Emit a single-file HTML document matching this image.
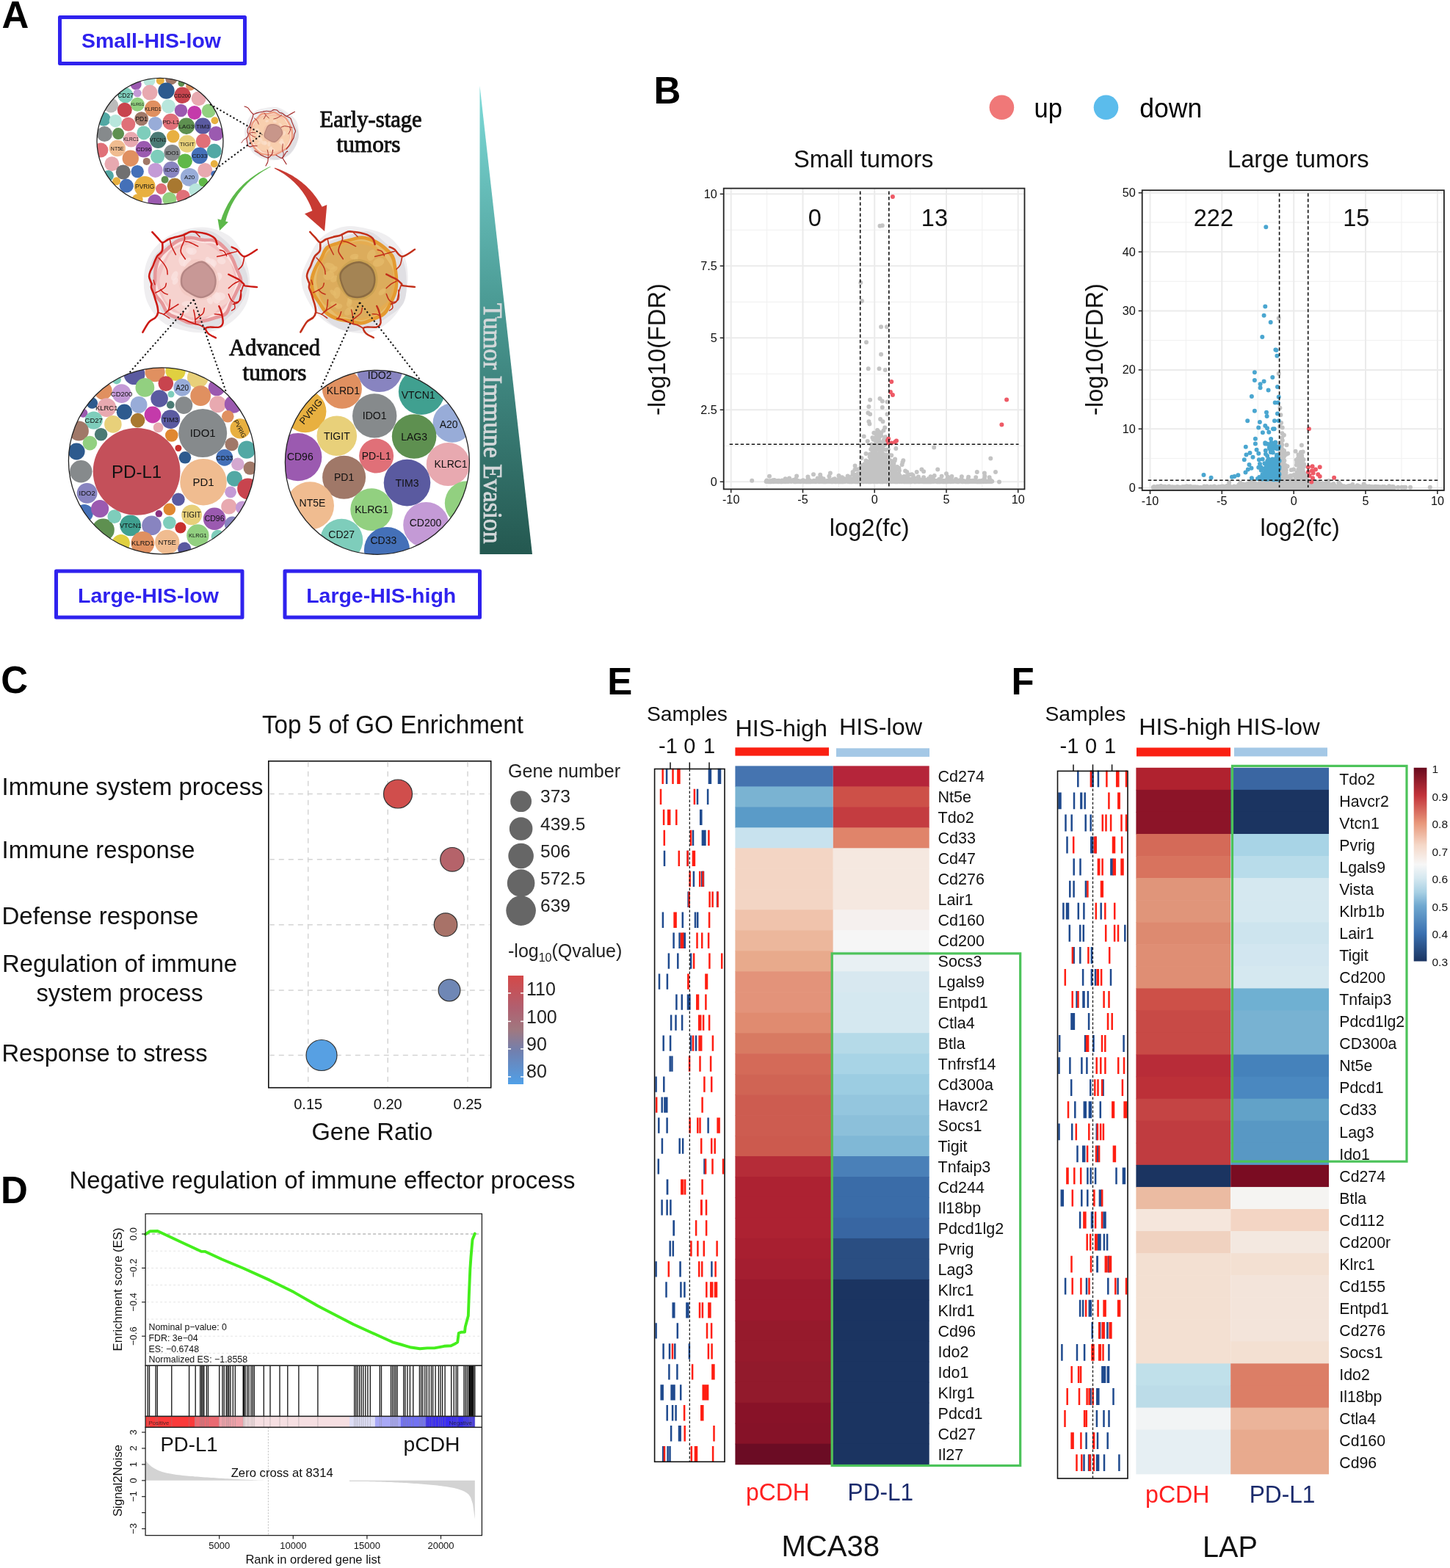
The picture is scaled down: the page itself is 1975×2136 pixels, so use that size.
<!DOCTYPE html>
<html><head><meta charset="utf-8"><title>Figure</title>
<style>html,body{margin:0;padding:0;background:#fff;} svg{display:block;}</style>
</head><body>
<svg width="1975" height="2136" viewBox="0 0 1975 2136">
<rect x="0" y="0" width="1975" height="2136" fill="#fff"/>
<clipPath id="cs"><circle cx="218.0" cy="192.3" r="86.0"/></clipPath>
<circle cx="218.0" cy="192.3" r="86.0" fill="#fff"/>
<g clip-path="url(#cs)">
<circle cx="203.4" cy="109.9" r="8.0" fill="#b8e6dc"/>
<circle cx="218.3" cy="109.9" r="5.5" fill="#e8b040"/>
<circle cx="233.3" cy="107.4" r="8.0" fill="#a07868"/>
<circle cx="185.2" cy="114.9" r="7.5" fill="#9b5ab0"/>
<circle cx="247.0" cy="113.6" r="4.5" fill="#5e9050"/>
<circle cx="259.4" cy="117.4" r="6.2" fill="#e09060"/>
<circle cx="171.0" cy="129.8" r="10.5" fill="#7ecdbb"/>
<circle cx="187.2" cy="126.8" r="5.5" fill="#c49ad6"/>
<circle cx="204.1" cy="126.1" r="10.5" fill="#e8a9b0"/>
<circle cx="226.5" cy="123.6" r="11.2" fill="#2d5a8e"/>
<circle cx="248.5" cy="129.8" r="11.2" fill="#c8444e"/>
<circle cx="270.6" cy="134.3" r="10.0" fill="#e8a9b0"/>
<circle cx="151.1" cy="143.5" r="10.0" fill="#bbbbbb"/>
<circle cx="187.2" cy="142.3" r="9.5" fill="#92d080"/>
<circle cx="208.4" cy="148.0" r="11.2" fill="#e09060"/>
<circle cx="229.5" cy="144.8" r="9.5" fill="#b8e6dc"/>
<circle cx="246.5" cy="150.5" r="8.7" fill="#9b5ab0"/>
<circle cx="264.9" cy="153.5" r="9.5" fill="#c43aaa"/>
<circle cx="284.3" cy="151.0" r="9.5" fill="#92d080"/>
<circle cx="169.8" cy="149.7" r="10.0" fill="#c8444e"/>
<circle cx="141.2" cy="162.2" r="9.5" fill="#52a8a4"/>
<circle cx="157.3" cy="164.7" r="8.7" fill="#b8e6dc"/>
<circle cx="192.7" cy="161.7" r="9.5" fill="#a07868"/>
<circle cx="211.6" cy="168.4" r="9.5" fill="#98acd8"/>
<circle cx="232.8" cy="165.9" r="11.2" fill="#e07078"/>
<circle cx="253.9" cy="171.7" r="11.2" fill="#5e9050"/>
<circle cx="276.3" cy="171.7" r="11.2" fill="#5a5aa0"/>
<circle cx="292.5" cy="164.2" r="5.0" fill="#e8b040"/>
<circle cx="174.8" cy="169.2" r="9.5" fill="#e07078"/>
<circle cx="142.4" cy="182.6" r="10.5" fill="#868a8c"/>
<circle cx="161.1" cy="182.1" r="8.0" fill="#5e9050"/>
<circle cx="195.9" cy="180.9" r="9.5" fill="#7ecdbb"/>
<circle cx="178.5" cy="190.1" r="10.5" fill="#e8a9b0"/>
<circle cx="215.3" cy="190.8" r="11.2" fill="#4a7a74"/>
<circle cx="235.8" cy="185.8" r="8.7" fill="#e8b040"/>
<circle cx="254.9" cy="195.8" r="11.9" fill="#e8d07a"/>
<circle cx="276.8" cy="192.1" r="10.0" fill="#e07078"/>
<circle cx="294.3" cy="182.1" r="10.0" fill="#9b5ab0"/>
<circle cx="159.8" cy="202.0" r="11.2" fill="#f0bc90"/>
<circle cx="195.9" cy="203.3" r="11.2" fill="#9b5ab0"/>
<circle cx="234.5" cy="208.2" r="11.2" fill="#868a8c"/>
<circle cx="271.9" cy="212.0" r="11.2" fill="#4470b8"/>
<circle cx="291.8" cy="205.8" r="10.0" fill="#52a8a4"/>
<circle cx="137.4" cy="204.5" r="10.0" fill="#e07078"/>
<circle cx="177.8" cy="215.7" r="11.2" fill="#e09060"/>
<circle cx="214.6" cy="213.2" r="9.5" fill="#7ecdbb"/>
<circle cx="251.9" cy="219.4" r="10.0" fill="#60b848"/>
<circle cx="199.7" cy="219.9" r="5.0" fill="#a07868"/>
<circle cx="152.4" cy="223.2" r="10.0" fill="#e8a9b0"/>
<circle cx="167.8" cy="234.4" r="10.0" fill="#707070"/>
<circle cx="187.2" cy="233.6" r="8.7" fill="#4470b8"/>
<circle cx="211.6" cy="231.9" r="10.0" fill="#c49ad6"/>
<circle cx="233.3" cy="231.2" r="11.2" fill="#8884c0"/>
<circle cx="258.2" cy="241.4" r="12.4" fill="#98acd8"/>
<circle cx="279.3" cy="231.9" r="10.0" fill="#e8a9b0"/>
<circle cx="291.8" cy="223.2" r="5.0" fill="#e8b040"/>
<circle cx="147.4" cy="239.4" r="7.5" fill="#52a8a4"/>
<circle cx="158.6" cy="246.8" r="5.5" fill="#e8b040"/>
<circle cx="172.3" cy="253.1" r="9.5" fill="#4470b8"/>
<circle cx="197.2" cy="254.3" r="14.4" fill="#e8b040"/>
<circle cx="219.6" cy="257.3" r="7.5" fill="#e07078"/>
<circle cx="224.6" cy="244.8" r="5.0" fill="#5e9050"/>
<circle cx="238.2" cy="253.1" r="10.5" fill="#a87830"/>
<circle cx="249.4" cy="268.0" r="9.5" fill="#e07078"/>
<circle cx="266.9" cy="259.3" r="9.5" fill="#b8e6dc"/>
<circle cx="276.8" cy="248.1" r="6.2" fill="#60b848"/>
<circle cx="210.9" cy="274.2" r="9.5" fill="#9b5ab0"/>
<circle cx="230.8" cy="271.2" r="9.5" fill="#92d080"/>
<circle cx="187.2" cy="271.7" r="7.5" fill="#e8b040"/>
<circle cx="291.8" cy="236.9" r="4.5" fill="#4470b8"/>
<text x="171.0" y="132.9" font-size="8.5" text-anchor="middle" fill="#111" font-family="'Liberation Sans', Arial, sans-serif" >CD27</text>
<text x="248.5" y="132.5" font-size="7.5" text-anchor="middle" fill="#111" font-family="'Liberation Sans', Arial, sans-serif" >CD200</text>
<text x="187.2" y="144.3" font-size="5.5" text-anchor="middle" fill="#111" font-family="'Liberation Sans', Arial, sans-serif" >KLRG1</text>
<text x="208.4" y="150.5" font-size="7" text-anchor="middle" fill="#111" font-family="'Liberation Sans', Arial, sans-serif" >KLRD1</text>
<text x="192.7" y="164.8" font-size="8.5" text-anchor="middle" fill="#111" font-family="'Liberation Sans', Arial, sans-serif" >PD1</text>
<text x="232.8" y="168.8" font-size="8" text-anchor="middle" fill="#111" font-family="'Liberation Sans', Arial, sans-serif" >PD-L1</text>
<text x="253.9" y="174.5" font-size="8" text-anchor="middle" fill="#111" font-family="'Liberation Sans', Arial, sans-serif" >LAG3</text>
<text x="276.3" y="174.5" font-size="8" text-anchor="middle" fill="#111" font-family="'Liberation Sans', Arial, sans-serif" >TIM3</text>
<text x="178.5" y="192.4" font-size="6.5" text-anchor="middle" fill="#111" font-family="'Liberation Sans', Arial, sans-serif" >KLRC1</text>
<text x="215.3" y="193.3" font-size="7" text-anchor="middle" fill="#111" font-family="'Liberation Sans', Arial, sans-serif" >VTCN1</text>
<text x="254.9" y="198.7" font-size="8" text-anchor="middle" fill="#111" font-family="'Liberation Sans', Arial, sans-serif" >TIGIT</text>
<text x="159.8" y="204.5" font-size="7" text-anchor="middle" fill="#111" font-family="'Liberation Sans', Arial, sans-serif" >NT5E</text>
<text x="195.9" y="206.1" font-size="8" text-anchor="middle" fill="#111" font-family="'Liberation Sans', Arial, sans-serif" >CD96</text>
<text x="234.5" y="211.1" font-size="8" text-anchor="middle" fill="#111" font-family="'Liberation Sans', Arial, sans-serif" >IDO1</text>
<text x="271.9" y="214.9" font-size="8" text-anchor="middle" fill="#111" font-family="'Liberation Sans', Arial, sans-serif" >CD33</text>
<text x="233.3" y="234.0" font-size="8" text-anchor="middle" fill="#111" font-family="'Liberation Sans', Arial, sans-serif" >IDO2</text>
<text x="258.2" y="244.2" font-size="8" text-anchor="middle" fill="#111" font-family="'Liberation Sans', Arial, sans-serif" >A20</text>
<text x="197.2" y="257.4" font-size="8.5" text-anchor="middle" fill="#111" font-family="'Liberation Sans', Arial, sans-serif" >PVRIG</text>
</g>
<circle cx="218.0" cy="192.3" r="86.0" fill="none" stroke="#222" stroke-width="1.3"/>
<clipPath id="cl"><circle cx="220.4" cy="627.8" r="127.0"/></clipPath>
<circle cx="220.4" cy="627.8" r="127.0" fill="#fff"/>
<g clip-path="url(#cl)">
<circle cx="183.0" cy="509.7" r="14.4" fill="#5a5aa0"/>
<circle cx="211.1" cy="506.7" r="13.6" fill="#e09060"/>
<circle cx="239.1" cy="505.2" r="13.6" fill="#e0d040"/>
<circle cx="269.4" cy="514.2" r="14.4" fill="#e8d07a"/>
<circle cx="295.2" cy="527.9" r="11.4" fill="#9b5ab0"/>
<circle cx="158.8" cy="517.3" r="6.1" fill="#7ecdbb"/>
<circle cx="140.6" cy="532.4" r="12.1" fill="#e09060"/>
<circle cx="165.6" cy="536.2" r="12.9" fill="#c49ad6"/>
<circle cx="197.4" cy="527.9" r="12.9" fill="#92d080"/>
<circle cx="225.8" cy="522.6" r="10.3" fill="#c8444e"/>
<circle cx="248.2" cy="527.9" r="11.8" fill="#98acd8"/>
<circle cx="233.0" cy="537.0" r="4.5" fill="#7ecdbb"/>
<circle cx="273.2" cy="539.2" r="13.9" fill="#e09060"/>
<circle cx="125.5" cy="549.1" r="7.6" fill="#2d5a8e"/>
<circle cx="145.2" cy="555.2" r="12.9" fill="#e8a9b0"/>
<circle cx="169.4" cy="561.2" r="10.6" fill="#2d5a8e"/>
<circle cx="189.1" cy="551.4" r="11.4" fill="#98acd8"/>
<circle cx="217.1" cy="543.0" r="11.8" fill="#5a5aa0"/>
<circle cx="232.3" cy="551.4" r="5.3" fill="#4a7a74"/>
<circle cx="250.5" cy="552.1" r="11.8" fill="#868a8c"/>
<circle cx="296.7" cy="550.6" r="11.4" fill="#e8a9b0"/>
<circle cx="317.9" cy="550.6" r="12.1" fill="#9b5ab0"/>
<circle cx="113.3" cy="562.7" r="6.1" fill="#9b5ab0"/>
<circle cx="127.7" cy="572.6" r="12.1" fill="#7ecdbb"/>
<circle cx="153.9" cy="577.9" r="11.8" fill="#e8d07a"/>
<circle cx="187.6" cy="572.6" r="9.8" fill="#a87830"/>
<circle cx="208.0" cy="565.0" r="11.4" fill="#c43aaa"/>
<circle cx="215.6" cy="582.4" r="6.8" fill="#e8a9b0"/>
<circle cx="232.3" cy="571.1" r="12.9" fill="#5a5aa0"/>
<circle cx="310.3" cy="567.3" r="8.3" fill="#e09060"/>
<circle cx="107.3" cy="587.0" r="13.6" fill="#a07868"/>
<circle cx="137.6" cy="591.8" r="8.8" fill="#4a7a74"/>
<circle cx="233.8" cy="593.0" r="8.8" fill="#e08830"/>
<circle cx="327.0" cy="583.9" r="13.6" fill="#e8b040"/>
<circle cx="122.4" cy="603.6" r="9.8" fill="#92d080"/>
<circle cx="104.2" cy="615.0" r="11.4" fill="#2d5a8e"/>
<circle cx="242.9" cy="610.5" r="4.5" fill="#c8302e"/>
<circle cx="252.0" cy="623.3" r="8.3" fill="#2d5a8e"/>
<circle cx="315.6" cy="605.2" r="9.1" fill="#a07868"/>
<circle cx="336.1" cy="612.7" r="12.1" fill="#52a8a4"/>
<circle cx="323.9" cy="632.4" r="8.8" fill="#d4a8d0"/>
<circle cx="340.6" cy="637.7" r="9.1" fill="#a07868"/>
<circle cx="319.4" cy="652.1" r="10.6" fill="#52a8a4"/>
<circle cx="337.6" cy="665.8" r="14.4" fill="#c8444e"/>
<circle cx="314.1" cy="670.3" r="7.9" fill="#c49ad6"/>
<circle cx="311.8" cy="690.0" r="10.6" fill="#e8a9b0"/>
<circle cx="316.4" cy="714.2" r="10.6" fill="#8884c0"/>
<circle cx="330.0" cy="691.5" r="9.1" fill="#c49ad6"/>
<circle cx="110.3" cy="642.3" r="15.2" fill="#868a8c"/>
<circle cx="118.6" cy="671.8" r="13.9" fill="#8884c0"/>
<circle cx="114.8" cy="699.1" r="12.1" fill="#4470b8"/>
<circle cx="136.1" cy="693.0" r="12.1" fill="#9b5ab0"/>
<circle cx="140.6" cy="721.8" r="15.2" fill="#5e9050"/>
<circle cx="155.8" cy="703.6" r="9.4" fill="#7ecdbb"/>
<circle cx="164.8" cy="740.0" r="12.1" fill="#e0d040"/>
<circle cx="177.7" cy="715.8" r="14.4" fill="#40a090"/>
<circle cx="206.5" cy="715.8" r="13.3" fill="#8884c0"/>
<circle cx="194.4" cy="740.0" r="15.9" fill="#e09060"/>
<circle cx="227.7" cy="738.5" r="16.7" fill="#f0bc90"/>
<circle cx="230.8" cy="712.0" r="8.8" fill="#7ecdbb"/>
<circle cx="245.9" cy="718.8" r="7.6" fill="#c8302e"/>
<circle cx="216.4" cy="699.8" r="4.8" fill="#8a3080"/>
<circle cx="230.8" cy="693.8" r="8.3" fill="#e08830"/>
<circle cx="242.9" cy="680.2" r="8.8" fill="#5a5aa0"/>
<circle cx="269.4" cy="729.4" r="15.2" fill="#92d080"/>
<circle cx="296.7" cy="730.9" r="9.1" fill="#7ecdbb"/>
<circle cx="251.2" cy="747.6" r="9.1" fill="#5a5aa0"/>
<circle cx="261.1" cy="701.4" r="13.9" fill="#e8d07a"/>
<circle cx="292.1" cy="706.7" r="15.2" fill="#9b5ab0"/>
<circle cx="305.8" cy="623.3" r="11.4" fill="#4470b8"/>
<circle cx="276.2" cy="590.0" r="33.0" fill="#868a8c"/>
<circle cx="277.0" cy="656.7" r="31.8" fill="#f0bc90"/>
<circle cx="186.1" cy="642.3" r="59.4" fill="#c4505a"/>
<text x="165.6" y="539.6" font-size="9.5" text-anchor="middle" fill="#111" font-family="'Liberation Sans', Arial, sans-serif" >CD200</text>
<text x="248.2" y="531.5" font-size="10" text-anchor="middle" fill="#111" font-family="'Liberation Sans', Arial, sans-serif" >A20</text>
<text x="145.2" y="558.6" font-size="9.5" text-anchor="middle" fill="#111" font-family="'Liberation Sans', Arial, sans-serif" >KLRC1</text>
<text x="127.7" y="576.0" font-size="9.5" text-anchor="middle" fill="#111" font-family="'Liberation Sans', Arial, sans-serif" >CD27</text>
<text x="232.3" y="574.5" font-size="9.5" text-anchor="middle" fill="#111" font-family="'Liberation Sans', Arial, sans-serif" >TIM3</text>
<text x="327.0" y="587.0" font-size="8.5" text-anchor="middle" fill="#111" font-family="'Liberation Sans', Arial, sans-serif" transform="rotate(62 327.0 583.9)">PVRIG</text>
<text x="118.6" y="675.2" font-size="9.5" text-anchor="middle" fill="#111" font-family="'Liberation Sans', Arial, sans-serif" >IDO2</text>
<text x="177.7" y="719.0" font-size="9" text-anchor="middle" fill="#111" font-family="'Liberation Sans', Arial, sans-serif" >VTCN1</text>
<text x="194.4" y="743.4" font-size="9.5" text-anchor="middle" fill="#111" font-family="'Liberation Sans', Arial, sans-serif" >KLRD1</text>
<text x="227.7" y="741.9" font-size="9.5" text-anchor="middle" fill="#111" font-family="'Liberation Sans', Arial, sans-serif" >NT5E</text>
<text x="269.4" y="732.1" font-size="7.5" text-anchor="middle" fill="#111" font-family="'Liberation Sans', Arial, sans-serif" >KLRG1</text>
<text x="261.1" y="705.0" font-size="10" text-anchor="middle" fill="#111" font-family="'Liberation Sans', Arial, sans-serif" >TIGIT</text>
<text x="292.1" y="710.4" font-size="10.5" text-anchor="middle" fill="#111" font-family="'Liberation Sans', Arial, sans-serif" >CD96</text>
<text x="305.8" y="626.6" font-size="9" text-anchor="middle" fill="#111" font-family="'Liberation Sans', Arial, sans-serif" >CD33</text>
<text x="276.2" y="595.4" font-size="15" text-anchor="middle" fill="#111" font-family="'Liberation Sans', Arial, sans-serif" >IDO1</text>
<text x="277.0" y="662.1" font-size="15" text-anchor="middle" fill="#111" font-family="'Liberation Sans', Arial, sans-serif" >PD1</text>
<text x="186.1" y="650.9" font-size="24" text-anchor="middle" fill="#111" font-family="'Liberation Sans', Arial, sans-serif" >PD-L1</text>
</g>
<circle cx="220.4" cy="627.8" r="127.0" fill="none" stroke="#222" stroke-width="1.3"/>
<clipPath id="ch"><circle cx="513.9" cy="629.8" r="125.5"/></clipPath>
<circle cx="513.9" cy="629.8" r="125.5" fill="#fff"/>
<g clip-path="url(#ch)">
<circle cx="517.1" cy="502.9" r="31.1" fill="#8884c0"/>
<circle cx="465.9" cy="529.7" r="27.0" fill="#e09060"/>
<circle cx="574.2" cy="533.6" r="31.4" fill="#40a090"/>
<circle cx="415.6" cy="560.5" r="28.8" fill="#e8b040"/>
<circle cx="510.2" cy="566.4" r="30.2" fill="#868a8c"/>
<circle cx="458.8" cy="593.8" r="27.3" fill="#e8d07a"/>
<circle cx="616.4" cy="575.9" r="26.8" fill="#98acd8"/>
<circle cx="564.1" cy="594.5" r="30.3" fill="#5e9050"/>
<circle cx="405.8" cy="622.6" r="32.6" fill="#9b5ab0"/>
<circle cx="512.6" cy="621.1" r="23.5" fill="#e07078"/>
<circle cx="610.3" cy="632.4" r="29.5" fill="#e8a9b0"/>
<circle cx="468.6" cy="650.2" r="29.5" fill="#a07868"/>
<circle cx="554.5" cy="657.6" r="31.8" fill="#5a5aa0"/>
<circle cx="422.4" cy="688.8" r="32.6" fill="#f0bc90"/>
<circle cx="636.1" cy="685.5" r="30.3" fill="#92d080"/>
<circle cx="506.1" cy="694.1" r="28.8" fill="#92d080"/>
<circle cx="580.3" cy="715.0" r="31.1" fill="#c49ad6"/>
<circle cx="465.2" cy="735.8" r="29.1" fill="#7ecdbb"/>
<circle cx="527.0" cy="749.1" r="31.1" fill="#4470b8"/>
<text x="517.1" y="516.3" font-size="14" text-anchor="middle" fill="#111" font-family="'Liberation Sans', Arial, sans-serif" >IDO2</text>
<text x="467.4" y="537.0" font-size="14" text-anchor="middle" fill="#111" font-family="'Liberation Sans', Arial, sans-serif" >KLRD1</text>
<text x="569.7" y="543.2" font-size="14" text-anchor="middle" fill="#111" font-family="'Liberation Sans', Arial, sans-serif" >VTCN1</text>
<text x="423.2" y="565.1" font-size="13" text-anchor="middle" fill="#111" font-family="'Liberation Sans', Arial, sans-serif" transform="rotate(-50 423.2 560.5)">PVRIG</text>
<text x="510.2" y="571.4" font-size="14" text-anchor="middle" fill="#111" font-family="'Liberation Sans', Arial, sans-serif" >IDO1</text>
<text x="458.8" y="598.8" font-size="14" text-anchor="middle" fill="#111" font-family="'Liberation Sans', Arial, sans-serif" >TIGIT</text>
<text x="611.1" y="583.2" font-size="14" text-anchor="middle" fill="#111" font-family="'Liberation Sans', Arial, sans-serif" >A20</text>
<text x="564.1" y="599.6" font-size="14" text-anchor="middle" fill="#111" font-family="'Liberation Sans', Arial, sans-serif" >LAG3</text>
<text x="408.8" y="626.9" font-size="14" text-anchor="middle" fill="#111" font-family="'Liberation Sans', Arial, sans-serif" >CD96</text>
<text x="512.6" y="626.1" font-size="14" text-anchor="middle" fill="#111" font-family="'Liberation Sans', Arial, sans-serif" >PD-L1</text>
<text x="614.1" y="636.7" font-size="14" text-anchor="middle" fill="#111" font-family="'Liberation Sans', Arial, sans-serif" >KLRC1</text>
<text x="468.6" y="655.2" font-size="14" text-anchor="middle" fill="#111" font-family="'Liberation Sans', Arial, sans-serif" >PD1</text>
<text x="554.5" y="662.6" font-size="14" text-anchor="middle" fill="#111" font-family="'Liberation Sans', Arial, sans-serif" >TIM3</text>
<text x="425.5" y="690.0" font-size="14" text-anchor="middle" fill="#111" font-family="'Liberation Sans', Arial, sans-serif" >NT5E</text>
<text x="506.1" y="699.1" font-size="14" text-anchor="middle" fill="#111" font-family="'Liberation Sans', Arial, sans-serif" >KLRG1</text>
<text x="579.5" y="717.0" font-size="14" text-anchor="middle" fill="#111" font-family="'Liberation Sans', Arial, sans-serif" >CD200</text>
<text x="465.2" y="733.2" font-size="14" text-anchor="middle" fill="#111" font-family="'Liberation Sans', Arial, sans-serif" >CD27</text>
<text x="522.4" y="740.5" font-size="14" text-anchor="middle" fill="#111" font-family="'Liberation Sans', Arial, sans-serif" >CD33</text>
</g>
<circle cx="513.9" cy="629.8" r="125.5" fill="none" stroke="#222" stroke-width="1.3"/>
<path d="M406.7,181.6 C406.6,187.0 405.5,192.7 403.3,197.7 C401.2,202.6 397.9,208.1 393.7,211.4 C389.5,214.7 383.5,216.4 378.2,217.4 C372.8,218.4 367.0,218.7 361.8,217.5 C356.6,216.4 350.9,214.0 346.9,210.6 C342.9,207.2 339.9,202.0 337.7,197.2 C335.4,192.3 333.3,186.9 333.1,181.6 C332.9,176.3 334.2,170.4 336.5,165.5 C338.7,160.5 342.2,155.2 346.5,152.1 C350.8,149.0 356.8,147.8 362.1,146.9 C367.3,145.9 373.0,145.1 378.1,146.3 C383.1,147.4 387.9,150.6 392.2,153.7 C396.5,156.9 401.6,160.6 404.0,165.2 C406.4,169.9 406.8,176.2 406.7,181.6Z" fill="#efeef0"/>
<path d="M406.9,183.6 C407.1,188.5 405.0,193.9 402.8,198.4 C400.6,202.9 397.3,207.3 393.5,210.5 C389.6,213.7 384.6,216.8 379.8,217.6 C375.0,218.5 369.5,216.8 364.7,215.5 C359.9,214.3 354.8,213.0 350.8,210.2 C346.8,207.4 342.8,203.2 340.5,198.8 C338.3,194.3 337.0,188.6 337.2,183.6 C337.4,178.6 339.1,173.2 341.5,168.9 C344.0,164.7 347.9,161.2 351.8,158.2 C355.6,155.3 359.9,152.7 364.6,151.2 C369.3,149.7 375.3,148.1 379.8,149.3 C384.4,150.5 388.5,155.1 392.1,158.4 C395.7,161.7 399.2,165.1 401.7,169.3 C404.2,173.5 406.7,178.7 406.9,183.6Z" fill="#e0dfe3"/>
<path d="M399.2,182.6 C399.3,185.5 399.2,188.5 398.4,191.2 C397.7,194.0 396.5,196.9 394.8,199.2 C393.1,201.5 390.6,203.2 388.3,204.8 C386.0,206.5 383.6,207.8 381.1,209.1 C378.6,210.3 376.0,211.8 373.3,212.3 C370.5,212.8 367.6,212.3 364.8,212.0 C361.9,211.8 358.8,211.9 356.1,210.8 C353.5,209.8 351.0,207.8 348.9,205.8 C346.7,203.9 344.8,201.6 343.3,199.1 C341.8,196.7 340.6,193.9 339.8,191.2 C339.0,188.4 338.2,185.4 338.3,182.6 C338.5,179.8 339.9,177.0 340.8,174.3 C341.6,171.6 342.1,168.6 343.6,166.3 C345.1,164.0 347.6,162.3 349.7,160.3 C351.8,158.3 353.5,155.3 356.0,154.1 C358.5,153.0 361.9,154.1 364.8,153.7 C367.7,153.3 370.7,151.5 373.4,151.8 C376.1,152.2 378.5,154.7 381.2,156.0 C383.8,157.2 387.0,157.6 389.1,159.4 C391.3,161.1 392.7,164.0 394.2,166.4 C395.6,168.9 397.0,171.4 397.8,174.1 C398.7,176.8 399.1,179.7 399.2,182.6Z" fill="#ee9c80"/>
<path d="M396.9,182.6 C397.0,185.2 396.8,188.0 396.1,190.6 C395.4,193.1 394.4,195.8 392.8,197.9 C391.2,200.0 388.9,201.6 386.8,203.1 C384.7,204.6 382.4,205.9 380.1,207.0 C377.8,208.1 375.4,209.5 372.9,210.0 C370.4,210.4 367.7,210.0 365.1,209.7 C362.5,209.5 359.6,209.6 357.1,208.6 C354.7,207.7 352.4,205.8 350.4,204.0 C348.5,202.2 346.7,200.1 345.3,197.8 C343.9,195.6 342.9,193.0 342.1,190.5 C341.3,188.0 340.6,185.2 340.7,182.6 C340.9,180.0 342.2,177.5 343.0,175.0 C343.8,172.5 344.3,169.7 345.6,167.6 C347.0,165.4 349.3,163.9 351.2,162.1 C353.1,160.2 354.7,157.4 357.0,156.4 C359.4,155.4 362.5,156.3 365.2,155.9 C367.8,155.6 370.6,153.9 373.1,154.3 C375.6,154.6 377.8,156.9 380.2,158.1 C382.6,159.2 385.6,159.6 387.6,161.2 C389.6,162.8 390.8,165.4 392.2,167.7 C393.5,170.0 394.8,172.3 395.6,174.8 C396.4,177.3 396.8,180.0 396.9,182.6Z" fill="#fbe0cc"/>
<path d="M395.4,182.6 C395.4,185.1 395.3,187.7 394.6,190.1 C393.9,192.5 392.7,194.9 391.3,197.0 C390.0,199.1 388.3,201.1 386.4,202.7 C384.5,204.3 382.3,205.6 380.0,206.7 C377.8,207.9 375.3,209.1 372.9,209.4 C370.4,209.7 367.8,208.9 365.3,208.5 C362.8,208.2 360.0,208.3 357.8,207.2 C355.6,206.1 354.0,203.7 352.2,202.0 C350.4,200.3 348.3,198.8 346.9,196.8 C345.5,194.8 344.3,192.4 343.7,190.0 C343.1,187.7 343.2,185.1 343.0,182.6 C342.9,180.1 342.2,177.3 342.9,174.9 C343.5,172.6 345.5,170.5 346.9,168.4 C348.2,166.2 349.3,163.8 351.1,161.9 C352.9,160.1 355.1,158.3 357.5,157.4 C359.9,156.5 362.7,157.0 365.3,156.7 C367.8,156.3 370.4,155.1 372.9,155.3 C375.4,155.5 378.1,156.6 380.4,157.7 C382.7,158.8 385.0,160.3 386.7,162.1 C388.4,164.0 389.3,166.5 390.6,168.7 C391.9,170.9 393.8,172.8 394.6,175.1 C395.4,177.4 395.4,180.1 395.4,182.6Z" fill="#ee9c80" opacity="0.45"/>
<path d="M394.0,182.6 C394.0,185.0 394.4,187.6 393.9,189.9 C393.3,192.2 392.1,194.5 390.8,196.6 C389.5,198.7 388.1,201.0 386.2,202.4 C384.3,203.9 381.6,204.4 379.3,205.2 C377.1,206.1 374.9,207.0 372.6,207.3 C370.2,207.7 367.8,207.5 365.5,207.2 C363.1,206.8 360.9,206.1 358.6,205.3 C356.4,204.5 353.7,203.8 352.0,202.3 C350.2,200.7 349.4,198.1 348.1,196.0 C346.9,193.9 345.1,192.0 344.4,189.8 C343.7,187.6 344.0,185.0 344.0,182.6 C344.1,180.2 344.3,177.8 344.9,175.5 C345.5,173.2 346.5,171.0 347.6,168.9 C348.8,166.7 350.0,164.4 351.8,162.8 C353.6,161.2 356.0,159.9 358.3,159.2 C360.6,158.4 363.1,158.5 365.5,158.3 C367.9,158.1 370.3,157.5 372.6,157.8 C374.9,158.1 377.0,159.2 379.3,160.0 C381.6,160.8 384.3,161.3 386.2,162.7 C388.2,164.1 389.7,166.4 391.0,168.4 C392.3,170.5 393.6,172.9 394.1,175.2 C394.6,177.6 394.1,180.2 394.0,182.6Z" fill="#f8cfae"/>
<ellipse cx="384.4" cy="194.8" rx="3.5" ry="2.8" fill="#fbe0cc" opacity="0.7" transform="rotate(49 384.4 194.8)"/>
<ellipse cx="368.3" cy="202.5" rx="3.5" ry="2.1" fill="#fbe0cc" opacity="0.7" transform="rotate(123 368.3 202.5)"/>
<ellipse cx="352.8" cy="194.9" rx="2.6" ry="1.5" fill="#fbe0cc" opacity="0.7" transform="rotate(162 352.8 194.9)"/>
<ellipse cx="359.2" cy="194.8" rx="3.8" ry="2.6" fill="#fbe0cc" opacity="0.7" transform="rotate(27 359.2 194.8)"/>
<ellipse cx="350.7" cy="176.5" rx="2.7" ry="1.9" fill="#fbe0cc" opacity="0.7" transform="rotate(22 350.7 176.5)"/>
<ellipse cx="361.7" cy="194.6" rx="2.7" ry="2.2" fill="#fbe0cc" opacity="0.7" transform="rotate(73 361.7 194.6)"/>
<ellipse cx="386.2" cy="181.6" rx="3.5" ry="2.6" fill="#fbe0cc" opacity="0.7" transform="rotate(124 386.2 181.6)"/>
<ellipse cx="383.2" cy="194.6" rx="3.5" ry="1.9" fill="#fbe0cc" opacity="0.7" transform="rotate(17 383.2 194.6)"/>
<ellipse cx="381.7" cy="169.9" rx="2.7" ry="1.7" fill="#fbe0cc" opacity="0.7" transform="rotate(39 381.7 169.9)"/>
<ellipse cx="374.3" cy="165.6" rx="2.6" ry="1.9" fill="#fbe0cc" opacity="0.7" transform="rotate(16 374.3 165.6)"/>
<ellipse cx="366.4" cy="196.0" rx="3.7" ry="2.0" fill="#fbe0cc" opacity="0.7" transform="rotate(95 366.4 196.0)"/>
<ellipse cx="383.7" cy="192.3" rx="3.6" ry="2.4" fill="#fbe0cc" opacity="0.7" transform="rotate(82 383.7 192.3)"/>
<ellipse cx="351.8" cy="184.2" rx="3.4" ry="1.8" fill="#fbe0cc" opacity="0.7" transform="rotate(85 351.8 184.2)"/>
<ellipse cx="370.8" cy="203.6" rx="4.0" ry="2.1" fill="#fbe0cc" opacity="0.7" transform="rotate(26 370.8 203.6)"/>
<ellipse cx="363.7" cy="164.9" rx="2.4" ry="1.7" fill="#fbe0cc" opacity="0.7" transform="rotate(170 363.7 164.9)"/>
<ellipse cx="354.4" cy="190.2" rx="3.4" ry="2.7" fill="#fbe0cc" opacity="0.7" transform="rotate(47 354.4 190.2)"/>
<path d="M386.4,181.6 C386.2,184.3 384.1,186.9 382.4,189.2 C380.7,191.4 378.8,194.1 376.3,195.0 C373.9,195.8 370.6,194.9 368.0,194.1 C365.3,193.2 361.8,192.2 360.3,190.1 C358.8,188.0 359.1,184.4 359.1,181.6 C359.2,178.8 359.0,175.4 360.4,173.2 C361.9,171.0 365.0,169.2 367.7,168.3 C370.3,167.5 373.7,167.3 376.4,168.0 C379.1,168.8 382.0,170.8 383.7,173.1 C385.4,175.3 386.6,178.9 386.4,181.6Z" fill="#f2c2a8" opacity="0.8"/>
<path d="M385.1,181.6 C384.9,184.2 382.4,186.7 380.6,188.8 C378.8,190.9 376.6,193.6 374.2,194.0 C371.8,194.5 368.7,192.9 366.2,191.6 C363.8,190.2 360.5,188.4 359.7,186.1 C358.9,183.8 360.5,180.4 361.4,177.8 C362.4,175.1 363.4,171.8 365.5,170.4 C367.7,169.0 371.5,168.8 374.2,169.3 C376.9,169.7 380.0,171.3 381.9,173.3 C383.7,175.4 385.3,179.0 385.1,181.6Z" fill="#b88478"/>
<path d="M383.8,181.6 C383.6,183.9 381.4,186.2 379.8,188.1 C378.1,190.0 376.1,192.4 374.0,192.8 C371.8,193.2 369.0,191.8 366.8,190.6 C364.6,189.4 361.6,187.7 360.9,185.7 C360.1,183.6 361.6,180.5 362.5,178.1 C363.4,175.8 364.3,172.8 366.2,171.5 C368.1,170.2 371.5,170.0 374.0,170.5 C376.4,170.9 379.3,172.3 380.9,174.1 C382.5,176.0 384.0,179.3 383.8,181.6Z" fill="#c8968a"/>
<path d="M333.0,145.0 C333.8,145.3 336.2,145.8 337.6,146.9 C339.0,148.0 340.1,150.3 341.4,151.8 C342.7,153.2 343.7,155.2 345.2,155.5 C346.6,155.9 348.0,154.5 350.1,153.9 C352.1,153.4 355.5,152.7 357.6,152.3 C359.8,151.8 361.2,151.3 363.0,151.2 C364.9,151.1 366.8,152.0 368.5,151.8 C370.1,151.5 371.3,149.9 372.8,149.6 C374.2,149.3 375.8,149.5 377.1,150.1 C378.5,150.8 379.6,152.7 380.9,153.4 C382.2,154.1 383.2,153.6 384.7,154.5 C386.2,155.3 388.3,158.1 390.1,158.2 C391.9,158.4 393.6,156.5 395.5,155.5 C397.4,154.6 400.5,152.8 401.5,152.3" fill="none" stroke="#a02424" stroke-width="1.10" stroke-linecap="round" stroke-linejoin="round"/>
<path d="M345.2,155.5 C345.0,156.3 344.6,158.4 344.1,159.9 C343.7,161.3 343.1,162.4 342.5,164.2 C341.9,166.0 341.1,168.9 340.3,170.7 C339.5,172.5 338.2,173.5 337.6,175.0 C337.1,176.6 337.0,178.6 337.1,179.9 C337.2,181.2 338.1,181.6 338.2,182.6 C338.2,183.6 338.0,184.9 337.6,185.8 C337.3,186.7 336.2,186.9 336.0,188.0 C335.8,189.1 336.3,190.7 336.5,192.3 C336.8,194.0 337.0,196.5 337.6,197.8 C338.2,199.0 339.1,199.7 340.3,199.9 C341.5,200.1 343.0,199.0 344.6,198.8 C346.3,198.7 349.2,198.8 350.1,198.8" fill="none" stroke="#a02424" stroke-width="1.10" stroke-linecap="round" stroke-linejoin="round"/>
<path d="M336.0,188.0 C335.4,188.4 333.4,189.1 332.2,190.2 C331.0,191.3 329.5,193.8 329.0,194.5" fill="none" stroke="#a02424" stroke-width="1.00" stroke-linecap="round" stroke-linejoin="round"/>
<path d="M390.1,158.2 C391.0,158.7 394.3,159.6 395.5,161.0 C396.8,162.3 396.8,164.1 397.7,166.4 C398.6,168.6 400.1,172.4 400.9,174.5 C401.7,176.6 402.5,177.5 402.5,178.8 C402.5,180.2 401.4,181.1 400.9,182.6 C400.5,184.1 400.6,186.2 399.8,188.0 C399.1,189.8 397.5,191.9 396.6,193.4 C395.7,195.0 395.5,195.6 394.4,197.2 C393.4,198.8 390.8,202.2 390.1,203.2" fill="none" stroke="#a02424" stroke-width="1.10" stroke-linecap="round" stroke-linejoin="round"/>
<path d="M346.8,205.3 C347.7,205.9 350.9,207.7 352.2,208.6 C353.6,209.5 353.6,209.9 354.9,210.7 C356.3,211.6 358.6,212.7 360.3,213.4 C362.1,214.2 363.9,215.2 365.2,215.1 C366.6,214.9 367.6,213.3 368.5,212.4 C369.4,211.5 370.1,211.0 370.6,209.7 C371.2,208.3 371.5,205.1 371.7,204.2" fill="none" stroke="#a02424" stroke-width="1.10" stroke-linecap="round" stroke-linejoin="round"/>
<path d="M365.2,215.1 C365.1,216.0 365.2,218.7 364.7,220.5 C364.1,222.3 362.4,225.0 362.0,225.9" fill="none" stroke="#a02424" stroke-width="1.10" stroke-linecap="round" stroke-linejoin="round"/>
<path d="M365.2,215.1 C365.2,214.0 365.4,210.4 365.2,208.6 C365.0,206.8 364.3,205.0 364.1,204.2" fill="none" stroke="#a02424" stroke-width="0.90" stroke-linecap="round" stroke-linejoin="round"/>
<path d="M376.0,211.3 C376.8,211.7 378.9,213.4 380.4,214.0 C381.8,214.6 383.1,216.2 384.7,215.1 C386.3,213.9 388.9,208.4 390.1,207.0 C391.3,205.5 391.5,206.5 391.7,206.4" fill="none" stroke="#a02424" stroke-width="1.10" stroke-linecap="round" stroke-linejoin="round"/>
<path d="M384.7,215.1 C385.1,215.8 386.5,218.0 387.4,219.4 C388.3,220.8 389.7,223.0 390.1,223.7" fill="none" stroke="#a02424" stroke-width="1.10" stroke-linecap="round" stroke-linejoin="round"/>
<path d="M384.7,215.1 C385.0,214.2 386.3,211.5 386.3,209.7 C386.3,207.9 384.9,206.5 384.7,204.2 C384.5,202.0 385.1,197.5 385.2,196.1" fill="none" stroke="#a02424" stroke-width="0.90" stroke-linecap="round" stroke-linejoin="round"/>
<path d="M346.3,161.0 C346.9,161.5 349.1,162.8 350.1,164.2 C351.1,165.6 351.9,168.3 352.2,169.1" fill="none" stroke="#a02424" stroke-width="0.90" stroke-linecap="round" stroke-linejoin="round"/>
<path d="M360.3,154.5 C360.7,154.9 361.5,156.1 362.5,157.2 C363.5,158.2 365.7,160.3 366.3,161.0" fill="none" stroke="#a02424" stroke-width="0.90" stroke-linecap="round" stroke-linejoin="round"/>
<path d="M362.0,157.2 L359.3,162.0" fill="none" stroke="#a02424" stroke-width="0.90" stroke-linecap="round" stroke-linejoin="round"/>
<path d="M372.8,162.0 C373.7,161.8 376.4,161.3 378.2,160.4 C380.0,159.5 382.7,157.3 383.6,156.6" fill="none" stroke="#a02424" stroke-width="0.90" stroke-linecap="round" stroke-linejoin="round"/>
<path d="M383.1,173.4 C383.8,173.1 385.5,171.9 387.4,171.8 C389.3,171.7 392.6,172.5 394.4,172.9 C396.2,173.2 397.6,173.8 398.2,173.9" fill="none" stroke="#a02424" stroke-width="0.90" stroke-linecap="round" stroke-linejoin="round"/>
<path d="M392.8,182.6 C393.3,181.7 395.2,178.8 395.5,177.2 C395.8,175.6 394.6,173.6 394.4,172.9" fill="none" stroke="#a02424" stroke-width="0.90" stroke-linecap="round" stroke-linejoin="round"/>
<path d="M339.8,181.5 C340.5,181.3 342.8,180.5 344.1,180.4 C345.5,180.3 347.3,180.9 347.9,181.0" fill="none" stroke="#a02424" stroke-width="0.90" stroke-linecap="round" stroke-linejoin="round"/>
<path d="M340.3,182.6 C341.0,183.1 342.8,184.6 344.1,185.3 C345.4,186.0 347.3,186.7 347.9,186.9" fill="none" stroke="#a02424" stroke-width="0.90" stroke-linecap="round" stroke-linejoin="round"/>
<path d="M340.2,381.0 C340.7,391.5 340.1,403.6 335.9,413.2 C331.7,422.9 323.6,432.3 315.1,438.8 C306.7,445.3 295.6,450.2 285.3,452.2 C274.9,454.2 263.6,452.8 253.1,450.7 C242.6,448.6 230.9,445.7 222.3,439.5 C213.7,433.3 205.9,423.3 201.5,413.5 C197.0,403.8 195.5,391.7 195.8,381.0 C196.0,370.3 198.3,358.6 203.1,349.2 C207.8,339.9 216.0,331.1 224.3,325.0 C232.7,318.9 243.2,314.9 253.4,312.5 C263.5,310.1 274.9,308.6 285.1,310.4 C295.4,312.2 307.0,316.8 314.9,323.4 C322.8,330.1 328.4,340.8 332.6,350.4 C336.9,359.9 339.7,370.5 340.2,381.0Z" fill="#efeef0"/>
<path d="M337.9,383.0 C338.1,392.3 334.4,403.0 329.8,411.3 C325.2,419.6 317.9,426.4 310.6,432.7 C303.3,439.0 295.1,446.8 286.1,449.0 C277.1,451.2 265.9,448.6 256.6,446.1 C247.3,443.6 237.9,439.6 230.4,433.9 C222.9,428.1 216.1,420.1 211.5,411.6 C207.0,403.2 204.0,392.8 203.4,383.0 C202.8,373.2 203.6,361.3 208.0,352.7 C212.4,344.0 221.7,337.4 229.6,331.1 C237.5,324.8 245.9,317.5 255.4,314.8 C264.9,312.1 277.2,311.9 286.6,314.8 C295.9,317.7 304.5,325.5 311.5,332.2 C318.5,339.0 324.1,346.8 328.5,355.3 C332.9,363.8 337.7,373.7 337.9,383.0Z" fill="#e0dfe3"/>
<path d="M330.4,382.0 C330.3,387.5 326.4,393.3 324.1,398.5 C321.8,403.7 319.2,408.2 316.7,413.3 C314.2,418.4 313.0,425.6 309.0,429.3 C304.9,433.0 297.8,433.6 292.4,435.4 C286.9,437.1 281.8,438.6 276.3,439.8 C270.8,440.9 264.8,442.9 259.3,442.3 C253.8,441.7 248.6,438.3 243.3,436.1 C238.0,433.8 231.5,432.6 227.4,428.9 C223.2,425.2 221.7,418.7 218.5,413.8 C215.3,409.0 209.8,404.9 208.1,399.6 C206.5,394.3 208.4,387.8 208.7,382.0 C209.0,376.2 208.6,370.5 209.8,364.9 C210.9,359.3 212.6,353.2 215.6,348.3 C218.7,343.5 223.6,339.7 228.0,335.8 C232.4,332.0 236.9,327.8 242.2,325.4 C247.4,323.0 253.6,321.6 259.3,321.4 C265.0,321.3 270.5,323.9 276.3,324.6 C282.0,325.3 288.5,323.7 293.8,325.6 C299.0,327.5 303.7,332.1 307.7,336.2 C311.7,340.3 315.1,345.1 317.9,350.0 C320.6,354.8 322.2,360.1 324.3,365.5 C326.4,370.8 330.4,376.5 330.4,382.0Z" fill="#e6979a"/>
<path d="M325.5,382.0 C325.5,387.1 321.8,392.4 319.7,397.2 C317.6,402.0 315.2,406.1 312.9,410.8 C310.6,415.6 309.5,422.2 305.8,425.6 C302.0,429.0 295.5,429.6 290.5,431.2 C285.4,432.8 280.7,434.2 275.7,435.2 C270.6,436.3 265.1,438.1 260.0,437.6 C254.9,437.0 250.2,433.9 245.2,431.8 C240.3,429.8 234.4,428.6 230.5,425.2 C226.7,421.8 225.3,415.8 222.3,411.3 C219.4,406.8 214.3,403.1 212.8,398.2 C211.3,393.3 213.1,387.3 213.3,382.0 C213.6,376.7 213.3,371.4 214.4,366.2 C215.4,361.1 216.9,355.4 219.7,351.0 C222.5,346.5 227.1,343.0 231.1,339.5 C235.2,335.9 239.4,332.1 244.2,329.8 C249.0,327.6 254.7,326.3 260.0,326.2 C265.2,326.1 270.3,328.5 275.6,329.1 C280.9,329.7 286.9,328.2 291.7,330.0 C296.6,331.8 300.9,336.0 304.6,339.8 C308.3,343.5 311.4,348.0 313.9,352.5 C316.5,357.0 318.0,361.8 319.9,366.8 C321.8,371.7 325.5,376.9 325.5,382.0Z" fill="#fbe4e2"/>
<path d="M322.2,382.0 C321.9,386.9 319.5,391.9 317.7,396.6 C316.0,401.3 314.1,405.7 311.6,410.0 C309.2,414.3 306.8,419.4 303.1,422.5 C299.3,425.5 293.8,426.4 289.3,428.6 C284.7,430.8 280.6,434.5 275.7,435.7 C270.9,436.9 265.1,436.9 260.3,435.7 C255.5,434.5 251.3,430.7 246.8,428.5 C242.2,426.4 236.6,425.7 232.7,422.7 C228.8,419.7 226.0,415.0 223.3,410.7 C220.6,406.4 218.2,401.9 216.5,397.1 C214.8,392.3 213.2,387.1 213.0,382.0 C212.7,376.9 213.3,371.2 215.1,366.5 C216.8,361.7 220.8,357.8 223.7,353.5 C226.5,349.2 228.6,344.2 232.3,340.8 C235.9,337.3 240.8,334.8 245.4,332.6 C250.1,330.4 255.2,327.7 260.2,327.5 C265.1,327.3 270.2,330.7 275.3,331.4 C280.4,332.2 286.4,330.1 290.8,332.0 C295.3,333.9 298.6,339.1 302.0,342.8 C305.4,346.5 308.5,350.1 311.3,354.1 C314.2,358.2 317.5,362.3 319.3,366.9 C321.1,371.6 322.4,377.1 322.2,382.0Z" fill="#e6979a" opacity="0.45"/>
<path d="M320.5,382.0 C320.7,386.9 319.8,392.1 318.4,396.8 C317.0,401.5 315.1,406.6 312.0,410.3 C309.0,414.0 303.9,416.0 300.1,419.1 C296.3,422.1 293.4,426.4 289.2,428.5 C285.1,430.6 279.9,431.3 275.2,431.9 C270.4,432.6 265.4,433.2 260.8,432.3 C256.2,431.5 251.7,428.9 247.5,426.8 C243.4,424.6 239.3,422.3 235.6,419.4 C231.9,416.5 228.0,413.2 225.5,409.3 C223.0,405.4 221.7,400.5 220.4,396.0 C219.1,391.4 217.3,386.6 217.4,382.0 C217.6,377.4 219.6,372.7 221.2,368.2 C222.7,363.8 224.6,359.7 226.7,355.5 C228.9,351.3 230.8,346.2 234.2,343.0 C237.6,339.8 242.6,338.0 247.1,336.1 C251.5,334.3 256.1,332.6 260.8,331.7 C265.5,330.8 270.7,330.1 275.4,330.8 C280.0,331.6 284.7,334.0 288.8,336.4 C293.0,338.7 296.2,342.1 300.1,345.0 C303.9,347.9 308.8,350.2 311.7,353.9 C314.5,357.7 315.6,362.9 317.0,367.6 C318.5,372.3 320.2,377.1 320.5,382.0Z" fill="#f6d2ce"/>
<ellipse cx="258.3" cy="341.7" rx="5.4" ry="4.3" fill="#fbe4e2" opacity="0.7" transform="rotate(35 258.3 341.7)"/>
<ellipse cx="254.6" cy="357.2" rx="7.4" ry="4.0" fill="#fbe4e2" opacity="0.7" transform="rotate(127 254.6 357.2)"/>
<ellipse cx="261.6" cy="342.4" rx="6.3" ry="4.8" fill="#fbe4e2" opacity="0.7" transform="rotate(178 261.6 342.4)"/>
<ellipse cx="294.7" cy="405.7" rx="8.1" ry="5.9" fill="#fbe4e2" opacity="0.7" transform="rotate(80 294.7 405.7)"/>
<ellipse cx="253.4" cy="422.9" rx="5.0" ry="3.7" fill="#fbe4e2" opacity="0.7" transform="rotate(152 253.4 422.9)"/>
<ellipse cx="285.7" cy="409.0" rx="5.8" ry="3.8" fill="#fbe4e2" opacity="0.7" transform="rotate(66 285.7 409.0)"/>
<ellipse cx="301.7" cy="355.4" rx="5.8" ry="4.5" fill="#fbe4e2" opacity="0.7" transform="rotate(13 301.7 355.4)"/>
<ellipse cx="299.4" cy="403.9" rx="7.5" ry="5.6" fill="#fbe4e2" opacity="0.7" transform="rotate(179 299.4 403.9)"/>
<ellipse cx="287.9" cy="357.9" rx="7.3" ry="5.7" fill="#fbe4e2" opacity="0.7" transform="rotate(17 287.9 357.9)"/>
<ellipse cx="238.7" cy="383.0" rx="5.2" ry="3.4" fill="#fbe4e2" opacity="0.7" transform="rotate(121 238.7 383.0)"/>
<ellipse cx="296.5" cy="377.3" rx="6.5" ry="5.2" fill="#fbe4e2" opacity="0.7" transform="rotate(138 296.5 377.3)"/>
<ellipse cx="237.8" cy="375.8" rx="7.0" ry="4.0" fill="#fbe4e2" opacity="0.7" transform="rotate(116 237.8 375.8)"/>
<ellipse cx="248.1" cy="355.1" rx="7.5" ry="4.7" fill="#fbe4e2" opacity="0.7" transform="rotate(84 248.1 355.1)"/>
<ellipse cx="283.2" cy="355.0" rx="5.4" ry="3.6" fill="#fbe4e2" opacity="0.7" transform="rotate(78 283.2 355.0)"/>
<ellipse cx="289.8" cy="360.0" rx="6.0" ry="3.1" fill="#fbe4e2" opacity="0.7" transform="rotate(81 289.8 360.0)"/>
<ellipse cx="254.8" cy="413.9" rx="7.4" ry="3.8" fill="#fbe4e2" opacity="0.7" transform="rotate(178 254.8 413.9)"/>
<path d="M297.7,381.0 C298.0,386.4 297.1,393.3 294.1,397.8 C291.1,402.2 284.9,406.5 279.7,407.9 C274.5,409.2 268.2,407.6 262.9,405.9 C257.6,404.2 251.3,401.8 248.1,397.7 C244.8,393.5 243.1,386.3 243.4,381.0 C243.8,375.7 247.1,370.5 250.2,365.9 C253.4,361.4 257.3,355.4 262.2,353.8 C267.0,352.1 274.1,354.0 279.1,355.9 C284.2,357.9 289.3,361.2 292.4,365.4 C295.5,369.6 297.5,375.6 297.7,381.0Z" fill="#f2c8c2" opacity="0.8"/>
<path d="M294.7,381.0 C295.0,386.3 294.0,393.4 290.8,397.6 C287.6,401.8 280.7,405.6 275.4,406.1 C270.2,406.7 264.2,403.7 259.5,401.0 C254.7,398.3 248.9,394.5 246.9,389.8 C245.0,385.0 245.6,377.2 247.8,372.5 C249.9,367.8 255.2,364.4 259.8,361.6 C264.4,358.7 270.7,354.7 275.5,355.5 C280.3,356.2 285.6,361.8 288.8,366.1 C292.0,370.3 294.4,375.7 294.7,381.0Z" fill="#b48684"/>
<path d="M292.4,381.0 C292.7,385.7 291.8,392.2 288.9,396.0 C286.0,399.8 279.7,403.2 275.0,403.7 C270.3,404.2 264.9,401.5 260.6,399.0 C256.3,396.6 251.0,393.2 249.3,388.9 C247.5,384.6 248.1,377.6 250.0,373.4 C252.0,369.1 256.7,366.1 260.9,363.5 C265.1,360.9 270.7,357.3 275.1,357.9 C279.4,358.6 284.2,363.7 287.1,367.5 C290.0,371.4 292.1,376.3 292.4,381.0Z" fill="#c89896"/>
<path d="M207.4,316.2 C208.5,317.4 212.0,321.2 214.3,323.6 C216.6,325.9 218.8,330.1 221.2,330.5 C223.7,330.9 226.2,327.4 229.0,326.2 C231.9,324.9 235.2,324.1 238.6,323.1 C241.9,322.2 245.5,321.8 249.0,320.5 C252.4,319.3 256.2,316.5 259.3,315.8 C262.5,315.0 265.1,315.9 268.0,316.2 C270.9,316.5 273.8,316.8 276.7,317.5 C279.5,318.1 282.6,318.8 285.3,320.1 C288.1,321.4 291.4,323.1 293.1,325.3 C294.8,327.5 295.3,331.8 295.7,333.1" fill="none" stroke="#cc1a14" stroke-width="2.60" stroke-linecap="round" stroke-linejoin="round"/>
<path d="M221.2,330.5 C221.2,332.4 222.0,338.7 220.8,341.7 C219.7,344.8 216.0,346.4 214.3,348.7 C212.7,351.0 211.9,353.3 210.9,355.6 C209.8,357.9 209.3,360.2 208.3,362.5 C207.2,364.8 205.7,367.1 204.8,369.4 C203.9,371.8 203.0,374.1 203.1,376.4 C203.1,378.7 204.7,381.6 205.2,383.3 C205.8,385.0 206.4,385.3 206.5,386.8 C206.7,388.2 205.7,389.8 206.1,392.0 C206.5,394.1 208.2,397.0 209.1,399.7 C210.1,402.5 210.9,405.5 211.7,408.4 C212.6,411.3 213.7,414.2 214.3,417.1 C214.9,420.0 215.6,423.1 215.2,425.7 C214.8,428.3 213.7,430.5 211.7,432.6 C209.7,434.8 206.0,435.4 203.1,438.7 C200.2,442.0 195.8,450.3 194.4,452.6" fill="none" stroke="#cc1a14" stroke-width="2.60" stroke-linecap="round" stroke-linejoin="round"/>
<path d="M250.7,320.1 C250.8,321.1 252.1,323.4 251.5,326.2 C251.0,328.9 248.1,333.7 247.2,336.5 C246.4,339.4 245.5,340.7 246.4,343.5 C247.2,346.2 251.4,351.4 252.4,353.0" fill="none" stroke="#cc1a14" stroke-width="1.60" stroke-linecap="round" stroke-linejoin="round"/>
<path d="M252.4,328.8 C253.6,329.0 256.5,329.3 259.3,330.5 C262.2,331.6 268.0,334.8 269.7,335.7" fill="none" stroke="#cc1a14" stroke-width="1.50" stroke-linecap="round" stroke-linejoin="round"/>
<path d="M231.6,327.0 C231.9,328.3 232.1,331.5 233.4,334.8 C234.7,338.1 238.4,344.9 239.4,346.9" fill="none" stroke="#cc1a14" stroke-width="1.50" stroke-linecap="round" stroke-linejoin="round"/>
<path d="M266.3,316.6 L272.3,322.7" fill="none" stroke="#cc1a14" stroke-width="1.40" stroke-linecap="round" stroke-linejoin="round"/>
<path d="M315.6,336.5 C316.8,337.1 319.7,337.8 322.5,340.0 C325.4,342.2 328.3,349.5 332.9,349.5 C337.5,349.5 347.2,341.6 350.1,340.0" fill="none" stroke="#cc1a14" stroke-width="2.40" stroke-linecap="round" stroke-linejoin="round"/>
<path d="M332.9,349.5 C332.5,351.4 331.6,357.9 330.3,360.8 C329.0,363.7 326.0,365.8 325.1,366.8" fill="none" stroke="#cc1a14" stroke-width="1.60" stroke-linecap="round" stroke-linejoin="round"/>
<path d="M295.7,349.5 C297.6,349.1 303.6,347.8 307.0,346.9 C310.3,346.1 313.0,345.1 315.6,344.3 C318.2,343.6 321.4,342.9 322.5,342.6" fill="none" stroke="#cc1a14" stroke-width="1.50" stroke-linecap="round" stroke-linejoin="round"/>
<path d="M299.2,340.4 C300.2,340.8 303.6,341.2 305.2,342.6 C306.8,344.0 308.1,347.7 308.7,348.7" fill="none" stroke="#cc1a14" stroke-width="1.40" stroke-linecap="round" stroke-linejoin="round"/>
<path d="M311.3,373.8 C312.4,374.4 315.9,376.1 318.2,377.2 C320.5,378.4 322.8,379.1 325.1,380.7 C327.5,382.3 330.6,385.3 332.1,386.8 C333.5,388.2 330.8,388.6 333.8,389.4 C336.8,390.1 347.4,390.8 350.1,391.1" fill="none" stroke="#cc1a14" stroke-width="2.40" stroke-linecap="round" stroke-linejoin="round"/>
<path d="M332.1,386.8 C331.5,388.5 329.8,393.1 328.6,397.2 C327.5,401.2 327.0,408.1 325.1,411.0 C323.3,413.9 318.6,413.9 317.4,414.5" fill="none" stroke="#cc1a14" stroke-width="1.60" stroke-linecap="round" stroke-linejoin="round"/>
<path d="M311.3,392.8 C312.4,391.8 315.9,388.3 318.2,386.8 C320.5,385.2 324.0,383.9 325.1,383.3" fill="none" stroke="#cc1a14" stroke-width="1.50" stroke-linecap="round" stroke-linejoin="round"/>
<path d="M311.3,400.6 C311.9,401.9 313.3,406.5 314.8,408.4 C316.2,410.3 317.9,411.7 319.9,411.9 C322.0,412.0 325.4,410.9 326.9,409.3 C328.3,407.7 328.5,404.7 328.6,402.3 C328.8,400.0 327.9,396.6 327.7,395.4" fill="none" stroke="#cc1a14" stroke-width="1.50" stroke-linecap="round" stroke-linejoin="round"/>
<path d="M319.1,412.7 C319.2,413.9 320.5,417.9 319.9,419.7 C319.4,421.4 316.3,422.5 315.6,423.1" fill="none" stroke="#cc1a14" stroke-width="1.40" stroke-linecap="round" stroke-linejoin="round"/>
<path d="M298.3,417.1 C298.7,418.1 300.2,421.0 300.9,423.1 C301.6,425.3 302.2,427.2 302.6,430.1 C303.1,432.9 304.2,437.8 303.5,440.4 C302.8,443.0 301.3,444.8 298.3,445.6 C295.3,446.5 288.3,445.3 285.3,445.6 C282.3,445.9 280.4,445.9 280.1,447.4 C279.8,448.8 281.3,452.2 283.6,454.3 C285.9,456.4 292.2,459.2 294.0,460.2" fill="none" stroke="#cc1a14" stroke-width="2.40" stroke-linecap="round" stroke-linejoin="round"/>
<path d="M280.1,447.4 C278.8,446.6 274.8,444.0 272.3,443.0 C269.9,442.0 267.7,442.0 265.4,441.3 C263.1,440.6 260.9,439.7 258.5,438.7 C256.0,437.7 253.1,436.0 250.7,435.2 C248.2,434.5 244.9,434.5 243.8,434.4" fill="none" stroke="#cc1a14" stroke-width="1.80" stroke-linecap="round" stroke-linejoin="round"/>
<path d="M263.7,422.3 C264.0,423.6 265.0,427.0 265.4,430.1 C265.8,433.1 266.1,438.7 266.3,440.4" fill="none" stroke="#cc1a14" stroke-width="1.50" stroke-linecap="round" stroke-linejoin="round"/>
<path d="M278.4,419.7 C278.1,420.8 278.0,424.6 276.7,426.6 C275.4,428.6 272.3,430.3 270.6,431.8 C268.9,433.2 267.0,434.7 266.3,435.2" fill="none" stroke="#cc1a14" stroke-width="1.50" stroke-linecap="round" stroke-linejoin="round"/>
<path d="M292.2,427.9 C293.3,428.0 296.6,428.0 298.3,428.3 C300.0,428.7 301.9,429.8 302.6,430.1" fill="none" stroke="#cc1a14" stroke-width="1.40" stroke-linecap="round" stroke-linejoin="round"/>
<path d="M249.8,424.9 C249.5,425.7 248.8,428.5 248.1,430.1 C247.4,431.6 245.9,433.7 245.5,434.4" fill="none" stroke="#cc1a14" stroke-width="1.50" stroke-linecap="round" stroke-linejoin="round"/>
<path d="M231.6,408.4 C231.5,409.8 231.2,414.6 230.8,417.1 C230.3,419.5 230.3,421.2 229.0,423.1 C227.7,425.0 224.0,427.5 223.0,428.3" fill="none" stroke="#cc1a14" stroke-width="1.60" stroke-linecap="round" stroke-linejoin="round"/>
<path d="M242.9,414.5 C241.3,415.5 236.1,418.8 233.4,420.5 C230.6,422.3 227.6,424.1 226.4,424.9" fill="none" stroke="#cc1a14" stroke-width="1.50" stroke-linecap="round" stroke-linejoin="round"/>
<path d="M215.2,425.7 C216.5,426.2 220.4,427.0 223.0,428.3 C225.6,429.6 229.5,432.6 230.8,433.5" fill="none" stroke="#cc1a14" stroke-width="1.50" stroke-linecap="round" stroke-linejoin="round"/>
<path d="M216.1,351.3 C217.2,352.6 221.1,356.5 223.0,359.1 C224.9,361.7 226.4,364.4 227.3,366.8 C228.2,369.3 228.0,372.6 228.2,373.8" fill="none" stroke="#cc1a14" stroke-width="1.50" stroke-linecap="round" stroke-linejoin="round"/>
<path d="M226.4,385.9 C226.2,386.8 226.0,389.5 224.7,391.1 C223.4,392.7 220.8,394.1 218.6,395.4 C216.5,396.7 212.9,398.3 211.7,398.9" fill="none" stroke="#cc1a14" stroke-width="1.50" stroke-linecap="round" stroke-linejoin="round"/>
<path d="M218.6,394.6 C219.4,395.3 221.4,397.8 223.0,398.9 C224.6,400.0 227.3,400.7 228.2,401.0" fill="none" stroke="#cc1a14" stroke-width="1.40" stroke-linecap="round" stroke-linejoin="round"/>
<path d="M209.1,381.6 L210.9,387.6" fill="none" stroke="#cc1a14" stroke-width="1.40" stroke-linecap="round" stroke-linejoin="round"/>
<path d="M555.5,381.0 C555.2,391.4 553.3,402.3 549.1,411.8 C544.9,421.2 538.3,430.8 530.4,437.7 C522.5,444.6 511.9,451.3 501.7,453.4 C491.5,455.5 479.5,453.1 469.4,450.3 C459.3,447.4 449.1,442.8 441.0,436.4 C432.9,430.1 425.8,421.3 420.7,412.1 C415.6,402.8 410.5,391.3 410.5,381.0 C410.6,370.7 416.4,359.9 421.1,350.2 C425.8,340.4 430.8,329.6 438.7,322.7 C446.6,315.8 458.3,310.6 468.7,308.7 C479.1,306.9 490.6,309.3 501.0,311.7 C511.4,314.2 522.6,317.4 530.9,323.6 C539.3,329.9 546.7,339.8 550.8,349.4 C554.9,359.0 555.8,370.6 555.5,381.0Z" fill="#efeef0"/>
<path d="M553.6,383.0 C553.8,392.9 554.0,404.7 549.5,413.0 C545.1,421.3 534.8,427.1 526.8,432.7 C518.9,438.3 510.9,443.5 501.7,446.6 C492.5,449.6 481.1,452.8 471.7,451.0 C462.2,449.2 452.0,442.7 444.9,436.0 C437.9,429.3 433.3,419.7 429.4,410.9 C425.5,402.0 422.3,392.6 421.5,383.0 C420.8,373.4 420.8,361.6 424.9,353.0 C428.9,344.3 437.8,336.5 445.9,331.2 C453.9,325.9 463.6,323.7 473.1,321.1 C482.5,318.4 493.6,313.5 502.6,315.4 C511.7,317.4 519.6,326.4 527.2,332.8 C534.8,339.2 543.7,345.3 548.1,353.7 C552.5,362.0 553.4,373.1 553.6,383.0Z" fill="#e0dfe3"/>
<path d="M542.3,382.0 C542.4,387.5 542.0,393.2 540.6,398.6 C539.2,403.9 536.7,409.0 534.0,414.0 C531.4,419.1 529.0,425.2 524.9,428.9 C520.7,432.7 514.5,434.4 509.2,436.7 C503.9,439.0 498.5,442.1 492.9,442.6 C487.4,443.1 481.5,440.6 475.9,439.7 C470.3,438.7 464.5,438.6 459.2,436.8 C453.8,435.0 448.0,432.4 443.7,428.7 C439.4,425.0 436.7,419.5 433.5,414.6 C430.3,409.7 426.3,405.0 424.4,399.6 C422.5,394.1 421.7,387.7 422.2,382.0 C422.6,376.3 424.8,370.4 427.1,365.2 C429.3,360.0 432.8,355.7 435.6,350.8 C438.4,345.8 439.9,339.2 444.0,335.6 C448.0,331.9 454.6,330.7 459.9,328.9 C465.3,327.1 470.5,326.0 476.0,324.8 C481.5,323.5 487.3,321.2 492.9,321.3 C498.6,321.5 504.6,323.4 509.9,325.8 C515.2,328.1 520.2,331.5 524.7,335.3 C529.1,339.0 534.0,343.3 536.7,348.3 C539.3,353.3 539.6,359.8 540.6,365.4 C541.5,371.1 542.3,376.5 542.3,382.0Z" fill="#e49a30"/>
<path d="M537.8,382.0 C537.8,387.1 537.5,392.3 536.2,397.3 C534.9,402.2 532.5,406.8 530.1,411.5 C527.7,416.2 525.5,421.8 521.7,425.3 C517.9,428.7 512.1,430.3 507.2,432.4 C502.3,434.5 497.3,437.4 492.2,437.9 C487.1,438.3 481.7,436.0 476.6,435.1 C471.4,434.2 466.1,434.2 461.1,432.5 C456.2,430.8 450.8,428.5 446.9,425.1 C442.9,421.7 440.4,416.5 437.5,412.0 C434.5,407.6 430.8,403.2 429.1,398.2 C427.4,393.2 426.6,387.3 427.0,382.0 C427.5,376.7 429.5,371.3 431.5,366.5 C433.6,361.7 436.8,357.8 439.4,353.2 C442.0,348.7 443.4,342.6 447.1,339.2 C450.9,335.9 456.9,334.7 461.8,333.1 C466.8,331.4 471.6,330.4 476.6,329.3 C481.7,328.1 487.0,325.9 492.2,326.1 C497.4,326.2 503.0,328.0 507.9,330.2 C512.7,332.3 517.4,335.5 521.5,339.0 C525.6,342.4 530.1,346.3 532.5,350.9 C535.0,355.6 535.3,361.6 536.1,366.7 C537.0,371.9 537.8,376.9 537.8,382.0Z" fill="#e6bc6c"/>
<path d="M536.6,382.0 C536.9,387.1 538.1,392.6 537.1,397.5 C536.1,402.5 533.3,407.4 530.5,411.8 C527.7,416.1 524.1,420.2 520.1,423.5 C516.2,426.7 511.5,429.3 506.8,431.4 C502.1,433.5 497.0,436.0 492.0,436.1 C487.0,436.3 482.0,433.3 476.9,432.5 C471.9,431.6 466.4,432.6 461.9,430.8 C457.4,428.9 454.0,424.6 450.1,421.3 C446.3,418.1 441.5,415.3 438.7,411.2 C435.9,407.2 434.8,401.8 433.5,396.9 C432.2,392.0 430.9,387.0 430.8,382.0 C430.8,377.0 431.7,371.8 433.1,367.0 C434.5,362.2 436.7,357.5 439.3,353.1 C441.8,348.8 444.8,344.4 448.5,340.8 C452.2,337.3 456.6,333.6 461.3,331.8 C466.0,330.0 471.6,330.7 476.7,330.1 C481.8,329.5 486.9,327.8 491.9,328.2 C497.0,328.5 502.5,329.9 506.9,332.2 C511.4,334.5 515.2,338.6 518.7,342.2 C522.1,345.9 524.8,350.0 527.5,354.2 C530.3,358.3 533.6,362.4 535.1,367.0 C536.6,371.7 536.2,376.9 536.6,382.0Z" fill="#e49a30" opacity="0.45"/>
<path d="M535.2,382.0 C535.2,386.8 534.6,391.8 533.4,396.4 C532.2,401.1 530.7,406.3 528.0,410.1 C525.2,414.0 520.6,416.6 516.8,419.7 C513.1,422.8 509.7,426.4 505.5,428.7 C501.3,431.1 496.4,432.9 491.6,433.8 C486.8,434.7 481.4,435.0 476.7,433.9 C472.1,432.7 468.0,429.2 463.7,427.0 C459.3,424.8 454.3,423.7 450.6,420.8 C446.8,417.9 443.6,413.8 441.1,409.7 C438.6,405.6 437.1,400.9 435.5,396.3 C433.9,391.7 431.6,386.8 431.6,382.0 C431.6,377.2 433.7,372.2 435.4,367.7 C437.1,363.1 439.3,358.9 441.7,354.7 C444.1,350.5 446.3,345.5 449.8,342.3 C453.3,339.1 458.3,337.0 462.9,335.3 C467.4,333.7 472.4,333.0 477.1,332.6 C481.8,332.1 486.6,332.0 491.3,332.5 C496.0,333.1 501.1,333.8 505.3,335.9 C509.4,337.9 512.6,341.9 516.2,345.0 C519.9,348.1 524.3,350.6 527.3,354.3 C530.2,358.1 532.5,362.8 533.8,367.4 C535.1,372.0 535.3,377.2 535.2,382.0Z" fill="#dcac5c"/>
<ellipse cx="447.9" cy="375.3" rx="7.7" ry="5.9" fill="#e6bc6c" opacity="0.7" transform="rotate(159 447.9 375.3)"/>
<ellipse cx="455.6" cy="414.6" rx="6.2" ry="3.7" fill="#e6bc6c" opacity="0.7" transform="rotate(17 455.6 414.6)"/>
<ellipse cx="455.0" cy="379.9" rx="5.7" ry="3.9" fill="#e6bc6c" opacity="0.7" transform="rotate(140 455.0 379.9)"/>
<ellipse cx="484.7" cy="353.9" rx="4.9" ry="2.8" fill="#e6bc6c" opacity="0.7" transform="rotate(99 484.7 353.9)"/>
<ellipse cx="505.8" cy="347.5" rx="8.0" ry="5.4" fill="#e6bc6c" opacity="0.7" transform="rotate(115 505.8 347.5)"/>
<ellipse cx="475.8" cy="413.0" rx="5.4" ry="3.6" fill="#e6bc6c" opacity="0.7" transform="rotate(109 475.8 413.0)"/>
<ellipse cx="454.2" cy="367.1" rx="6.2" ry="3.6" fill="#e6bc6c" opacity="0.7" transform="rotate(147 454.2 367.1)"/>
<ellipse cx="449.4" cy="362.6" rx="7.6" ry="4.4" fill="#e6bc6c" opacity="0.7" transform="rotate(21 449.4 362.6)"/>
<ellipse cx="475.5" cy="423.7" rx="7.5" ry="4.7" fill="#e6bc6c" opacity="0.7" transform="rotate(140 475.5 423.7)"/>
<ellipse cx="461.3" cy="417.1" rx="5.0" ry="3.6" fill="#e6bc6c" opacity="0.7" transform="rotate(176 461.3 417.1)"/>
<ellipse cx="453.8" cy="398.7" rx="5.2" ry="3.0" fill="#e6bc6c" opacity="0.7" transform="rotate(42 453.8 398.7)"/>
<ellipse cx="476.3" cy="408.6" rx="5.8" ry="3.1" fill="#e6bc6c" opacity="0.7" transform="rotate(94 476.3 408.6)"/>
<ellipse cx="458.8" cy="399.0" rx="8.1" ry="4.8" fill="#e6bc6c" opacity="0.7" transform="rotate(96 458.8 399.0)"/>
<ellipse cx="515.7" cy="357.4" rx="8.1" ry="5.6" fill="#e6bc6c" opacity="0.7" transform="rotate(157 515.7 357.4)"/>
<ellipse cx="520.5" cy="397.7" rx="5.9" ry="3.5" fill="#e6bc6c" opacity="0.7" transform="rotate(139 520.5 397.7)"/>
<ellipse cx="482.5" cy="349.4" rx="6.0" ry="3.5" fill="#e6bc6c" opacity="0.7" transform="rotate(168 482.5 349.4)"/>
<path d="M514.5,381.0 C514.4,386.5 512.9,393.0 509.8,397.4 C506.7,401.9 501.1,405.8 495.8,407.6 C490.6,409.3 483.5,409.8 478.4,407.9 C473.4,406.1 469.1,401.0 465.8,396.5 C462.5,392.1 458.7,386.3 458.5,381.0 C458.4,375.7 461.7,369.3 465.1,364.9 C468.4,360.5 473.4,356.2 478.6,354.4 C483.7,352.7 490.6,352.8 495.8,354.4 C501.1,356.0 507.2,359.8 510.3,364.2 C513.4,368.7 514.6,375.5 514.5,381.0Z" fill="#c8a050" opacity="0.8"/>
<path d="M511.6,381.0 C511.6,386.4 509.8,393.0 506.5,397.2 C503.1,401.3 496.9,404.8 491.6,405.8 C486.2,406.8 478.8,406.0 474.4,403.2 C470.0,400.4 467.2,394.2 465.2,389.0 C463.3,383.8 461.2,377.0 462.8,372.1 C464.4,367.2 470.2,362.5 475.0,359.8 C479.8,357.2 486.3,355.4 491.6,356.2 C496.8,357.1 503.2,360.7 506.5,364.8 C509.8,368.9 511.6,375.6 511.6,381.0Z" fill="#8c6c42"/>
<path d="M509.2,381.0 C509.2,385.9 507.6,391.9 504.6,395.6 C501.6,399.3 496.0,402.4 491.1,403.3 C486.3,404.3 479.6,403.5 475.6,401.0 C471.7,398.5 469.1,392.9 467.4,388.2 C465.6,383.5 463.7,377.4 465.2,373.0 C466.6,368.6 471.8,364.3 476.2,361.9 C480.5,359.5 486.4,357.9 491.1,358.7 C495.9,359.4 501.6,362.7 504.6,366.4 C507.6,370.1 509.2,376.1 509.2,381.0Z" fill="#a48454"/>
<path d="M422.3,316.0 C423.4,317.3 426.9,321.0 429.2,323.4 C431.5,325.8 433.7,329.9 436.1,330.3 C438.6,330.7 441.1,327.2 443.9,326.0 C446.8,324.8 450.1,323.9 453.5,323.0 C456.8,322.0 460.4,321.6 463.9,320.4 C467.3,319.1 471.1,316.3 474.2,315.6 C477.4,314.9 480.0,315.7 482.9,316.0 C485.8,316.3 488.7,316.7 491.6,317.3 C494.4,318.0 497.5,318.6 500.2,319.9 C503.0,321.2 506.3,323.0 508.0,325.1 C509.7,327.3 510.2,331.6 510.6,332.9" fill="none" stroke="#c2301a" stroke-width="2.60" stroke-linecap="round" stroke-linejoin="round"/>
<path d="M436.1,330.3 C436.1,332.2 436.9,338.5 435.7,341.6 C434.6,344.6 430.9,346.2 429.2,348.5 C427.6,350.8 426.8,353.1 425.8,355.4 C424.7,357.7 424.2,360.0 423.2,362.3 C422.2,364.7 420.6,367.0 419.7,369.3 C418.8,371.6 417.9,373.9 418.0,376.2 C418.0,378.5 419.6,381.4 420.1,383.1 C420.7,384.9 421.3,385.1 421.4,386.6 C421.6,388.0 420.6,389.6 421.0,391.8 C421.4,393.9 423.1,396.8 424.0,399.6 C425.0,402.3 425.8,405.3 426.6,408.2 C427.5,411.1 428.6,414.0 429.2,416.9 C429.8,419.8 430.5,423.0 430.1,425.5 C429.7,428.1 428.6,430.3 426.6,432.5 C424.6,434.6 420.9,435.2 418.0,438.5 C415.1,441.9 410.8,450.1 409.3,452.4" fill="none" stroke="#c2301a" stroke-width="2.60" stroke-linecap="round" stroke-linejoin="round"/>
<path d="M465.6,319.9 C465.7,320.9 467.0,323.2 466.5,326.0 C465.9,328.7 463.0,333.5 462.1,336.4 C461.3,339.3 460.4,340.6 461.3,343.3 C462.1,346.0 466.3,351.2 467.3,352.8" fill="none" stroke="#c2301a" stroke-width="1.60" stroke-linecap="round" stroke-linejoin="round"/>
<path d="M467.3,328.6 C468.5,328.9 471.4,329.2 474.2,330.3 C477.1,331.5 482.9,334.6 484.6,335.5" fill="none" stroke="#c2301a" stroke-width="1.50" stroke-linecap="round" stroke-linejoin="round"/>
<path d="M446.5,326.8 C446.8,328.1 447.0,331.3 448.3,334.6 C449.6,338.0 453.3,344.7 454.3,346.8" fill="none" stroke="#c2301a" stroke-width="1.50" stroke-linecap="round" stroke-linejoin="round"/>
<path d="M481.2,316.5 L487.2,322.5" fill="none" stroke="#c2301a" stroke-width="1.40" stroke-linecap="round" stroke-linejoin="round"/>
<path d="M530.5,336.4 C531.7,336.9 534.6,337.7 537.4,339.8 C540.3,342.0 543.2,349.4 547.8,349.4 C552.4,349.4 562.1,341.4 565.0,339.8" fill="none" stroke="#c2301a" stroke-width="2.40" stroke-linecap="round" stroke-linejoin="round"/>
<path d="M547.8,349.4 C547.4,351.2 546.5,357.7 545.2,360.6 C543.9,363.5 540.9,365.7 540.0,366.7" fill="none" stroke="#c2301a" stroke-width="1.60" stroke-linecap="round" stroke-linejoin="round"/>
<path d="M510.6,349.4 C512.5,348.9 518.5,347.6 521.9,346.8 C525.2,345.9 527.9,344.9 530.5,344.2 C533.1,343.4 536.3,342.7 537.4,342.4" fill="none" stroke="#c2301a" stroke-width="1.50" stroke-linecap="round" stroke-linejoin="round"/>
<path d="M514.1,340.3 C515.1,340.6 518.5,341.1 520.1,342.4 C521.7,343.8 523.0,347.5 523.6,348.5" fill="none" stroke="#c2301a" stroke-width="1.40" stroke-linecap="round" stroke-linejoin="round"/>
<path d="M526.2,373.6 C527.3,374.2 530.8,375.9 533.1,377.1 C535.4,378.2 537.7,378.9 540.0,380.5 C542.4,382.1 545.5,385.1 547.0,386.6 C548.4,388.0 545.7,388.5 548.7,389.2 C551.7,389.9 562.3,390.6 565.0,390.9" fill="none" stroke="#c2301a" stroke-width="2.40" stroke-linecap="round" stroke-linejoin="round"/>
<path d="M547.0,386.6 C546.4,388.3 544.7,392.9 543.5,397.0 C542.4,401.0 541.9,407.9 540.0,410.8 C538.2,413.7 533.6,413.7 532.3,414.3" fill="none" stroke="#c2301a" stroke-width="1.60" stroke-linecap="round" stroke-linejoin="round"/>
<path d="M526.2,392.6 C527.3,391.6 530.8,388.2 533.1,386.6 C535.4,385.0 538.9,383.7 540.0,383.1" fill="none" stroke="#c2301a" stroke-width="1.50" stroke-linecap="round" stroke-linejoin="round"/>
<path d="M526.2,400.4 C526.8,401.7 528.2,406.4 529.7,408.2 C531.1,410.1 532.8,411.6 534.8,411.7 C536.9,411.8 540.3,410.7 541.8,409.1 C543.2,407.5 543.4,404.5 543.5,402.2 C543.7,399.9 542.8,396.4 542.6,395.2" fill="none" stroke="#c2301a" stroke-width="1.50" stroke-linecap="round" stroke-linejoin="round"/>
<path d="M534.0,412.6 C534.1,413.7 535.4,417.8 534.8,419.5 C534.3,421.2 531.2,422.4 530.5,423.0" fill="none" stroke="#c2301a" stroke-width="1.40" stroke-linecap="round" stroke-linejoin="round"/>
<path d="M513.2,416.9 C513.6,417.9 515.1,420.8 515.8,423.0 C516.5,425.1 517.1,427.0 517.5,429.9 C518.0,432.8 519.1,437.7 518.4,440.3 C517.7,442.9 516.2,444.6 513.2,445.5 C510.2,446.3 503.2,445.2 500.2,445.5 C497.2,445.8 495.3,445.8 495.0,447.2 C494.7,448.6 496.2,452.0 498.5,454.1 C500.8,456.3 507.1,459.0 508.9,460.0" fill="none" stroke="#c2301a" stroke-width="2.40" stroke-linecap="round" stroke-linejoin="round"/>
<path d="M495.0,447.2 C493.7,446.5 489.7,443.9 487.2,442.9 C484.8,441.9 482.6,441.9 480.3,441.1 C478.0,440.4 475.8,439.5 473.4,438.5 C470.9,437.5 468.0,435.8 465.6,435.1 C463.1,434.4 459.8,434.4 458.7,434.2" fill="none" stroke="#c2301a" stroke-width="1.80" stroke-linecap="round" stroke-linejoin="round"/>
<path d="M478.6,422.1 C478.9,423.4 479.9,426.8 480.3,429.9 C480.7,432.9 481.0,438.5 481.2,440.3" fill="none" stroke="#c2301a" stroke-width="1.50" stroke-linecap="round" stroke-linejoin="round"/>
<path d="M493.3,419.5 C493.0,420.6 492.9,424.4 491.6,426.4 C490.3,428.4 487.2,430.2 485.5,431.6 C483.8,433.1 481.9,434.5 481.2,435.1" fill="none" stroke="#c2301a" stroke-width="1.50" stroke-linecap="round" stroke-linejoin="round"/>
<path d="M507.1,427.7 C508.2,427.8 511.5,427.8 513.2,428.1 C514.9,428.5 516.8,429.6 517.5,429.9" fill="none" stroke="#c2301a" stroke-width="1.40" stroke-linecap="round" stroke-linejoin="round"/>
<path d="M464.7,424.7 C464.4,425.5 463.7,428.3 463.0,429.9 C462.3,431.5 460.8,433.5 460.4,434.2" fill="none" stroke="#c2301a" stroke-width="1.50" stroke-linecap="round" stroke-linejoin="round"/>
<path d="M446.5,408.2 C446.4,409.7 446.1,414.4 445.7,416.9 C445.2,419.3 445.2,421.1 443.9,423.0 C442.6,424.8 438.9,427.3 437.9,428.1" fill="none" stroke="#c2301a" stroke-width="1.60" stroke-linecap="round" stroke-linejoin="round"/>
<path d="M457.8,414.3 C456.2,415.3 451.0,418.6 448.3,420.4 C445.5,422.1 442.5,424.0 441.3,424.7" fill="none" stroke="#c2301a" stroke-width="1.50" stroke-linecap="round" stroke-linejoin="round"/>
<path d="M430.1,425.5 C431.4,426.0 435.3,426.8 437.9,428.1 C440.5,429.4 444.4,432.5 445.7,433.3" fill="none" stroke="#c2301a" stroke-width="1.50" stroke-linecap="round" stroke-linejoin="round"/>
<path d="M431.0,351.1 C432.1,352.4 436.0,356.3 437.9,358.9 C439.8,361.5 441.3,364.2 442.2,366.7 C443.1,369.1 442.9,372.4 443.1,373.6" fill="none" stroke="#c2301a" stroke-width="1.50" stroke-linecap="round" stroke-linejoin="round"/>
<path d="M441.3,385.7 C441.1,386.6 440.9,389.3 439.6,390.9 C438.3,392.5 435.7,393.9 433.6,395.2 C431.4,396.5 427.8,398.1 426.6,398.7" fill="none" stroke="#c2301a" stroke-width="1.50" stroke-linecap="round" stroke-linejoin="round"/>
<path d="M433.6,394.4 C434.3,395.1 436.3,397.6 437.9,398.7 C439.5,399.8 442.2,400.5 443.1,400.9" fill="none" stroke="#c2301a" stroke-width="1.40" stroke-linecap="round" stroke-linejoin="round"/>
<path d="M424.0,381.4 L425.8,387.5" fill="none" stroke="#c2301a" stroke-width="1.40" stroke-linecap="round" stroke-linejoin="round"/>
<line x1="286.0" y1="142.0" x2="357.0" y2="183.0" stroke="#111" stroke-width="2" stroke-dasharray="2.2 3"/>
<line x1="294.0" y1="230.0" x2="357.0" y2="183.0" stroke="#111" stroke-width="2" stroke-dasharray="2.2 3"/>
<line x1="264.0" y1="408.0" x2="176.0" y2="508.0" stroke="#111" stroke-width="2" stroke-dasharray="2.2 3"/>
<line x1="264.0" y1="408.0" x2="308.0" y2="534.0" stroke="#111" stroke-width="2" stroke-dasharray="2.2 3"/>
<line x1="490.0" y1="412.0" x2="436.5" y2="530.0" stroke="#111" stroke-width="2" stroke-dasharray="2.2 3"/>
<line x1="490.0" y1="412.0" x2="572.7" y2="518.0" stroke="#111" stroke-width="2" stroke-dasharray="2.2 3"/>
<path d="M368.4,226.7 L365.0,228.3 L361.7,230.0 L358.5,231.7 L355.3,233.5 L352.2,235.3 L349.3,237.2 L346.3,239.2 L343.5,241.2 L340.7,243.2 L338.1,245.4 L335.4,247.5 L332.9,249.8 L330.5,252.1 L328.1,254.4 L325.8,256.8 L323.6,259.3 L321.4,261.8 L319.4,264.4 L317.4,267.1 L315.5,269.8 L313.7,272.5 L311.9,275.4 L310.2,278.3 L308.7,281.2 L307.2,284.2 L305.7,287.3 L304.4,290.4 L303.1,293.6 L302.0,296.8 L300.9,300.1 L307.1,301.9 L308.0,298.7 L308.9,295.6 L309.9,292.5 L311.0,289.4 L312.2,286.5 L313.5,283.5 L314.8,280.6 L316.2,277.8 L317.7,275.0 L319.3,272.2 L321.0,269.5 L322.7,266.9 L324.5,264.2 L326.5,261.7 L328.5,259.2 L330.5,256.7 L332.7,254.3 L335.0,251.9 L337.3,249.6 L339.7,247.3 L342.2,245.1 L344.8,242.9 L347.5,240.8 L350.3,238.7 L353.1,236.7 L356.0,234.7 L359.1,232.8 L362.2,230.9 L365.4,229.0 L368.6,227.3Z" fill="#5cb84a"/>
<path d="M296.5,298.3 L310.9,302.4 L299.2,314 Z" fill="#5cb84a"/>
<path d="M373.8,229.5 L376.5,230.9 L379.2,232.4 L381.8,233.9 L384.3,235.5 L386.8,237.1 L389.2,238.8 L391.5,240.5 L393.8,242.3 L395.9,244.1 L398.1,245.9 L400.1,247.8 L402.1,249.8 L404.0,251.7 L405.9,253.8 L407.7,255.8 L409.4,257.9 L411.1,260.1 L412.7,262.3 L414.2,264.5 L415.7,266.8 L417.1,269.1 L418.4,271.4 L419.7,273.8 L420.9,276.3 L422.1,278.8 L423.2,281.3 L424.2,283.9 L425.2,286.5 L426.2,289.1 L427.0,291.8 L441.0,286.2 L439.5,283.3 L438.0,280.5 L436.4,277.8 L434.8,275.2 L433.1,272.6 L431.4,270.0 L429.6,267.6 L427.8,265.2 L425.9,262.8 L423.9,260.6 L421.9,258.3 L419.8,256.2 L417.7,254.1 L415.5,252.1 L413.3,250.2 L411.1,248.3 L408.7,246.5 L406.4,244.7 L404.0,243.0 L401.5,241.4 L399.0,239.8 L396.4,238.3 L393.8,236.9 L391.1,235.5 L388.4,234.2 L385.7,233.0 L382.9,231.8 L380.0,230.6 L377.1,229.6 L374.2,228.5Z" fill="#c83a32"/>
<path d="M415,291.3 L445.3,278.9 L442.1,315.1 Z" fill="#c83a32"/>
<text x="505.0" y="173.0" font-size="30.5" text-anchor="middle" fill="#111" font-weight="normal" font-family="'Liberation Serif', 'Times New Roman', serif" textLength="139" lengthAdjust="spacingAndGlyphs" stroke="#111" stroke-width="0.9" stroke-linejoin="round">Early-stage</text>
<text x="502.0" y="206.5" font-size="30.5" text-anchor="middle" fill="#111" font-weight="normal" font-family="'Liberation Serif', 'Times New Roman', serif" textLength="87" lengthAdjust="spacingAndGlyphs" stroke="#111" stroke-width="0.9" stroke-linejoin="round">tumors</text>
<text x="374.0" y="484.0" font-size="30.5" text-anchor="middle" fill="#111" font-weight="normal" font-family="'Liberation Serif', 'Times New Roman', serif" textLength="124" lengthAdjust="spacingAndGlyphs" stroke="#111" stroke-width="0.9" stroke-linejoin="round">Advanced</text>
<text x="374.0" y="517.5" font-size="30.5" text-anchor="middle" fill="#111" font-weight="normal" font-family="'Liberation Serif', 'Times New Roman', serif" textLength="87" lengthAdjust="spacingAndGlyphs" stroke="#111" stroke-width="0.9" stroke-linejoin="round">tumors</text>
<linearGradient id="tri" x1="0" y1="0" x2="0" y2="1"><stop offset="0" stop-color="#7edbd9"/><stop offset="0.45" stop-color="#4c9c96"/><stop offset="1" stop-color="#245850"/></linearGradient>
<path d="M653.5,117 L725,755 L653.5,755 Z" fill="url(#tri)"/>
<text x="0" y="0" font-size="35" fill="#d4d8da" stroke="#d4d8da" stroke-width="0.8" font-family="'Liberation Serif', 'Times New Roman', serif" transform="translate(659,413) rotate(90)" textLength="327.5" lengthAdjust="spacingAndGlyphs">Tumor Immune Evasion</text>
<rect x="81.5" y="23.5" width="252.0" height="63.0" fill="none" stroke="#2f22ee" stroke-width="5" stroke-linejoin="round"/><text x="206.0" y="65.0" font-size="28" text-anchor="middle" fill="#2f22ee" font-weight="bold" font-family="'Liberation Sans', Arial, sans-serif" textLength="190" lengthAdjust="spacingAndGlyphs" >Small-HIS-low</text>
<rect x="76.5" y="778" width="253.5" height="63" fill="none" stroke="#2f22ee" stroke-width="5" stroke-linejoin="round"/><text x="202.0" y="820.5" font-size="28" text-anchor="middle" fill="#2f22ee" font-weight="bold" font-family="'Liberation Sans', Arial, sans-serif" textLength="192" lengthAdjust="spacingAndGlyphs" >Large-HIS-low</text>
<rect x="388" y="778" width="265.5" height="63" fill="none" stroke="#2f22ee" stroke-width="5" stroke-linejoin="round"/><text x="519.2" y="820.5" font-size="28" text-anchor="middle" fill="#2f22ee" font-weight="bold" font-family="'Liberation Sans', Arial, sans-serif" textLength="204" lengthAdjust="spacingAndGlyphs" >Large-HIS-high</text>
<text x="2.5" y="37.7" font-size="51" text-anchor="start" fill="#000" font-weight="bold" font-family="'Liberation Sans', Arial, sans-serif" >A</text>
<text x="890.5" y="140.8" font-size="51" text-anchor="start" fill="#000" font-weight="bold" font-family="'Liberation Sans', Arial, sans-serif" >B</text>
<circle cx="1364.4" cy="146.3" r="16.8" fill="#f07878"/>
<text x="1408.6" y="160.0" font-size="36.5" text-anchor="start" fill="#000" font-weight="normal" font-family="'Liberation Sans', Arial, sans-serif" textLength="38.4" lengthAdjust="spacingAndGlyphs" >up</text>
<circle cx="1506.5" cy="146.3" r="16.8" fill="#5bbcec"/>
<text x="1552.3" y="160.0" font-size="36.5" text-anchor="start" fill="#000" font-weight="normal" font-family="'Liberation Sans', Arial, sans-serif" textLength="85" lengthAdjust="spacingAndGlyphs" >down</text>
<rect x="985.7" y="256.6" width="409.79999999999995" height="409.79999999999995" fill="#fff"/>
<line x1="1044.6" y1="256.6" x2="1044.6" y2="666.4" stroke="#f2f2f2" stroke-width="1.2"/>
<line x1="1142.3" y1="256.6" x2="1142.3" y2="666.4" stroke="#f2f2f2" stroke-width="1.2"/>
<line x1="1240.1" y1="256.6" x2="1240.1" y2="666.4" stroke="#f2f2f2" stroke-width="1.2"/>
<line x1="1337.8" y1="256.6" x2="1337.8" y2="666.4" stroke="#f2f2f2" stroke-width="1.2"/>
<line x1="985.7" y1="607.3" x2="1395.5" y2="607.3" stroke="#f2f2f2" stroke-width="1.2"/>
<line x1="985.7" y1="509.3" x2="1395.5" y2="509.3" stroke="#f2f2f2" stroke-width="1.2"/>
<line x1="985.7" y1="411.3" x2="1395.5" y2="411.3" stroke="#f2f2f2" stroke-width="1.2"/>
<line x1="985.7" y1="313.3" x2="1395.5" y2="313.3" stroke="#f2f2f2" stroke-width="1.2"/>
<line x1="995.7" y1="256.6" x2="995.7" y2="666.4" stroke="#ebebeb" stroke-width="2"/>
<line x1="1093.5" y1="256.6" x2="1093.5" y2="666.4" stroke="#ebebeb" stroke-width="2"/>
<line x1="1191.2" y1="256.6" x2="1191.2" y2="666.4" stroke="#ebebeb" stroke-width="2"/>
<line x1="1289.0" y1="256.6" x2="1289.0" y2="666.4" stroke="#ebebeb" stroke-width="2"/>
<line x1="1386.7" y1="256.6" x2="1386.7" y2="666.4" stroke="#ebebeb" stroke-width="2"/>
<line x1="985.7" y1="656.3" x2="1395.5" y2="656.3" stroke="#ebebeb" stroke-width="2"/>
<line x1="985.7" y1="558.3" x2="1395.5" y2="558.3" stroke="#ebebeb" stroke-width="2"/>
<line x1="985.7" y1="460.3" x2="1395.5" y2="460.3" stroke="#ebebeb" stroke-width="2"/>
<line x1="985.7" y1="362.3" x2="1395.5" y2="362.3" stroke="#ebebeb" stroke-width="2"/>
<line x1="985.7" y1="264.3" x2="1395.5" y2="264.3" stroke="#ebebeb" stroke-width="2"/>
<path d="M1235.7 656.1h0M1282.2 655.6h0M1135.3 655.5h0M1044.2 655.2h0M1288.8 655.8h0M1136.2 656.0h0M1121.3 655.6h0M1198.5 655.8h0M1350.1 655.9h0M1234.8 655.3h0M1109.1 656.1h0M1231.8 656.1h0M1053.6 656.2h0M1186.6 655.9h0M1237.0 656.2h0M1196.1 655.9h0M1102.1 655.7h0M1104.6 655.7h0M1043.8 655.6h0M1090.3 656.2h0M1314.5 656.2h0M1304.3 656.2h0M1271.7 655.1h0M1209.8 656.2h0M1311.8 654.7h0M1227.4 655.4h0M1162.4 655.8h0M1089.0 655.8h0M1159.8 655.8h0M1224.9 655.8h0M1239.7 655.9h0M1089.2 655.4h0M1116.6 656.1h0M1072.5 655.4h0M1109.0 655.7h0M1135.4 654.7h0M1247.2 656.2h0M1303.7 655.8h0M1321.8 656.0h0M1087.6 655.1h0M1329.2 656.1h0M1098.4 656.2h0M1240.8 655.4h0M1158.9 656.0h0M1116.6 655.8h0M1313.3 655.8h0M1211.8 655.5h0M1274.7 655.8h0M1157.6 656.0h0M1080.6 654.7h0M1245.8 655.6h0M1204.4 654.5h0M1148.9 655.8h0M1253.8 655.9h0M1203.0 656.1h0M1323.5 655.9h0M1330.9 656.2h0M1275.2 655.5h0M1084.9 655.6h0M1294.4 656.1h0M1236.7 655.8h0M1201.1 654.7h0M1112.6 656.0h0M1154.8 655.6h0M1149.5 655.7h0M1219.7 655.7h0M1126.5 655.1h0M1179.9 655.2h0M1201.9 656.1h0M1319.6 655.5h0M1222.0 655.9h0M1313.9 655.7h0M1327.7 655.3h0M1175.4 656.2h0M1336.4 656.3h0M1291.6 656.0h0M1264.1 656.3h0M1145.4 656.1h0M1105.3 655.7h0M1108.4 655.8h0M1302.1 656.0h0M1190.6 655.2h0M1246.3 655.8h0M1339.6 655.7h0M1236.6 656.2h0M1099.4 655.9h0M1169.7 656.2h0M1294.4 655.3h0M1077.6 655.9h0M1290.4 656.3h0M1204.3 655.9h0M1057.0 656.1h0M1048.9 656.3h0M1119.4 655.8h0M1217.8 655.9h0M1225.0 655.6h0M1252.0 656.2h0M1138.6 655.7h0M1208.9 655.6h0M1245.9 655.1h0M1101.7 655.6h0M1054.9 655.6h0M1339.2 655.1h0M1058.3 655.0h0M1140.8 655.5h0M1236.2 655.6h0M1139.5 654.6h0M1288.8 656.3h0M1279.5 656.3h0M1103.6 655.1h0M1239.9 655.5h0M1072.3 655.9h0M1237.8 656.0h0M1290.8 655.8h0M1265.7 655.6h0M1318.4 655.7h0M1050.9 656.0h0M1108.9 655.2h0M1334.5 656.2h0M1120.7 655.2h0M1245.6 655.7h0M1160.2 656.2h0M1247.2 655.4h0M1159.0 654.6h0M1209.3 654.8h0M1119.0 655.8h0M1183.9 655.3h0M1275.1 655.4h0M1135.2 655.4h0M1278.4 656.3h0M1083.8 656.3h0M1067.7 655.9h0M1125.8 655.5h0M1299.9 655.8h0M1100.4 655.3h0M1315.7 656.3h0M1262.2 654.9h0M1267.3 655.9h0M1297.7 656.0h0M1157.1 656.1h0M1202.9 656.2h0M1101.6 656.1h0M1208.2 655.4h0M1319.6 656.3h0M1099.5 655.9h0M1241.7 654.9h0M1350.5 655.5h0M1303.0 655.8h0M1164.6 656.1h0M1099.6 656.1h0M1276.7 655.1h0M1180.0 656.3h0M1172.3 655.8h0M1303.4 655.9h0M1162.3 656.0h0M1265.5 656.2h0M1299.2 656.0h0M1162.3 656.1h0M1277.5 655.1h0M1088.3 655.6h0M1297.6 655.7h0M1080.7 655.2h0M1347.8 656.1h0M1220.2 656.1h0M1274.4 655.5h0M1325.1 654.7h0M1280.2 656.1h0M1188.8 656.0h0M1139.6 655.4h0M1264.9 655.6h0M1060.2 655.1h0M1317.1 655.9h0M1118.8 656.1h0M1112.8 655.2h0M1198.1 655.1h0M1097.1 655.6h0M1192.2 655.9h0M1249.5 656.1h0M1205.4 656.1h0M1202.1 656.3h0M1208.2 656.2h0M1286.9 654.8h0M1098.0 656.3h0M1077.6 656.0h0M1333.5 655.2h0M1342.2 655.7h0M1199.1 655.0h0M1325.2 655.8h0M1140.0 654.5h0M1063.1 655.7h0M1186.3 656.3h0M1277.7 655.4h0M1277.7 655.4h0M1305.1 655.5h0M1269.9 655.9h0M1094.4 656.2h0M1093.8 656.0h0M1226.9 655.2h0M1331.9 656.2h0M1201.5 655.5h0M1340.8 655.7h0M1290.9 656.0h0M1290.3 655.5h0M1241.4 655.3h0M1176.5 655.7h0M1256.4 654.8h0M1146.1 655.8h0M1107.2 656.0h0M1280.2 655.4h0M1267.4 656.2h0M1338.6 655.8h0M1169.0 655.0h0M1204.3 655.5h0M1068.8 655.5h0M1215.0 655.5h0M1054.9 655.9h0M1237.6 655.9h0M1065.5 656.1h0M1111.3 655.3h0M1314.0 655.6h0M1182.9 656.3h0M1261.1 655.5h0M1291.9 655.9h0M1234.3 655.7h0M1252.1 656.1h0M1168.1 655.8h0M1165.0 655.8h0M1160.1 655.4h0M1276.0 656.3h0M1147.0 655.6h0M1160.3 655.0h0M1285.2 655.5h0M1262.8 656.3h0M1308.4 655.1h0M1214.9 655.7h0M1251.9 656.0h0M1172.5 655.7h0M1133.0 655.7h0M1175.7 655.5h0M1180.8 654.9h0M1222.2 656.0h0M1317.2 656.3h0M1125.1 656.3h0M1195.2 655.5h0M1065.3 655.5h0M1103.8 655.7h0M1298.4 655.5h0M1188.9 656.0h0M1184.1 654.1h0M1211.2 655.5h0M1140.4 655.5h0M1280.6 655.1h0M1269.0 655.2h0M1180.1 656.0h0M1253.6 654.8h0M1241.3 656.3h0M1239.4 656.2h0M1189.8 656.2h0M1237.5 655.3h0M1339.8 656.2h0M1137.1 656.2h0M1063.5 655.7h0M1281.0 655.5h0M1103.0 656.2h0M1141.9 656.2h0M1193.4 655.6h0M1245.4 655.9h0M1279.8 656.3h0M1148.8 656.2h0M1177.8 655.8h0M1086.4 654.7h0M1240.3 656.2h0M1085.3 656.0h0M1130.1 655.5h0M1050.6 655.9h0M1093.6 655.4h0M1047.3 656.2h0M1125.9 656.0h0M1099.5 655.0h0M1168.1 656.1h0M1294.9 656.0h0M1328.0 656.1h0M1249.1 656.0h0M1247.5 655.1h0M1281.1 655.4h0M1337.1 656.1h0M1077.9 655.6h0M1052.6 654.3h0M1325.3 655.1h0M1231.6 655.8h0M1252.2 656.0h0M1336.8 654.9h0M1146.3 656.2h0M1048.4 655.3h0M1257.0 656.0h0M1305.6 656.2h0M1146.6 655.7h0M1083.5 655.7h0M1136.5 655.5h0M1329.3 656.1h0M1320.2 655.5h0M1306.3 655.8h0M1043.6 656.1h0M1118.4 656.0h0M1289.6 655.6h0M1108.2 656.0h0M1332.7 656.0h0M1259.6 656.3h0M1294.4 654.1h0M1202.0 655.9h0M1212.5 655.0h0M1068.7 656.1h0M1278.8 655.7h0M1139.2 656.3h0M1183.1 654.8h0M1133.1 656.3h0M1239.0 655.2h0M1159.5 655.1h0M1258.4 656.2h0M1050.8 655.7h0M1263.0 655.1h0M1268.4 656.0h0M1187.6 655.1h0M1181.0 655.9h0M1137.0 655.9h0M1110.4 656.1h0M1096.0 655.6h0M1186.5 656.1h0M1270.8 655.8h0M1126.9 655.6h0M1199.1 656.0h0M1081.2 656.1h0M1189.1 655.8h0M1063.2 655.4h0M1309.9 654.7h0M1044.4 656.1h0M1156.6 656.2h0M1065.2 656.2h0M1293.6 655.6h0M1182.6 655.2h0M1141.4 655.7h0M1163.8 656.1h0M1067.9 656.0h0M1337.2 655.6h0M1242.5 655.5h0M1219.0 656.3h0M1224.6 656.0h0M1212.7 655.8h0M1222.6 655.5h0M1093.9 654.3h0M1295.0 656.2h0M1210.9 654.7h0M1167.1 656.0h0M1157.6 655.9h0M1254.7 655.9h0M1075.7 655.0h0M1328.0 655.8h0M1119.7 655.7h0M1304.9 656.1h0M1056.3 655.8h0M1102.1 655.0h0M1327.3 655.7h0M1095.5 655.8h0M1204.5 654.5h0M1177.8 656.1h0M1151.8 654.7h0M1274.5 654.9h0M1292.3 655.4h0M1284.0 656.2h0M1311.7 656.0h0M1183.4 656.1h0M1199.5 656.1h0M1085.6 655.9h0M1058.8 655.0h0M1082.8 654.9h0M1152.7 655.3h0M1129.4 655.8h0M1144.9 656.3h0M1121.6 656.1h0M1275.8 656.0h0M1316.6 655.4h0M1138.5 654.5h0M1120.8 656.1h0M1177.9 655.7h0M1331.6 656.1h0M1262.7 656.1h0M1083.3 655.1h0M1257.5 656.2h0M1322.4 655.1h0M1071.2 655.8h0M1332.3 655.8h0M1326.2 655.2h0M1063.3 655.7h0M1184.3 655.8h0M1270.3 655.6h0M1350.7 656.0h0M1293.7 655.8h0M1284.6 656.1h0M1349.0 656.1h0M1182.5 655.7h0M1334.7 655.3h0M1333.0 655.8h0M1158.4 656.3h0M1188.2 655.8h0M1161.9 656.0h0M1085.8 655.8h0M1275.5 655.3h0M1250.2 656.0h0M1113.7 655.2h0M1128.5 656.1h0M1277.6 655.2h0M1142.4 656.2h0M1100.2 655.0h0M1258.0 656.2h0M1134.2 656.2h0M1053.1 655.9h0M1221.1 656.3h0M1150.2 654.3h0M1224.8 655.9h0M1260.9 655.7h0M1342.2 655.9h0M1120.9 655.5h0M1348.9 655.9h0M1229.6 655.2h0M1336.1 656.2h0M1203.6 654.9h0M1259.6 655.7h0M1143.9 656.2h0M1053.5 655.8h0M1066.1 655.4h0M1145.6 655.2h0M1052.2 655.4h0M1177.1 655.6h0M1261.5 656.2h0M1118.3 655.7h0M1319.9 656.2h0M1071.4 655.4h0M1051.2 654.9h0M1050.5 656.3h0M1238.2 655.3h0M1090.7 655.7h0M1146.2 655.6h0M1069.4 655.7h0M1251.5 656.2h0M1233.5 655.6h0M1123.0 655.9h0M1336.8 656.0h0M1240.5 656.1h0M1047.3 656.2h0M1063.3 656.3h0M1256.7 655.5h0M1285.6 655.8h0M1097.3 656.2h0M1305.6 655.4h0M1118.0 654.7h0M1167.0 655.7h0M1198.7 656.2h0M1179.4 655.3h0M1262.7 656.3h0M1311.0 656.2h0M1140.5 656.1h0M1332.7 656.3h0M1072.4 655.9h0M1348.6 655.6h0M1059.5 656.2h0M1198.3 655.5h0M1336.5 655.7h0M1081.2 656.1h0M1168.5 655.4h0M1235.3 655.4h0M1220.6 655.4h0M1295.2 656.2h0M1258.4 656.0h0M1188.1 655.4h0M1209.1 656.0h0M1175.1 655.8h0M1060.1 656.3h0M1048.3 655.9h0M1160.5 656.3h0M1134.0 656.0h0M1096.1 656.1h0M1339.2 655.4h0M1186.4 654.5h0M1132.1 655.7h0M1131.4 654.8h0M1145.8 654.8h0M1328.6 655.8h0M1292.0 655.7h0M1159.7 655.9h0M1064.1 656.2h0M1235.1 654.5h0M1249.4 655.5h0M1345.6 656.1h0M1291.8 656.0h0M1342.3 655.6h0M1311.1 656.3h0M1234.7 656.2h0M1104.5 656.2h0M1132.4 656.3h0M1082.2 655.9h0M1327.5 656.0h0M1046.7 656.2h0M1084.1 655.6h0M1222.8 656.0h0M1175.2 655.7h0M1247.9 656.0h0M1165.9 654.7h0M1322.0 654.9h0M1264.6 655.8h0M1318.9 656.0h0M1198.7 656.3h0M1250.4 654.9h0M1084.9 654.6h0M1051.6 655.7h0M1338.8 656.1h0M1092.5 655.2h0M1069.3 655.5h0M1225.6 655.5h0M1076.2 655.5h0M1291.1 655.2h0M1085.2 656.0h0M1237.1 655.9h0M1309.5 656.1h0M1200.4 655.5h0M1216.7 656.1h0M1268.5 656.3h0M1349.0 654.7h0M1173.5 655.6h0M1283.3 655.7h0M1240.2 655.2h0M1202.1 654.4h0M1187.4 655.4h0M1130.6 656.0h0M1140.3 655.7h0M1169.1 655.6h0M1335.4 656.0h0M1349.8 655.1h0M1065.4 654.6h0M1057.9 655.8h0M1099.9 654.8h0M1136.7 655.4h0M1296.6 655.4h0M1144.2 655.6h0M1044.4 655.0h0M1339.4 654.4h0M1311.3 656.1h0M1133.4 656.2h0M1132.0 656.1h0M1068.2 654.6h0M1274.3 655.7h0M1088.2 656.1h0M1134.4 655.8h0M1272.3 656.0h0M1060.8 654.7h0M1346.5 655.2h0M1280.3 654.3h0M1312.4 655.4h0M1317.0 656.1h0M1311.1 656.1h0M1263.6 655.7h0M1124.7 656.0h0M1225.3 656.3h0M1330.3 656.2h0M1102.4 656.0h0M1295.3 656.0h0M1200.8 656.2h0M1245.0 655.7h0M1069.5 655.2h0M1314.5 655.7h0M1059.1 655.8h0M1161.4 655.7h0M1224.0 655.7h0M1147.1 655.7h0M1232.1 656.3h0M1260.7 655.8h0M1294.2 655.7h0M1340.2 656.1h0M1082.0 655.9h0M1134.5 654.4h0M1230.9 656.2h0M1069.5 655.8h0M1063.0 655.5h0M1313.5 655.6h0M1082.1 656.2h0M1190.8 655.6h0M1168.6 656.2h0M1325.4 655.5h0M1092.4 655.7h0M1194.6 655.6h0M1069.5 656.3h0M1325.1 656.0h0M1123.5 655.9h0M1141.5 656.1h0M1068.8 655.4h0M1068.5 654.6h0M1133.2 656.1h0M1318.7 655.7h0M1121.7 656.3h0M1162.3 654.8h0M1278.5 655.6h0M1259.6 656.1h0M1341.5 655.6h0M1309.2 655.6h0M1153.3 655.4h0M1267.3 656.2h0M1161.3 655.7h0M1215.5 656.1h0M1335.4 656.0h0M1351.3 655.8h0M1155.0 655.6h0M1081.7 655.6h0M1100.0 656.2h0M1317.6 655.6h0M1250.1 656.1h0M1071.0 654.9h0M1198.4 655.1h0M1245.7 655.2h0M1057.0 655.3h0M1319.8 655.1h0M1207.3 655.3h0M1332.7 655.8h0M1169.3 656.1h0M1264.6 655.4h0M1270.1 655.4h0M1065.9 655.8h0M1343.0 656.2h0M1281.9 656.0h0M1184.7 656.0h0M1232.4 655.2h0M1255.0 656.1h0M1263.5 655.5h0M1170.2 654.4h0M1195.0 655.9h0M1117.4 656.1h0M1178.6 655.9h0M1301.1 654.7h0M1148.8 655.3h0M1321.3 656.0h0M1214.0 655.7h0M1243.5 655.6h0M1085.4 655.7h0M1248.3 656.0h0M1238.8 654.1h0M1143.4 655.2h0M1124.2 656.2h0M1253.1 655.6h0M1061.5 656.0h0M1292.5 655.9h0M1141.9 655.8h0M1068.5 656.0h0M1220.6 654.7h0M1180.7 655.9h0M1266.8 654.6h0M1272.9 655.7h0M1069.7 652.3h0M1235.0 648.7h0M1316.8 656.1h0M1281.0 655.6h0M1258.0 655.1h0M1142.1 653.5h0M1206.5 648.9h0M1239.7 653.1h0M1161.3 653.2h0M1149.3 652.1h0M1184.6 654.9h0M1048.0 648.7h0M1110.6 655.2h0M1065.4 654.7h0M1318.6 652.4h0M1075.1 651.6h0M1081.9 654.6h0M1080.4 653.9h0M1195.4 655.5h0M1141.1 655.5h0M1263.0 653.8h0M1086.0 654.8h0M1176.3 654.3h0M1296.4 648.9h0M1084.0 652.6h0M1295.8 651.2h0M1346.6 654.9h0M1241.8 655.4h0M1157.0 649.8h0M1328.8 654.9h0M1164.7 656.2h0M1257.8 654.1h0M1289.0 653.9h0M1246.4 656.1h0M1186.0 655.9h0M1167.1 656.2h0M1070.4 653.3h0M1115.1 653.8h0M1295.1 654.8h0M1302.0 652.7h0M1100.4 649.5h0M1267.5 652.7h0M1258.1 650.3h0M1134.6 653.0h0M1202.4 655.1h0M1143.6 656.0h0M1194.5 655.8h0M1172.8 652.3h0M1253.1 654.2h0M1346.6 655.3h0M1199.5 656.0h0M1163.9 654.2h0M1069.2 655.6h0M1309.9 649.3h0M1289.0 655.7h0M1151.8 655.5h0M1102.8 654.6h0M1136.9 652.2h0M1146.1 655.2h0M1332.9 655.4h0M1340.9 651.9h0M1242.5 654.7h0M1103.5 655.2h0M1074.6 655.2h0M1168.4 645.6h0M1208.3 655.8h0M1213.6 656.2h0M1054.7 654.0h0M1147.0 655.3h0M1074.1 653.9h0M1185.1 656.2h0M1263.5 656.0h0M1283.7 654.6h0M1208.1 654.7h0M1251.4 653.6h0M1289.1 656.1h0M1195.5 655.9h0M1074.3 656.0h0M1119.3 654.2h0M1272.7 648.1h0M1258.5 654.7h0M1163.4 655.3h0M1133.3 656.0h0M1280.8 656.2h0M1128.1 654.9h0M1251.5 651.6h0M1266.6 655.2h0M1098.5 655.2h0M1129.6 653.7h0M1349.4 654.2h0M1052.8 655.3h0M1290.7 649.5h0M1226.4 655.7h0M1152.3 655.2h0M1309.6 655.8h0M1101.5 656.3h0M1085.1 648.4h0M1235.5 655.4h0M1155.7 653.7h0M1246.9 655.8h0M1166.6 648.5h0M1255.1 654.1h0M1100.7 651.6h0M1186.7 655.5h0M1207.8 656.0h0M1115.7 656.2h0M1101.5 656.0h0M1170.8 656.1h0M1154.6 648.5h0M1049.2 655.3h0M1292.1 653.1h0M1178.2 654.5h0M1210.1 655.0h0M1307.8 654.0h0M1142.0 656.0h0M1316.8 656.0h0M1245.5 651.2h0M1289.2 655.1h0M1193.7 650.4h0M1185.1 655.4h0M1191.2 655.7h0M1279.6 653.9h0M1086.2 655.4h0M1161.1 655.6h0M1338.0 654.5h0M1341.3 648.6h0M1251.8 655.5h0M1157.7 656.3h0M1299.9 655.3h0M1067.1 655.6h0M1142.4 655.5h0M1044.4 654.5h0M1319.5 654.9h0M1236.9 651.7h0M1111.4 655.7h0M1277.6 654.6h0M1173.8 653.9h0M1197.4 656.0h0M1177.9 652.2h0M1222.9 650.2h0M1170.2 654.0h0M1129.8 655.2h0M1229.2 654.5h0M1212.1 653.5h0M1223.2 652.1h0M1282.6 648.7h0M1182.8 652.4h0M1213.5 651.1h0M1200.0 655.5h0M1118.0 655.5h0M1185.7 646.3h0M1130.9 644.5h0M1195.5 650.8h0M1151.4 655.9h0M1148.2 655.0h0M1249.5 655.0h0M1176.5 655.1h0M1181.6 649.5h0M1206.0 655.5h0M1108.5 654.8h0M1156.6 655.2h0M1162.7 653.7h0M1209.2 654.2h0M1202.0 652.9h0M1167.8 655.4h0M1262.7 653.7h0M1171.5 656.2h0M1161.3 653.5h0M1207.9 653.2h0M1164.3 654.1h0M1241.5 656.2h0M1204.6 651.7h0M1164.3 655.3h0M1282.2 655.1h0M1176.3 642.4h0M1190.6 649.7h0M1204.5 655.9h0M1205.4 655.1h0M1207.9 652.3h0M1140.6 656.0h0M1194.4 655.1h0M1112.9 655.0h0M1181.9 654.4h0M1187.1 655.2h0M1213.0 655.8h0M1160.7 656.2h0M1202.8 655.5h0M1174.6 652.6h0M1194.8 656.2h0M1155.7 654.5h0M1230.1 654.3h0M1227.7 655.1h0M1129.4 648.7h0M1181.0 655.6h0M1176.9 654.9h0M1113.6 651.5h0M1141.6 654.9h0M1180.9 650.5h0M1143.5 655.5h0M1196.6 649.8h0M1219.1 654.4h0M1166.1 654.2h0M1214.7 654.4h0M1245.5 656.2h0M1166.4 654.2h0M1237.4 654.7h0M1238.2 655.8h0M1193.2 656.2h0M1203.5 653.5h0M1161.0 654.3h0M1227.5 655.2h0M1222.5 656.2h0M1110.8 656.2h0M1222.4 653.7h0M1200.6 646.7h0M1223.3 653.6h0M1231.1 653.4h0M1224.1 647.1h0M1228.6 654.4h0M1172.9 653.9h0M1164.6 634.6h0M1186.3 655.5h0M1243.6 647.5h0M1169.5 655.7h0M1242.9 653.0h0M1229.2 654.3h0M1163.1 656.0h0M1142.9 648.9h0M1235.4 653.1h0M1286.2 656.3h0M1172.0 648.6h0M1267.5 651.1h0M1149.5 656.0h0M1250.9 649.4h0M1166.8 654.4h0M1202.5 655.2h0M1182.2 655.8h0M1208.6 655.6h0M1242.0 652.4h0M1135.9 653.5h0M1232.1 653.4h0M1237.3 653.9h0M1159.9 655.1h0M1155.4 654.2h0M1237.2 654.3h0M1185.1 648.9h0M1145.2 654.0h0M1183.0 654.3h0M1107.2 656.0h0M1150.8 654.6h0M1223.6 656.1h0M1137.0 655.9h0M1163.4 649.3h0M1204.9 653.7h0M1179.2 653.6h0M1168.1 654.3h0M1167.2 652.8h0M1271.2 653.0h0M1201.4 652.9h0M1187.0 654.1h0M1211.2 655.1h0M1225.8 655.8h0M1241.2 652.8h0M1174.7 652.2h0M1204.0 656.1h0M1158.8 652.3h0M1117.2 646.7h0M1181.3 656.0h0M1209.1 652.8h0M1220.1 654.4h0M1171.6 644.6h0M1150.8 652.5h0M1159.4 656.3h0M1238.6 655.1h0M1258.1 642.2h0M1154.6 652.8h0M1209.2 655.1h0M1197.5 655.7h0M1230.2 652.0h0M1216.8 650.6h0M1206.2 654.5h0M1235.8 655.9h0M1264.9 652.1h0M1135.9 654.6h0M1235.6 653.2h0M1187.4 655.7h0M1185.0 653.0h0M1169.1 654.5h0M1281.3 653.9h0M1233.6 653.5h0M1210.9 655.7h0M1267.5 649.2h0M1220.7 651.6h0M1157.1 654.6h0M1186.8 653.9h0M1220.5 656.2h0M1179.9 652.7h0M1254.9 654.7h0M1236.8 654.9h0M1176.7 655.5h0M1187.6 654.2h0M1193.7 653.3h0M1240.6 655.5h0M1191.1 650.7h0M1210.4 653.0h0M1177.4 655.9h0M1174.9 651.0h0M1173.2 654.0h0M1249.0 656.0h0M1195.0 648.3h0M1209.7 653.1h0M1208.9 653.4h0M1252.2 652.7h0M1279.1 653.0h0M1224.2 652.8h0M1268.1 656.0h0M1194.8 656.1h0M1246.1 654.4h0M1183.5 651.7h0M1202.4 647.7h0M1183.4 653.1h0M1182.0 650.1h0M1217.7 646.5h0M1121.6 652.3h0M1180.7 656.1h0M1159.9 656.1h0M1156.4 656.1h0M1200.9 652.5h0M1211.5 652.8h0M1136.3 652.5h0M1208.3 655.2h0M1235.6 651.3h0M1154.4 656.1h0M1257.6 655.7h0M1168.2 653.0h0M1172.1 652.0h0M1024.2 654.7h0M1197.5 646.7h0M1180.1 652.1h0M1187.4 653.0h0M1205.0 643.5h0M1192.2 655.0h0M1186.3 646.6h0M1205.4 645.3h0M1197.1 645.8h0M1202.6 636.9h0M1216.1 651.6h0M1195.8 652.0h0M1200.0 639.4h0M1235.2 653.0h0M1166.5 655.9h0M1198.5 645.5h0M1185.0 651.5h0M1201.8 651.5h0M1184.1 655.5h0M1190.9 641.7h0M1187.6 640.7h0M1174.7 651.3h0M1207.6 656.2h0M1200.0 642.5h0M1215.7 653.7h0M1199.7 635.4h0M1187.3 624.1h0M1216.1 634.5h0M1209.0 625.6h0M1194.5 650.1h0M1202.8 649.1h0M1208.3 639.8h0M1181.3 650.3h0M1202.0 652.3h0M1164.1 651.7h0M1199.2 651.9h0M1225.7 649.6h0M1186.8 650.2h0M1184.1 643.2h0M1202.0 645.3h0M1193.0 622.1h0M1208.2 645.9h0M1201.6 619.8h0M1217.3 651.5h0M1207.7 602.2h0M1193.5 651.4h0M1195.5 595.5h0M1218.3 656.1h0M1197.1 632.9h0M1187.7 644.4h0M1197.9 652.3h0M1198.5 643.6h0M1188.9 642.7h0M1177.0 655.1h0M1178.6 651.0h0M1204.8 645.5h0M1186.7 621.5h0M1220.8 650.7h0M1192.9 651.3h0M1201.8 652.8h0M1188.9 654.6h0M1206.4 637.8h0M1186.6 654.4h0M1195.5 644.6h0M1205.9 595.3h0M1196.9 645.9h0M1215.2 636.6h0M1211.4 651.1h0M1192.8 655.4h0M1197.5 652.4h0M1182.7 650.1h0M1212.4 644.2h0M1212.6 647.8h0M1196.3 619.1h0M1194.5 636.6h0M1204.2 625.2h0M1209.4 642.5h0M1186.0 651.4h0M1199.4 628.6h0M1207.2 647.6h0M1192.4 635.1h0M1204.1 629.0h0M1210.8 645.4h0M1189.7 653.3h0M1194.2 637.6h0M1205.0 641.7h0M1190.5 607.5h0M1187.9 626.9h0M1213.9 655.7h0M1188.0 626.2h0M1191.6 639.2h0M1208.4 627.4h0M1202.5 637.7h0M1204.8 651.5h0M1218.8 654.1h0M1208.5 648.1h0M1219.1 642.0h0M1215.1 652.5h0M1195.2 607.8h0M1172.7 646.3h0M1187.0 655.8h0M1186.2 611.9h0M1200.0 631.8h0M1194.2 591.8h0M1181.2 652.3h0M1197.1 597.6h0M1177.3 652.0h0M1188.5 625.6h0M1223.4 653.0h0M1193.8 630.4h0M1178.9 645.2h0M1206.6 647.3h0M1197.9 652.5h0M1197.6 601.3h0M1189.4 635.5h0M1188.7 630.2h0M1183.6 646.9h0M1180.4 640.4h0M1203.5 650.7h0M1186.9 629.4h0M1200.5 651.3h0M1194.6 621.1h0M1193.5 598.5h0M1174.8 638.3h0M1201.4 647.4h0M1199.1 650.0h0M1199.3 654.4h0M1206.3 648.4h0M1218.2 654.3h0M1207.2 629.9h0M1181.0 636.5h0M1185.3 655.6h0M1212.1 632.9h0M1209.0 642.0h0M1195.2 653.5h0M1195.1 641.9h0M1186.7 656.3h0M1223.1 651.1h0M1183.8 644.1h0M1213.5 650.7h0M1201.8 654.4h0M1193.4 619.6h0M1186.1 640.4h0M1213.9 639.5h0M1206.3 653.8h0M1216.1 641.8h0M1213.9 653.9h0M1188.0 639.0h0M1194.0 653.9h0M1177.2 642.7h0M1214.8 641.3h0M1205.6 647.4h0M1189.8 652.5h0M1199.8 625.0h0M1185.1 640.4h0M1192.9 645.3h0M1202.1 646.2h0M1212.0 656.1h0M1193.3 644.2h0M1194.6 652.6h0M1192.0 643.3h0M1203.9 631.1h0M1174.5 648.2h0M1191.8 644.6h0M1191.1 646.8h0M1206.0 636.8h0M1180.0 656.2h0M1210.7 650.4h0M1206.7 637.5h0M1207.2 622.0h0M1188.1 635.1h0M1199.8 654.6h0M1197.6 654.1h0M1147.0 650.2h0M1172.9 644.6h0M1212.1 648.2h0M1191.8 649.8h0M1195.2 651.2h0M1191.5 625.0h0M1214.0 653.8h0M1208.9 642.4h0M1198.0 646.9h0M1203.8 656.1h0M1200.1 643.4h0M1186.6 648.6h0M1193.1 652.6h0M1216.1 646.0h0M1204.2 648.4h0M1224.4 637.7h0M1204.7 651.8h0M1178.3 647.9h0M1202.6 650.5h0M1193.6 655.3h0M1178.1 647.3h0M1178.1 646.4h0M1211.0 640.4h0M1207.8 641.6h0M1186.0 644.5h0M1192.2 644.2h0M1195.4 623.7h0M1204.7 643.2h0M1199.8 644.0h0M1217.7 654.0h0M1191.7 638.3h0M1219.7 652.1h0M1207.7 652.8h0M1199.2 641.5h0M1198.2 653.0h0M1203.1 638.2h0M1207.2 639.0h0M1193.1 650.0h0M1190.8 653.5h0M1193.2 652.9h0M1193.0 629.6h0M1209.7 652.0h0M1206.2 648.8h0M1173.5 653.7h0M1191.6 631.5h0M1185.5 626.7h0M1194.4 634.3h0M1192.0 638.6h0M1186.8 649.9h0M1202.9 628.4h0M1191.6 640.0h0M1199.5 653.9h0M1193.6 648.7h0M1205.0 649.7h0M1204.7 652.8h0M1193.4 641.3h0M1202.5 655.0h0M1198.6 642.9h0M1214.6 644.3h0M1186.8 647.7h0M1198.5 619.7h0M1196.3 655.6h0M1214.2 620.2h0M1199.9 631.2h0M1210.4 646.6h0M1212.6 654.6h0M1200.6 649.9h0M1201.4 654.7h0M1189.9 623.0h0M1188.1 648.1h0M1198.0 648.2h0M1175.1 646.9h0M1207.7 641.4h0M1221.5 656.1h0M1187.9 613.4h0M1202.5 641.9h0M1206.8 630.4h0M1189.9 641.2h0M1186.9 649.1h0M1177.1 651.0h0M1202.6 625.1h0M1196.3 637.2h0M1199.7 608.9h0M1186.7 647.4h0M1197.5 647.0h0M1207.5 635.2h0M1197.2 608.4h0M1191.5 639.5h0M1203.3 652.8h0M1202.9 643.8h0M1197.6 651.7h0M1211.5 653.4h0M1202.4 652.9h0M1198.6 646.0h0M1196.7 646.1h0M1214.1 644.8h0M1180.8 651.6h0M1184.3 654.7h0M1203.8 649.3h0M1202.2 624.1h0M1217.4 631.7h0M1170.7 638.4h0M1192.5 646.1h0M1166.3 654.6h0M1217.6 641.7h0M1229.1 650.2h0M1194.7 643.4h0M1204.1 648.6h0M1200.2 593.7h0M1175.2 641.5h0M1192.3 649.4h0M1201.7 650.0h0M1184.8 622.3h0M1190.0 649.6h0M1213.0 653.4h0M1203.5 646.8h0M1181.6 653.9h0M1184.7 646.7h0M1203.5 653.6h0M1183.4 629.0h0M1187.3 644.4h0M1195.3 655.2h0M1209.1 645.9h0M1192.4 615.1h0M1192.7 655.2h0M1198.4 632.3h0M1191.4 645.5h0M1194.6 625.8h0M1218.7 654.9h0M1211.0 619.7h0M1202.1 648.3h0M1201.3 655.9h0M1200.2 644.8h0M1212.6 639.6h0M1193.4 640.6h0M1207.1 628.1h0M1208.6 654.8h0M1221.4 654.6h0M1210.8 656.3h0M1192.3 649.5h0M1202.6 653.3h0M1201.3 639.3h0M1185.8 650.6h0M1191.2 655.8h0M1187.3 620.4h0M1179.2 639.0h0M1204.5 641.6h0M1180.1 651.3h0M1199.1 655.5h0M1187.8 654.5h0M1210.6 649.5h0M1201.5 639.9h0M1202.7 650.8h0M1209.3 655.6h0M1198.4 639.4h0M1182.8 645.1h0M1197.5 644.8h0M1202.6 652.5h0M1196.3 648.7h0M1181.3 646.9h0M1200.4 651.9h0M1228.1 656.2h0M1184.7 653.2h0M1186.7 641.8h0M1234.1 653.3h0M1206.3 645.9h0M1223.1 654.6h0M1211.5 639.2h0M1178.4 648.7h0M1216.1 645.8h0M1200.4 655.8h0M1187.8 648.6h0M1204.0 631.0h0M1201.4 637.7h0M1203.9 649.9h0M1183.7 636.5h0M1218.7 627.4h0M1195.3 648.4h0M1210.4 652.0h0M1204.3 654.2h0M1185.9 649.6h0M1193.0 651.3h0M1229.4 629.7h0M1202.0 608.9h0M1190.7 627.6h0M1190.3 644.4h0M1188.2 648.7h0M1183.2 651.1h0M1182.1 634.2h0M1197.9 655.5h0M1209.4 639.2h0M1202.7 618.5h0M1223.7 638.2h0M1194.4 643.6h0M1200.8 626.8h0M1186.8 647.4h0M1198.0 643.8h0M1209.4 645.9h0M1200.5 640.1h0M1186.3 644.4h0M1185.8 636.3h0M1189.9 641.8h0M1183.7 641.6h0M1179.6 655.4h0M1198.0 601.6h0M1178.9 653.9h0M1187.6 639.4h0M1201.2 633.3h0M1172.2 651.2h0M1205.0 653.0h0M1182.4 654.1h0M1187.4 610.4h0M1192.1 656.1h0M1189.9 649.8h0M1192.7 647.9h0M1209.5 623.3h0M1197.6 642.4h0M1174.8 654.2h0M1191.7 634.4h0M1201.9 649.9h0M1199.6 636.0h0M1184.3 644.3h0M1189.6 653.8h0M1188.6 646.3h0M1180.6 647.8h0M1195.7 652.4h0M1187.7 654.2h0M1194.6 635.0h0M1197.6 646.2h0M1187.3 655.5h0M1216.9 654.7h0M1185.5 652.9h0M1193.9 651.2h0M1197.8 654.6h0M1214.2 648.3h0M1185.1 636.7h0M1205.6 640.7h0M1189.9 608.0h0M1200.7 613.3h0M1179.8 651.1h0M1194.5 624.0h0M1188.2 642.4h0M1190.3 655.0h0M1209.6 654.8h0M1210.5 650.2h0M1196.4 635.7h0M1188.2 649.8h0M1208.7 652.6h0M1182.2 645.7h0M1177.2 650.3h0M1195.7 627.4h0M1195.3 641.2h0M1199.3 654.8h0M1196.4 649.1h0M1234.9 652.9h0M1186.0 647.5h0M1195.3 592.0h0M1188.7 636.7h0M1209.4 651.9h0M1186.8 646.4h0M1180.0 655.3h0M1195.1 623.6h0M1188.4 651.3h0M1200.8 654.7h0M1170.5 647.6h0M1206.8 646.9h0M1199.7 646.2h0M1191.3 653.8h0M1191.6 617.6h0M1200.3 624.3h0M1192.3 654.6h0M1201.7 654.0h0M1219.5 646.6h0M1197.2 629.9h0M1209.2 639.3h0M1200.6 607.8h0M1189.9 635.6h0M1212.0 641.6h0M1205.5 642.6h0M1183.1 654.0h0M1198.9 609.5h0M1222.7 655.1h0M1209.9 655.7h0M1205.7 640.3h0M1196.2 656.1h0M1202.4 648.2h0M1187.4 646.6h0M1172.4 655.5h0M1208.7 612.5h0M1188.1 646.0h0M1173.8 652.8h0M1205.8 604.2h0M1208.4 642.4h0M1233.1 641.5h0M1201.2 637.2h0M1208.6 653.9h0M1193.3 651.2h0M1180.9 655.4h0M1177.5 656.0h0M1201.8 651.1h0M1196.4 654.2h0M1187.7 654.1h0M1209.2 643.7h0M1207.9 634.5h0M1207.4 640.4h0M1190.1 650.8h0M1205.4 655.1h0M1224.2 645.0h0M1200.6 653.8h0M1202.7 656.1h0M1217.0 650.1h0M1188.4 630.0h0M1205.6 605.3h0M1193.9 651.1h0M1192.1 645.8h0M1192.2 631.8h0M1206.4 632.8h0M1189.4 649.1h0M1203.7 622.3h0M1197.3 648.7h0M1200.1 627.9h0M1196.8 648.5h0M1204.6 654.1h0M1198.7 637.2h0M1205.6 620.7h0M1180.8 643.3h0M1204.2 651.8h0M1203.2 647.5h0M1180.3 654.3h0M1200.6 652.8h0M1202.1 655.0h0M1175.2 639.3h0M1176.7 644.6h0M1196.4 655.2h0M1200.8 646.7h0M1170.1 645.1h0M1186.7 642.9h0M1189.9 646.4h0M1193.2 655.9h0M1193.5 611.5h0M1187.0 625.4h0M1202.3 620.1h0M1183.3 641.7h0M1185.9 653.4h0M1189.8 640.0h0M1207.2 653.5h0M1196.8 633.7h0M1198.2 654.5h0M1177.7 650.9h0M1178.2 649.8h0M1196.0 632.5h0M1191.3 644.9h0M1167.0 639.5h0M1219.1 625.5h0M1204.2 626.9h0M1184.3 632.3h0M1194.7 645.7h0M1199.4 655.0h0M1191.2 651.2h0M1187.3 656.1h0M1195.1 653.1h0M1182.7 641.8h0M1195.6 634.7h0M1204.2 606.6h0M1202.8 635.6h0M1200.7 656.2h0M1188.8 655.0h0M1225.5 652.1h0M1198.0 652.3h0M1183.1 647.6h0M1225.9 648.4h0M1226.4 653.1h0M1198.0 643.5h0M1203.7 631.0h0M1202.7 646.1h0M1199.5 652.5h0M1205.1 626.9h0M1189.9 635.9h0M1188.0 655.3h0M1183.1 656.1h0M1202.3 641.6h0M1197.2 655.8h0M1196.0 653.4h0M1209.8 644.6h0M1190.7 644.9h0M1195.5 628.4h0M1202.0 630.1h0M1219.3 637.4h0M1223.7 652.0h0M1205.5 638.0h0M1198.5 631.4h0M1206.0 646.3h0M1183.1 641.4h0M1212.9 654.6h0M1187.0 612.3h0M1215.7 651.2h0M1198.5 650.1h0M1197.5 651.9h0M1193.6 629.9h0M1226.5 649.7h0M1188.9 648.8h0M1189.1 633.5h0M1205.0 631.2h0M1197.5 617.4h0M1181.6 651.9h0M1201.0 631.3h0M1189.2 630.6h0M1204.8 620.4h0M1177.4 653.1h0M1198.3 642.6h0M1195.7 654.3h0M1209.3 642.2h0M1197.4 645.3h0M1203.9 643.0h0M1197.8 640.9h0M1192.5 653.6h0M1184.2 645.2h0M1202.5 640.7h0M1197.8 645.8h0M1209.7 625.4h0M1189.2 646.1h0M1199.0 656.0h0M1202.4 635.0h0M1190.1 655.4h0M1193.7 638.1h0M1194.1 642.9h0M1201.5 631.6h0M1221.4 656.3h0M1204.7 653.4h0M1179.2 643.8h0M1188.5 628.1h0M1196.8 629.4h0M1207.1 649.7h0M1200.4 654.3h0M1203.4 626.1h0M1187.5 648.7h0M1235.2 655.6h0M1193.5 652.9h0M1177.3 649.9h0M1197.6 618.2h0M1217.5 634.5h0M1185.3 647.4h0M1204.8 642.3h0M1203.7 650.9h0M1220.3 656.0h0M1201.9 651.3h0M1209.1 648.4h0M1199.6 613.1h0M1204.0 649.9h0M1185.4 650.5h0M1183.3 647.3h0M1200.9 656.3h0M1197.3 628.0h0M1198.8 629.6h0M1203.8 599.5h0M1183.2 636.2h0M1197.0 619.3h0M1210.2 635.5h0M1180.5 651.8h0M1188.6 624.9h0M1175.7 640.3h0M1205.9 650.5h0M1201.3 623.0h0M1177.5 648.9h0M1213.1 651.2h0M1190.9 648.7h0M1192.4 653.8h0M1203.3 646.0h0M1205.2 629.6h0M1189.8 614.6h0M1199.7 629.9h0M1196.0 648.9h0M1211.0 626.1h0M1193.9 594.1h0M1217.1 653.0h0M1177.4 635.7h0M1205.8 654.1h0M1215.1 637.7h0M1191.1 625.3h0M1196.0 652.6h0M1188.2 650.4h0M1182.2 648.6h0M1185.0 638.5h0M1212.3 636.3h0M1183.7 645.9h0M1187.9 648.2h0M1201.3 648.0h0M1191.4 653.5h0M1189.3 628.2h0M1199.8 612.1h0M1189.6 623.5h0M1217.2 645.1h0M1184.9 647.4h0M1190.2 626.6h0M1204.1 647.9h0M1179.4 627.4h0M1197.4 622.2h0M1196.4 618.4h0M1192.2 654.8h0M1190.8 648.8h0M1197.1 637.5h0M1194.8 648.7h0M1196.9 654.8h0M1196.5 634.5h0M1191.9 605.2h0M1198.2 603.7h0M1185.1 635.7h0M1204.6 653.9h0M1195.5 656.2h0M1198.0 650.6h0M1228.5 654.3h0M1196.7 588.0h0M1181.6 655.2h0M1201.9 643.6h0M1189.6 617.8h0M1206.7 656.1h0M1184.6 630.0h0M1198.5 649.8h0M1201.0 654.1h0M1211.6 645.0h0M1202.2 644.3h0M1199.6 637.5h0M1198.2 640.9h0M1210.4 620.2h0M1191.7 650.2h0M1193.6 656.1h0M1200.0 608.3h0M1194.9 624.9h0M1182.6 655.3h0M1187.7 647.1h0M1198.0 612.9h0M1196.9 621.9h0M1183.8 654.8h0M1194.0 649.3h0M1198.1 651.9h0M1168.4 653.5h0M1178.6 642.2h0M1168.7 654.4h0M1174.5 649.0h0M1199.9 654.8h0M1198.7 653.7h0M1176.3 637.2h0M1204.9 639.4h0M1210.6 654.8h0M1197.2 646.3h0M1200.2 622.8h0M1202.2 653.1h0M1189.2 644.7h0M1182.5 646.9h0M1195.8 643.8h0M1225.1 654.2h0M1202.0 650.5h0M1183.8 639.2h0M1216.6 640.2h0M1187.1 605.4h0M1212.8 630.1h0M1172.8 633.9h0M1194.2 654.8h0M1196.8 609.7h0M1194.6 600.8h0M1214.1 639.5h0M1187.0 632.6h0M1192.1 650.1h0M1197.1 643.7h0M1195.7 650.9h0M1192.7 652.7h0M1201.9 656.0h0M1193.4 644.2h0M1216.1 656.0h0M1185.6 653.9h0M1195.5 655.9h0M1202.2 644.0h0M1203.7 646.9h0M1216.2 653.5h0M1189.4 647.7h0M1209.9 655.5h0M1195.9 644.8h0M1190.3 589.7h0M1207.0 645.4h0M1182.9 634.1h0M1191.3 632.8h0M1203.0 654.0h0M1189.4 645.5h0M1184.5 650.8h0M1200.1 608.9h0M1206.9 632.7h0M1189.6 638.4h0M1192.0 645.9h0M1201.1 645.6h0M1197.1 631.3h0M1192.7 654.2h0M1214.5 629.0h0M1192.2 650.9h0M1184.5 651.5h0M1191.2 648.4h0M1200.8 646.1h0M1190.8 619.0h0M1184.5 646.3h0M1178.9 640.0h0M1223.0 647.8h0M1203.5 650.8h0M1188.6 610.9h0M1201.7 636.5h0M1201.9 653.9h0M1175.4 650.3h0M1174.4 652.5h0M1205.9 654.8h0M1188.8 624.2h0M1197.8 625.0h0M1205.7 648.5h0M1182.3 653.8h0M1198.9 634.0h0M1193.4 618.7h0M1206.2 644.4h0M1198.3 627.5h0M1188.5 651.4h0M1185.2 639.0h0M1193.4 634.4h0M1199.8 653.2h0M1195.3 649.7h0M1182.0 633.0h0M1216.4 649.2h0M1203.7 622.2h0M1196.9 653.3h0M1198.8 654.4h0M1203.1 647.5h0M1199.2 652.8h0M1193.5 650.2h0M1206.3 623.1h0M1194.0 651.5h0M1192.3 651.3h0M1196.9 639.6h0M1195.3 633.9h0M1198.5 653.2h0M1238.2 646.6h0M1190.3 643.4h0M1201.8 642.4h0M1207.8 651.4h0M1184.9 618.8h0M1194.3 621.6h0M1182.0 628.9h0M1188.3 640.6h0M1189.5 598.7h0M1198.8 652.7h0M1188.2 653.3h0M1173.5 623.9h0M1173.5 653.4h0M1206.9 637.5h0M1198.9 648.2h0M1223.5 650.2h0M1213.5 655.9h0M1181.7 652.1h0M1194.5 646.9h0M1201.2 643.1h0M1207.6 650.3h0M1204.1 655.9h0M1203.6 644.5h0M1206.9 629.7h0M1209.6 650.6h0M1204.5 638.3h0M1197.7 605.5h0M1176.8 655.8h0M1199.6 590.6h0M1188.5 650.5h0M1217.6 653.3h0M1226.2 652.7h0M1186.0 643.5h0M1214.0 628.0h0M1216.6 643.4h0M1217.4 650.4h0M1177.6 642.3h0M1210.2 653.4h0M1209.9 612.4h0M1194.4 636.0h0M1193.7 635.8h0M1163.8 646.8h0M1196.6 654.7h0M1205.0 630.6h0M1204.9 652.0h0M1191.8 620.6h0M1217.4 653.2h0M1182.2 644.0h0M1210.1 650.3h0M1201.7 640.4h0M1190.8 627.3h0M1208.4 642.1h0M1181.4 652.2h0M1184.0 652.4h0M1199.3 622.6h0M1221.0 650.7h0M1208.2 654.7h0M1187.7 649.3h0M1217.7 649.1h0M1230.4 654.7h0M1199.4 638.3h0M1197.3 635.6h0M1184.3 641.2h0M1183.0 646.8h0M1179.4 643.0h0M1182.2 654.7h0M1174.2 654.7h0M1194.4 609.6h0M1185.8 651.9h0M1190.2 654.8h0M1201.0 644.5h0M1181.0 655.2h0M1186.9 644.7h0M1197.1 626.9h0M1224.9 641.0h0M1204.5 628.3h0M1170.1 649.9h0M1204.5 648.1h0M1202.2 648.6h0M1192.0 650.6h0M1161.5 646.3h0M1186.0 639.6h0M1199.7 636.0h0M1216.2 634.6h0M1207.3 640.6h0M1195.6 589.7h0M1191.1 654.8h0M1202.6 644.2h0M1202.2 652.3h0M1208.9 622.8h0M1164.4 639.7h0M1196.4 640.3h0M1192.7 655.0h0M1188.4 647.0h0M1191.1 647.8h0M1188.0 641.6h0M1174.3 649.6h0M1189.6 631.9h0M1202.1 649.7h0M1207.7 629.1h0M1195.0 644.0h0M1219.0 646.5h0M1216.6 652.4h0M1170.3 646.6h0M1198.3 650.1h0M1197.8 651.8h0M1203.9 644.8h0M1212.1 651.5h0M1192.3 629.1h0M1210.0 652.6h0M1172.1 648.8h0M1202.9 633.0h0M1184.6 628.2h0M1181.2 644.1h0M1203.2 612.4h0M1186.5 655.2h0M1201.7 618.6h0M1194.9 656.0h0M1199.9 651.3h0M1191.8 640.1h0M1172.5 654.3h0M1212.9 647.7h0M1214.0 653.4h0M1197.8 648.6h0M1194.8 651.5h0M1186.7 647.3h0M1182.9 654.6h0M1184.6 622.3h0M1194.1 655.8h0M1212.6 648.6h0M1189.9 653.3h0M1200.5 621.4h0M1201.9 634.3h0M1186.1 651.9h0M1203.8 634.5h0M1195.2 655.5h0M1217.4 654.9h0M1215.3 654.4h0M1192.7 652.8h0M1193.4 641.3h0M1205.2 597.0h0M1185.1 642.8h0M1222.4 651.2h0M1210.6 633.8h0M1190.2 651.5h0M1195.1 649.3h0M1208.5 651.2h0M1181.2 650.6h0M1184.0 645.7h0M1202.3 605.6h0M1201.1 653.3h0M1202.0 650.8h0M1231.6 649.0h0M1199.6 649.3h0M1179.5 650.1h0M1193.8 643.7h0M1188.1 646.6h0M1211.8 636.5h0M1188.4 596.3h0M1184.8 632.6h0M1208.9 645.8h0M1208.9 649.3h0M1215.4 641.8h0M1191.1 644.0h0M1185.1 654.8h0M1210.4 637.6h0M1210.1 653.5h0M1187.1 637.6h0M1227.4 654.9h0M1188.3 645.9h0M1179.5 618.0h0M1222.1 636.1h0M1197.3 653.3h0M1185.6 652.9h0M1210.9 654.4h0M1202.4 653.9h0M1201.4 651.1h0M1212.1 630.0h0M1193.6 654.2h0M1206.2 644.7h0M1184.0 654.1h0M1184.7 632.9h0M1183.1 647.0h0M1200.1 650.5h0M1196.9 632.1h0M1190.9 636.0h0M1202.0 650.1h0M1210.8 645.4h0M1178.6 647.7h0M1203.0 629.6h0M1208.0 641.4h0M1201.2 653.8h0M1204.1 652.7h0M1193.4 635.1h0M1183.1 637.7h0M1209.5 638.2h0M1186.1 649.6h0M1201.5 617.1h0M1213.0 636.3h0M1206.1 619.5h0M1199.2 644.6h0M1199.3 645.5h0M1212.3 654.0h0M1206.6 612.8h0M1186.3 630.8h0M1175.8 655.7h0M1199.2 613.0h0M1203.7 642.9h0M1197.1 647.9h0M1197.7 653.5h0M1190.6 655.1h0M1199.8 655.7h0M1181.2 629.1h0M1203.5 649.1h0M1209.8 653.8h0M1203.9 650.9h0M1183.3 648.1h0M1195.1 592.8h0M1200.0 648.0h0M1195.2 643.2h0M1200.0 654.1h0M1200.6 635.9h0M1184.0 644.5h0M1201.8 636.3h0M1229.6 653.3h0M1192.2 637.6h0M1200.6 647.0h0M1198.7 650.7h0M1210.2 652.8h0M1203.9 637.8h0M1210.1 649.7h0M1191.1 653.0h0M1210.3 656.3h0M1206.0 648.1h0M1208.0 623.2h0M1212.4 637.2h0M1185.5 650.4h0M1182.8 655.2h0M1190.1 647.4h0M1208.8 619.5h0M1190.8 621.4h0M1190.8 628.5h0M1210.5 646.0h0M1212.0 653.6h0M1205.6 654.4h0M1196.9 626.0h0M1204.4 651.0h0M1207.4 653.4h0M1207.5 654.4h0M1218.8 651.7h0M1183.8 637.5h0M1188.7 644.4h0M1192.6 653.3h0M1213.0 630.7h0M1191.7 652.3h0M1206.1 634.8h0M1201.6 646.2h0M1199.7 642.0h0M1214.4 654.0h0M1198.2 621.0h0M1204.9 649.0h0M1206.9 632.2h0M1211.2 655.4h0M1176.8 651.9h0M1194.8 648.1h0M1202.1 638.8h0M1222.9 653.0h0M1216.6 651.8h0M1200.3 589.6h0M1195.4 641.6h0M1201.6 646.2h0M1170.1 655.5h0M1186.6 656.2h0M1191.0 654.2h0M1206.2 638.5h0M1180.9 643.9h0M1205.3 642.2h0M1191.9 646.8h0M1176.2 656.3h0M1207.4 640.5h0M1203.4 601.8h0M1177.3 632.2h0M1192.7 622.2h0M1196.0 650.0h0M1206.6 647.1h0M1179.9 649.9h0M1224.5 646.3h0M1194.7 648.0h0M1202.4 633.8h0M1197.1 635.2h0M1213.0 647.3h0M1206.7 644.5h0M1212.0 649.5h0M1192.4 649.7h0M1198.5 307.8h0M1201.8 307.2h0M1172.3 384.9h0M1174.0 410.0h0M1200.1 445.2h0M1207.9 445.2h0M1180.0 466.3h0M1200.1 482.8h0M1182.7 502.2h0M1197.5 502.2h0M1205.8 503.9h0M1185.1 544.8h0M1198.5 543.1h0M1201.8 546.4h0M1208.5 547.4h0M1183.4 554.1h0M1201.8 555.1h0M1182.4 562.5h0M1185.1 564.2h0M1208.5 564.2h0M1199.1 570.9h0M1202.5 574.2h0M1183.4 574.2h0M1184.4 577.6h0M1272.2 609.4h0M1349.3 624.5h0M1356.0 642.9h0M1340.9 644.6h0M1330.8 642.9h0M1277.2 639.6h0M1289.0 645.3h0M1108.0 646.3h0M1142.5 648.0h0M1255.4 639.6h0M1248.7 642.9h0M1228.6 632.9h0M1230.3 627.2h0M1195.1 586.0h0M1203.5 586.6h0M1205.2 582.6h0M1196.8 592.7h0M1191.8 599.4h0M1176.7 594.4h0M1181.7 601.1h0M1220.3 611.1h0M1235.3 642.9h0M1242.0 646.3h0M1319.1 649.7h0M1329.2 650.3h0M1347.6 650.3h0M1361.0 656.4h0M1161.6 642.9h0M1118.0 650.3h0M1116.4 653.0h0" stroke="#c3c3c3" stroke-width="6.00" stroke-linecap="round" fill="none"/>
<path d="M1215.9 268.0h0M1214.2 519.9h0M1212.9 534.0h0M1215.9 538.0h0M1371.1 544.4h0M1364.4 578.6h0M1210.2 597.7h0M1210.2 603.4h0M1214.2 603.4h0M1219.2 602.0h0M1221.0 600.5h0M1209.0 600.0h0" stroke="#ee5a66" stroke-width="6.00" stroke-linecap="round" fill="none"/>
<line x1="1171.7" y1="260.6" x2="1171.7" y2="662.4" stroke="#111" stroke-width="1.6" stroke-dasharray="4.5 3"/>
<line x1="1210.8" y1="260.6" x2="1210.8" y2="662.4" stroke="#111" stroke-width="1.6" stroke-dasharray="4.5 3"/>
<line x1="993.7" y1="605.3" x2="1387.5" y2="605.3" stroke="#111" stroke-width="1.6" stroke-dasharray="4.5 3"/>
<rect x="985.7" y="256.6" width="409.79999999999995" height="409.79999999999995" fill="none" stroke="#222" stroke-width="1.8"/>
<line x1="995.7" y1="666.4" x2="995.7" y2="671.4" stroke="#222" stroke-width="1.5"/>
<text x="995.7" y="686.2" font-size="16.2" text-anchor="middle" fill="#111" font-weight="normal" font-family="'Liberation Sans', Arial, sans-serif" >-10</text>
<line x1="1093.5" y1="666.4" x2="1093.5" y2="671.4" stroke="#222" stroke-width="1.5"/>
<text x="1093.5" y="686.2" font-size="16.2" text-anchor="middle" fill="#111" font-weight="normal" font-family="'Liberation Sans', Arial, sans-serif" >-5</text>
<line x1="1191.2" y1="666.4" x2="1191.2" y2="671.4" stroke="#222" stroke-width="1.5"/>
<text x="1191.2" y="686.2" font-size="16.2" text-anchor="middle" fill="#111" font-weight="normal" font-family="'Liberation Sans', Arial, sans-serif" >0</text>
<line x1="1289.0" y1="666.4" x2="1289.0" y2="671.4" stroke="#222" stroke-width="1.5"/>
<text x="1289.0" y="686.2" font-size="16.2" text-anchor="middle" fill="#111" font-weight="normal" font-family="'Liberation Sans', Arial, sans-serif" >5</text>
<line x1="1386.7" y1="666.4" x2="1386.7" y2="671.4" stroke="#222" stroke-width="1.5"/>
<text x="1386.7" y="686.2" font-size="16.2" text-anchor="middle" fill="#111" font-weight="normal" font-family="'Liberation Sans', Arial, sans-serif" >10</text>
<line x1="980.7" y1="656.3" x2="985.7" y2="656.3" stroke="#222" stroke-width="1.5"/>
<text x="976.7" y="661.8" font-size="16.2" text-anchor="end" fill="#111" font-weight="normal" font-family="'Liberation Sans', Arial, sans-serif" >0</text>
<line x1="980.7" y1="558.3" x2="985.7" y2="558.3" stroke="#222" stroke-width="1.5"/>
<text x="976.7" y="563.8" font-size="16.2" text-anchor="end" fill="#111" font-weight="normal" font-family="'Liberation Sans', Arial, sans-serif" >2.5</text>
<line x1="980.7" y1="460.3" x2="985.7" y2="460.3" stroke="#222" stroke-width="1.5"/>
<text x="976.7" y="465.8" font-size="16.2" text-anchor="end" fill="#111" font-weight="normal" font-family="'Liberation Sans', Arial, sans-serif" >5</text>
<line x1="980.7" y1="362.3" x2="985.7" y2="362.3" stroke="#222" stroke-width="1.5"/>
<text x="976.7" y="367.8" font-size="16.2" text-anchor="end" fill="#111" font-weight="normal" font-family="'Liberation Sans', Arial, sans-serif" >7.5</text>
<line x1="980.7" y1="264.3" x2="985.7" y2="264.3" stroke="#222" stroke-width="1.5"/>
<text x="976.7" y="269.8" font-size="16.2" text-anchor="end" fill="#111" font-weight="normal" font-family="'Liberation Sans', Arial, sans-serif" >10</text>
<text x="1176.2" y="228.0" font-size="32.5" text-anchor="middle" fill="#111" font-weight="normal" font-family="'Liberation Sans', Arial, sans-serif" textLength="190.5" lengthAdjust="spacingAndGlyphs" >Small tumors</text>
<text x="1109.7" y="307.8" font-size="32.5" text-anchor="middle" fill="#111" font-weight="normal" font-family="'Liberation Sans', Arial, sans-serif" >0</text>
<text x="1272.9" y="307.8" font-size="32.5" text-anchor="middle" fill="#111" font-weight="normal" font-family="'Liberation Sans', Arial, sans-serif" >13</text>
<text x="0" y="0" font-size="33" fill="#111" font-family="'Liberation Sans', Arial, sans-serif" text-anchor="middle" transform="translate(905.8,476) rotate(-90)" textLength="180" lengthAdjust="spacingAndGlyphs">-log10(FDR)</text>
<text x="1184.2" y="729.7" font-size="33" text-anchor="middle" fill="#111" font-weight="normal" font-family="'Liberation Sans', Arial, sans-serif" textLength="108.90000000000009" lengthAdjust="spacingAndGlyphs" >log2(fc)</text>
<rect x="1555.7" y="259.2" width="411.20000000000005" height="408.8" fill="#fff"/>
<line x1="1615.4" y1="259.2" x2="1615.4" y2="668" stroke="#f2f2f2" stroke-width="1.2"/>
<line x1="1713.2" y1="259.2" x2="1713.2" y2="668" stroke="#f2f2f2" stroke-width="1.2"/>
<line x1="1811.1" y1="259.2" x2="1811.1" y2="668" stroke="#f2f2f2" stroke-width="1.2"/>
<line x1="1908.9" y1="259.2" x2="1908.9" y2="668" stroke="#f2f2f2" stroke-width="1.2"/>
<line x1="1555.7" y1="624.5" x2="1966.9" y2="624.5" stroke="#f2f2f2" stroke-width="1.2"/>
<line x1="1555.7" y1="544.1" x2="1966.9" y2="544.1" stroke="#f2f2f2" stroke-width="1.2"/>
<line x1="1555.7" y1="463.7" x2="1966.9" y2="463.7" stroke="#f2f2f2" stroke-width="1.2"/>
<line x1="1555.7" y1="383.3" x2="1966.9" y2="383.3" stroke="#f2f2f2" stroke-width="1.2"/>
<line x1="1555.7" y1="302.9" x2="1966.9" y2="302.9" stroke="#f2f2f2" stroke-width="1.2"/>
<line x1="1566.5" y1="259.2" x2="1566.5" y2="668" stroke="#ebebeb" stroke-width="2"/>
<line x1="1664.3" y1="259.2" x2="1664.3" y2="668" stroke="#ebebeb" stroke-width="2"/>
<line x1="1762.2" y1="259.2" x2="1762.2" y2="668" stroke="#ebebeb" stroke-width="2"/>
<line x1="1860.0" y1="259.2" x2="1860.0" y2="668" stroke="#ebebeb" stroke-width="2"/>
<line x1="1957.9" y1="259.2" x2="1957.9" y2="668" stroke="#ebebeb" stroke-width="2"/>
<line x1="1555.7" y1="664.7" x2="1966.9" y2="664.7" stroke="#ebebeb" stroke-width="2"/>
<line x1="1555.7" y1="584.3" x2="1966.9" y2="584.3" stroke="#ebebeb" stroke-width="2"/>
<line x1="1555.7" y1="503.9" x2="1966.9" y2="503.9" stroke="#ebebeb" stroke-width="2"/>
<line x1="1555.7" y1="423.5" x2="1966.9" y2="423.5" stroke="#ebebeb" stroke-width="2"/>
<line x1="1555.7" y1="343.1" x2="1966.9" y2="343.1" stroke="#ebebeb" stroke-width="2"/>
<line x1="1555.7" y1="262.7" x2="1966.9" y2="262.7" stroke="#ebebeb" stroke-width="2"/>
<path d="M1610.8 664.3h0M1692.6 664.0h0M1865.0 662.4h0M1836.5 663.8h0M1704.1 664.7h0M1863.9 663.2h0M1800.8 664.2h0M1799.6 664.2h0M1718.8 664.3h0M1626.5 664.4h0M1845.1 664.5h0M1724.1 664.2h0M1617.5 663.2h0M1720.5 664.5h0M1852.4 662.8h0M1680.9 662.6h0M1791.9 663.7h0M1794.8 664.7h0M1614.2 664.0h0M1662.9 664.3h0M1861.2 662.6h0M1870.8 663.4h0M1599.0 664.6h0M1831.8 664.2h0M1847.4 664.4h0M1838.3 661.7h0M1663.5 662.8h0M1813.5 663.9h0M1785.9 662.9h0M1811.9 664.3h0M1596.4 664.0h0M1856.2 663.5h0M1857.1 663.6h0M1755.5 663.4h0M1712.1 663.8h0M1655.4 664.4h0M1690.8 664.0h0M1592.9 664.2h0M1571.3 663.8h0M1865.3 663.0h0M1828.7 664.7h0M1608.5 664.1h0M1630.0 663.6h0M1871.8 664.2h0M1822.5 664.7h0M1850.6 663.9h0M1676.8 664.7h0M1614.9 664.0h0M1843.9 664.1h0M1711.6 663.0h0M1863.8 664.1h0M1785.9 663.7h0M1782.9 663.7h0M1841.5 664.1h0M1666.6 664.3h0M1610.7 664.6h0M1609.6 664.2h0M1585.9 664.2h0M1830.2 664.5h0M1890.4 664.6h0M1585.2 664.0h0M1664.5 664.4h0M1576.7 664.3h0M1767.0 663.7h0M1755.1 664.3h0M1766.7 664.6h0M1591.3 663.7h0M1705.1 664.5h0M1875.2 664.2h0M1585.7 663.1h0M1648.5 664.1h0M1579.7 663.7h0M1581.4 664.7h0M1783.8 664.2h0M1861.6 664.5h0M1658.9 663.4h0M1883.3 663.1h0M1754.5 663.1h0M1672.4 664.2h0M1598.8 664.1h0M1635.4 663.9h0M1875.5 663.3h0M1674.3 663.4h0M1762.2 663.5h0M1643.5 664.5h0M1695.0 664.1h0M1701.1 664.1h0M1858.9 663.8h0M1885.4 664.4h0M1662.9 664.6h0M1670.9 663.6h0M1630.8 664.6h0M1667.0 662.7h0M1717.1 663.8h0M1586.7 662.8h0M1883.6 663.2h0M1593.2 664.5h0M1665.7 663.7h0M1770.5 663.6h0M1632.2 664.2h0M1719.9 664.2h0M1592.9 663.3h0M1756.1 664.5h0M1848.4 663.9h0M1678.3 664.6h0M1652.3 664.0h0M1640.0 664.6h0M1592.8 663.4h0M1583.0 663.9h0M1777.9 663.5h0M1776.3 664.2h0M1861.6 662.8h0M1711.8 664.3h0M1617.8 663.6h0M1686.5 664.2h0M1874.5 664.6h0M1747.9 664.1h0M1751.9 664.6h0M1596.6 663.3h0M1624.0 664.6h0M1812.5 663.8h0M1858.6 663.3h0M1673.6 664.0h0M1853.1 664.6h0M1665.1 664.4h0M1705.5 664.4h0M1645.1 663.3h0M1804.9 663.9h0M1673.6 662.8h0M1876.1 663.6h0M1773.0 663.7h0M1700.8 664.3h0M1666.4 664.4h0M1604.1 664.2h0M1695.7 663.7h0M1745.6 664.3h0M1686.3 663.9h0M1799.9 664.7h0M1731.7 662.6h0M1875.9 663.9h0M1592.4 664.3h0M1717.4 663.6h0M1821.2 662.4h0M1849.9 664.0h0M1804.9 664.6h0M1761.1 664.0h0M1701.3 664.7h0M1780.9 664.1h0M1803.0 664.2h0M1814.4 663.5h0M1756.9 664.0h0M1827.2 663.8h0M1576.8 664.6h0M1779.0 663.9h0M1857.4 664.4h0M1814.9 663.5h0M1777.3 664.3h0M1853.8 663.7h0M1728.8 664.6h0M1683.6 663.9h0M1887.5 664.7h0M1673.8 663.6h0M1882.2 663.8h0M1849.3 664.4h0M1861.9 663.0h0M1873.8 663.2h0M1649.7 664.5h0M1600.0 664.1h0M1803.3 662.5h0M1852.1 664.3h0M1608.5 664.4h0M1578.8 662.9h0M1648.2 664.3h0M1715.7 662.5h0M1790.0 663.8h0M1828.8 664.7h0M1661.1 663.8h0M1777.0 663.1h0M1826.1 664.1h0M1670.6 662.2h0M1814.1 663.8h0M1661.4 663.9h0M1578.0 662.7h0M1660.3 664.2h0M1587.0 663.9h0M1685.4 662.9h0M1638.3 664.0h0M1849.2 662.8h0M1703.5 664.7h0M1658.9 664.1h0M1704.3 664.0h0M1812.6 664.4h0M1852.9 663.5h0M1668.0 664.1h0M1741.7 662.5h0M1653.9 664.3h0M1722.9 664.1h0M1634.3 664.6h0M1881.1 663.9h0M1803.5 663.6h0M1703.6 664.5h0M1631.1 664.2h0M1711.5 664.4h0M1894.9 664.7h0M1657.3 663.7h0M1756.8 664.0h0M1710.8 664.2h0M1836.8 662.3h0M1896.3 662.9h0M1679.2 664.1h0M1870.5 663.6h0M1592.6 664.3h0M1698.8 662.7h0M1680.8 664.4h0M1642.0 663.6h0M1658.4 664.5h0M1711.0 664.3h0M1742.0 664.7h0M1592.7 664.1h0M1889.6 664.7h0M1687.7 663.2h0M1782.6 663.1h0M1702.8 663.1h0M1685.3 664.2h0M1599.9 664.0h0M1676.9 663.4h0M1616.8 664.2h0M1638.5 664.3h0M1845.6 664.7h0M1614.8 664.0h0M1650.5 663.4h0M1880.5 664.4h0M1843.8 663.9h0M1756.3 663.8h0M1681.9 663.8h0M1868.8 664.0h0M1808.5 664.4h0M1668.8 663.6h0M1783.4 663.7h0M1815.7 664.5h0M1700.2 664.1h0M1571.8 663.7h0M1877.2 663.1h0M1772.8 664.4h0M1853.9 663.3h0M1765.1 664.1h0M1802.6 663.4h0M1879.6 664.3h0M1830.3 664.4h0M1620.3 664.1h0M1782.2 663.2h0M1653.9 663.3h0M1647.7 664.2h0M1783.4 663.4h0M1802.4 663.2h0M1680.9 664.5h0M1890.5 663.8h0M1706.1 664.4h0M1890.8 664.3h0M1863.8 664.3h0M1679.5 664.1h0M1691.9 664.5h0M1710.2 663.9h0M1720.8 663.4h0M1759.8 663.7h0M1888.2 664.0h0M1868.9 663.6h0M1849.5 662.7h0M1775.0 664.0h0M1712.8 663.8h0M1825.0 663.4h0M1715.3 664.2h0M1600.7 664.0h0M1605.7 663.5h0M1687.1 664.3h0M1596.4 663.6h0M1845.3 664.2h0M1642.8 664.5h0M1647.4 663.4h0M1660.8 663.9h0M1728.0 663.9h0M1667.8 664.3h0M1669.9 664.2h0M1778.3 663.7h0M1790.9 664.1h0M1658.4 664.6h0M1808.2 663.7h0M1755.6 663.1h0M1875.6 664.5h0M1870.2 664.2h0M1798.7 663.6h0M1621.1 664.4h0M1660.1 662.9h0M1712.1 663.8h0M1663.6 664.0h0M1571.1 664.5h0M1682.7 662.9h0M1668.9 664.3h0M1639.4 664.5h0M1791.5 664.7h0M1807.9 663.2h0M1682.4 664.3h0M1645.4 664.3h0M1720.0 664.2h0M1642.1 664.7h0M1801.9 664.1h0M1834.9 662.7h0M1810.7 664.5h0M1789.0 663.5h0M1788.0 662.7h0M1686.6 663.8h0M1879.2 663.6h0M1626.0 664.4h0M1575.9 663.8h0M1625.9 664.0h0M1613.9 662.9h0M1822.9 662.4h0M1704.5 664.5h0M1865.8 664.7h0M1590.1 663.3h0M1826.4 664.0h0M1789.6 663.5h0M1892.1 662.2h0M1758.4 664.3h0M1622.9 664.0h0M1780.9 664.2h0M1852.7 664.5h0M1665.0 663.6h0M1634.9 664.1h0M1881.6 664.7h0M1714.0 664.1h0M1847.5 664.4h0M1822.9 663.9h0M1698.7 664.0h0M1872.1 663.0h0M1708.4 663.6h0M1571.4 663.8h0M1836.3 663.5h0M1727.1 664.5h0M1657.5 664.6h0M1730.7 663.3h0M1776.6 664.1h0M1594.3 663.6h0M1603.1 664.3h0M1891.4 663.0h0M1631.1 663.7h0M1771.8 664.5h0M1828.0 664.6h0M1644.4 663.7h0M1803.6 663.5h0M1748.9 663.9h0M1614.7 663.9h0M1581.2 661.9h0M1713.2 664.1h0M1889.8 664.0h0M1694.9 664.5h0M1750.0 663.9h0M1767.6 664.4h0M1788.3 663.9h0M1752.9 661.7h0M1755.8 664.0h0M1782.6 664.5h0M1758.7 664.1h0M1614.2 664.7h0M1775.4 664.1h0M1701.7 663.2h0M1873.5 662.7h0M1891.3 664.3h0M1861.3 663.7h0M1751.2 664.4h0M1838.2 664.3h0M1614.4 664.4h0M1745.6 664.4h0M1755.9 664.7h0M1833.6 663.5h0M1681.9 664.5h0M1818.6 664.6h0M1776.4 664.7h0M1735.9 663.9h0M1595.1 664.0h0M1729.4 662.8h0M1853.0 663.7h0M1781.9 664.1h0M1662.2 663.7h0M1654.0 662.6h0M1679.6 664.1h0M1886.8 663.9h0M1709.9 663.1h0M1797.6 662.7h0M1772.2 663.2h0M1613.6 664.1h0M1627.1 663.6h0M1766.2 664.6h0M1849.9 664.5h0M1730.0 663.9h0M1868.5 664.5h0M1854.6 664.4h0M1793.8 664.7h0M1746.8 664.2h0M1625.2 663.5h0M1608.8 664.6h0M1669.4 664.2h0M1823.9 663.8h0M1698.0 664.1h0M1878.0 664.6h0M1785.1 663.9h0M1666.6 664.2h0M1585.3 664.0h0M1627.7 663.2h0M1739.1 663.1h0M1709.7 663.7h0M1598.5 663.6h0M1718.7 664.3h0M1829.4 664.2h0M1578.8 664.6h0M1704.9 664.3h0M1665.3 664.6h0M1584.8 663.1h0M1625.8 663.9h0M1792.0 664.4h0M1577.4 663.9h0M1667.5 664.4h0M1766.7 664.7h0M1843.4 663.0h0M1828.6 664.3h0M1779.0 664.5h0M1694.9 663.2h0M1742.2 663.9h0M1813.4 663.8h0M1844.5 664.0h0M1710.9 663.9h0M1841.1 664.3h0M1791.2 662.5h0M1583.8 664.5h0M1781.0 663.8h0M1849.3 664.1h0M1649.0 663.3h0M1591.5 664.3h0M1888.1 664.6h0M1635.7 664.1h0M1681.4 664.4h0M1797.2 664.2h0M1572.1 664.4h0M1686.7 663.9h0M1710.4 664.1h0M1726.4 664.0h0M1596.9 664.4h0M1702.1 664.6h0M1680.8 663.4h0M1843.0 664.1h0M1650.6 664.4h0M1648.9 663.1h0M1708.3 664.5h0M1861.3 663.9h0M1793.2 664.3h0M1774.6 664.3h0M1675.4 664.3h0M1585.5 663.2h0M1773.6 664.1h0M1840.1 663.4h0M1801.2 663.5h0M1590.5 664.5h0M1594.2 664.2h0M1613.5 664.5h0M1898.9 664.2h0M1761.7 664.1h0M1892.8 664.4h0M1796.5 663.3h0M1667.8 664.6h0M1582.5 663.9h0M1818.4 664.4h0M1865.1 664.6h0M1765.7 663.4h0M1643.9 662.6h0M1883.5 663.9h0M1831.7 663.8h0M1661.7 663.8h0M1816.5 664.2h0M1893.8 663.7h0M1591.9 663.8h0M1593.4 664.0h0M1671.3 663.6h0M1651.4 663.3h0M1731.2 663.8h0M1767.4 664.6h0M1594.3 663.4h0M1687.8 664.7h0M1869.3 664.0h0M1767.2 663.9h0M1875.5 664.5h0M1772.9 663.0h0M1648.1 664.6h0M1601.5 663.9h0M1867.2 664.6h0M1626.2 664.5h0M1603.9 664.2h0M1851.4 662.5h0M1680.7 663.5h0M1783.2 663.7h0M1646.7 663.7h0M1837.0 663.8h0M1741.8 664.2h0M1677.4 663.6h0M1707.5 663.7h0M1810.5 663.0h0M1848.1 664.3h0M1665.8 664.6h0M1628.6 664.3h0M1688.8 664.4h0M1857.6 664.6h0M1732.4 664.4h0M1791.9 664.2h0M1841.5 664.6h0M1798.4 664.5h0M1819.3 663.5h0M1682.1 664.3h0M1651.6 664.0h0M1867.5 663.4h0M1702.3 664.6h0M1891.0 663.8h0M1887.2 664.7h0M1739.3 663.1h0M1862.0 663.1h0M1684.1 664.6h0M1881.0 664.6h0M1834.1 664.4h0M1844.1 664.2h0M1570.8 664.2h0M1713.7 661.7h0M1885.7 663.0h0M1614.6 663.9h0M1737.8 663.4h0M1691.7 664.5h0M1571.9 662.9h0M1679.8 664.7h0M1669.2 664.0h0M1733.4 664.3h0M1811.9 663.8h0M1886.5 664.3h0M1654.8 663.7h0M1714.5 664.2h0M1679.7 663.9h0M1747.5 663.9h0M1749.0 664.4h0M1572.5 664.5h0M1889.6 664.1h0M1591.7 664.0h0M1801.8 664.5h0M1702.8 664.2h0M1748.7 663.7h0M1649.2 664.5h0M1616.1 662.4h0M1593.2 664.5h0M1836.7 664.6h0M1790.7 664.5h0M1712.3 663.5h0M1739.7 664.5h0M1614.8 664.3h0M1859.9 663.6h0M1842.5 663.1h0M1681.8 663.5h0M1879.6 663.2h0M1801.2 664.6h0M1849.4 663.7h0M1638.2 664.4h0M1777.7 663.9h0M1867.2 664.3h0M1834.9 663.5h0M1815.9 664.2h0M1620.8 663.6h0M1680.1 664.6h0M1618.0 663.1h0M1585.0 664.2h0M1602.8 663.8h0M1771.8 663.4h0M1800.0 663.4h0M1742.5 663.6h0M1659.7 664.3h0M1828.9 662.3h0M1849.4 663.5h0M1857.2 664.6h0M1893.8 664.2h0M1866.0 664.5h0M1698.6 664.3h0M1885.2 664.6h0M1783.9 664.7h0M1788.8 663.8h0M1789.9 664.4h0M1703.0 663.8h0M1671.1 663.9h0M1725.3 664.2h0M1878.2 663.9h0M1765.7 663.5h0M1879.6 664.0h0M1640.1 664.7h0M1666.4 663.1h0M1674.8 662.9h0M1583.1 664.7h0M1574.6 664.0h0M1691.1 664.4h0M1761.2 663.0h0M1826.0 663.9h0M1865.8 663.6h0M1858.5 663.2h0M1802.7 663.7h0M1730.4 663.2h0M1808.8 664.4h0M1839.4 662.8h0M1612.6 664.5h0M1811.1 663.7h0M1580.5 664.1h0M1682.0 664.2h0M1602.4 664.0h0M1575.0 664.3h0M1578.8 663.0h0M1816.5 664.6h0M1769.1 662.9h0M1632.0 664.1h0M1631.4 663.5h0M1838.0 663.0h0M1772.0 663.7h0M1834.1 664.5h0M1661.8 664.3h0M1626.7 664.0h0M1888.8 664.2h0M1625.1 663.4h0M1663.0 664.2h0M1617.2 662.5h0M1673.8 663.4h0M1674.0 663.2h0M1765.0 664.4h0M1825.9 664.6h0M1720.0 663.8h0M1731.4 664.3h0M1675.8 664.3h0M1886.0 664.1h0M1663.3 664.0h0M1609.1 663.6h0M1704.3 664.1h0M1746.7 662.8h0M1792.8 664.0h0M1657.6 663.4h0M1776.0 664.2h0M1843.3 664.6h0M1748.4 664.3h0M1640.2 662.5h0M1641.7 664.2h0M1851.2 664.0h0M1608.6 664.6h0M1598.0 664.3h0M1868.5 664.6h0M1621.3 662.6h0M1816.8 663.9h0M1571.2 663.8h0M1632.8 663.9h0M1603.5 663.0h0M1720.6 663.7h0M1637.5 664.7h0M1783.1 661.8h0M1868.5 663.0h0M1649.2 664.2h0M1671.7 664.1h0M1692.4 663.0h0M1735.6 663.9h0M1686.5 664.7h0M1812.1 663.4h0M1851.2 662.2h0M1654.4 664.3h0M1868.7 664.6h0M1728.3 664.5h0M1607.2 664.5h0M1871.8 664.4h0M1654.2 664.0h0M1575.6 663.5h0M1578.8 664.2h0M1706.1 663.6h0M1879.8 663.7h0M1576.3 662.8h0M1816.7 664.6h0M1589.7 664.0h0M1891.8 664.2h0M1619.1 664.2h0M1694.5 664.4h0M1897.8 663.1h0M1746.2 663.9h0M1736.6 663.9h0M1850.0 663.9h0M1806.9 663.0h0M1702.7 664.6h0M1649.2 664.3h0M1731.1 663.3h0M1790.7 664.2h0M1835.3 663.6h0M1789.7 663.3h0M1686.3 664.6h0M1593.8 663.4h0M1886.3 664.1h0M1724.1 663.7h0M1702.7 663.6h0M1643.3 663.7h0M1860.0 664.7h0M1850.8 664.4h0M1853.0 663.8h0M1790.8 663.5h0M1809.1 663.4h0M1725.9 664.4h0M1611.6 663.9h0M1630.1 664.4h0M1623.0 664.7h0M1884.6 664.0h0M1583.1 662.7h0M1726.8 663.8h0M1619.3 664.4h0M1872.6 663.7h0M1869.3 664.5h0M1792.1 663.3h0M1787.3 664.1h0M1621.3 664.7h0M1607.0 664.5h0M1696.9 663.5h0M1853.5 664.3h0M1623.2 664.2h0M1871.8 664.1h0M1578.1 663.2h0M1777.7 664.4h0M1632.1 664.3h0M1746.8 663.9h0M1684.2 664.0h0M1637.0 664.3h0M1639.4 663.9h0M1666.5 664.6h0M1861.0 662.4h0M1817.4 664.5h0M1663.3 664.7h0M1743.0 663.6h0M1857.7 664.4h0M1807.5 664.5h0M1659.5 663.6h0M1850.5 664.3h0M1787.2 663.6h0M1671.8 664.7h0M1772.0 664.6h0M1735.3 664.1h0M1870.9 664.6h0M1626.3 664.3h0M1598.7 664.6h0M1804.5 664.5h0M1739.7 663.8h0M1594.9 664.0h0M1686.2 664.6h0M1631.4 663.7h0M1776.6 664.5h0M1627.5 664.7h0M1831.5 664.3h0M1796.5 664.6h0M1846.0 663.3h0M1628.7 664.2h0M1776.6 663.6h0M1725.2 664.6h0M1810.4 663.7h0M1592.4 662.5h0M1892.2 664.6h0M1778.5 664.6h0M1758.2 662.6h0M1820.9 663.9h0M1720.3 664.1h0M1622.9 663.5h0M1716.2 664.1h0M1738.4 663.7h0M1811.5 664.5h0M1647.0 664.0h0M1589.2 664.3h0M1817.8 664.1h0M1615.9 663.2h0M1847.6 663.8h0M1674.3 663.1h0M1790.3 664.0h0M1604.4 664.4h0M1721.6 663.0h0M1734.2 664.3h0M1611.3 663.1h0M1798.0 663.9h0M1650.5 664.4h0M1824.4 664.6h0M1685.0 664.2h0M1749.3 664.2h0M1771.1 664.0h0M1701.6 664.3h0M1784.5 664.4h0M1672.4 662.9h0M1647.5 663.7h0M1600.3 663.4h0M1624.2 664.0h0M1705.5 664.6h0M1826.2 664.2h0M1786.3 663.5h0M1672.4 664.7h0M1777.8 664.4h0M1838.8 664.1h0M1780.8 663.1h0M1674.2 656.9h0M1806.5 657.4h0M1769.0 658.8h0M1736.2 658.1h0M1817.4 660.9h0M1835.9 662.2h0M1726.7 662.6h0M1736.8 659.5h0M1707.5 655.4h0M1733.5 664.6h0M1729.2 664.1h0M1744.3 663.1h0M1710.0 659.1h0M1726.5 663.5h0M1825.9 660.4h0M1817.1 662.7h0M1749.8 659.4h0M1753.0 656.1h0M1742.4 658.1h0M1764.6 660.1h0M1739.6 659.2h0M1736.2 663.2h0M1795.6 656.7h0M1727.0 663.3h0M1748.0 663.4h0M1709.4 664.2h0M1766.0 663.1h0M1710.7 664.3h0M1692.0 660.9h0M1717.4 663.7h0M1737.5 662.5h0M1716.0 657.7h0M1814.4 663.6h0M1762.7 656.1h0M1749.9 662.4h0M1754.2 659.8h0M1771.1 663.3h0M1744.5 663.5h0M1794.5 656.5h0M1748.9 663.1h0M1742.9 656.9h0M1779.3 661.4h0M1745.5 662.8h0M1694.7 663.0h0M1688.6 661.0h0M1742.4 664.6h0M1755.5 664.3h0M1828.8 662.8h0M1710.5 662.4h0M1730.4 664.1h0M1732.3 661.4h0M1811.6 664.4h0M1741.7 663.8h0M1745.9 659.0h0M1770.4 660.0h0M1643.7 663.3h0M1790.9 656.6h0M1754.6 657.9h0M1774.3 662.4h0M1690.5 662.4h0M1790.8 659.7h0M1779.0 660.6h0M1842.3 660.1h0M1750.9 659.0h0M1800.1 662.8h0M1785.0 664.2h0M1751.3 663.8h0M1687.2 660.5h0M1785.9 663.3h0M1753.3 663.3h0M1809.1 662.8h0M1755.3 662.8h0M1700.9 662.5h0M1756.4 663.9h0M1756.5 661.5h0M1769.2 663.4h0M1777.0 663.8h0M1752.9 662.6h0M1693.1 659.5h0M1708.6 661.1h0M1754.5 660.1h0M1755.3 661.1h0M1791.9 663.8h0M1758.3 664.2h0M1789.4 661.2h0M1762.2 658.7h0M1739.9 664.1h0M1817.4 662.9h0M1751.0 659.7h0M1750.3 664.6h0M1759.8 658.9h0M1788.0 662.8h0M1744.3 660.3h0M1761.8 658.9h0M1731.7 660.7h0M1769.1 658.5h0M1676.1 663.1h0M1730.0 663.8h0M1734.9 663.1h0M1746.6 662.5h0M1738.3 661.9h0M1788.2 660.8h0M1779.0 651.7h0M1719.1 663.7h0M1761.7 658.4h0M1804.5 663.2h0M1732.6 663.8h0M1742.3 661.9h0M1772.3 663.1h0M1704.8 662.4h0M1750.5 660.6h0M1798.9 660.6h0M1816.4 660.9h0M1721.4 663.9h0M1796.2 664.2h0M1712.6 664.0h0M1824.7 659.0h0M1774.2 664.4h0M1750.5 663.4h0M1743.4 660.3h0M1775.7 661.0h0M1809.6 659.8h0M1778.1 663.7h0M1797.0 663.0h0M1792.0 664.5h0M1789.1 663.0h0M1830.6 662.2h0M1796.9 662.5h0M1761.1 662.7h0M1770.7 659.1h0M1706.7 661.5h0M1700.2 658.6h0M1745.3 663.4h0M1757.6 662.7h0M1745.2 663.5h0M1750.6 660.2h0M1794.9 659.3h0M1767.9 664.2h0M1695.9 661.8h0M1784.6 663.4h0M1783.5 659.2h0M1758.4 660.1h0M1765.9 658.0h0M1738.4 663.4h0M1773.7 661.5h0M1739.6 661.1h0M1753.7 664.1h0M1789.4 661.2h0M1760.9 663.4h0M1758.9 663.9h0M1809.6 655.0h0M1748.9 663.1h0M1794.9 660.6h0M1767.3 660.9h0M1739.4 657.3h0M1742.4 660.2h0M1778.0 661.6h0M1817.8 663.8h0M1726.7 663.0h0M1716.6 662.8h0M1807.6 664.1h0M1787.7 661.2h0M1765.9 655.1h0M1705.6 659.4h0M1796.4 657.5h0M1704.6 661.1h0M1789.2 663.3h0M1749.2 661.5h0M1759.2 663.5h0M1743.7 659.9h0M1727.7 657.7h0M1743.1 661.8h0M1777.8 662.6h0M1685.3 663.5h0M1707.5 661.7h0M1782.7 661.5h0M1767.5 663.5h0M1823.0 664.6h0M1713.5 660.5h0M1723.0 663.9h0M1754.7 660.5h0M1760.7 663.9h0M1766.2 664.5h0M1765.0 661.3h0M1782.3 662.8h0M1692.4 661.7h0M1764.6 655.0h0M1737.9 662.6h0M1734.7 660.5h0M1816.4 658.9h0M1745.4 659.1h0M1800.3 660.4h0M1848.9 661.2h0M1745.2 660.5h0M1757.1 659.6h0M1754.1 660.1h0M1761.9 663.9h0M1808.8 661.3h0M1788.4 663.7h0M1761.8 664.4h0M1758.7 664.7h0M1726.6 662.6h0M1769.7 664.5h0M1713.1 662.1h0M1729.6 664.7h0M1760.3 664.2h0M1730.9 664.5h0M1705.7 653.3h0M1751.9 658.2h0M1720.4 660.0h0M1775.8 660.0h0M1763.3 662.9h0M1710.0 658.5h0M1769.7 663.0h0M1780.6 657.2h0M1762.9 663.5h0M1748.9 664.2h0M1740.8 661.2h0M1823.3 657.3h0M1761.9 662.9h0M1758.2 660.9h0M1746.1 662.9h0M1714.9 664.6h0M1738.4 662.5h0M1776.7 660.5h0M1768.1 662.3h0M1767.5 664.4h0M1760.9 660.8h0M1725.1 661.3h0M1758.4 661.7h0M1790.2 662.7h0M1755.2 658.2h0M1674.2 661.2h0M1728.7 658.4h0M1689.5 662.6h0M1723.8 657.9h0M1833.6 664.1h0M1740.7 662.0h0M1725.1 658.4h0M1697.7 659.4h0M1746.9 661.6h0M1801.2 658.2h0M1725.9 663.8h0M1771.2 660.8h0M1763.5 656.0h0M1734.7 664.1h0M1781.4 663.3h0M1741.0 662.7h0M1728.6 660.0h0M1731.7 658.3h0M1764.4 658.2h0M1823.5 658.0h0M1789.8 663.7h0M1730.3 660.0h0M1757.2 662.6h0M1725.6 660.6h0M1722.7 664.5h0M1690.0 661.9h0M1768.3 662.7h0M1735.0 661.7h0M1748.1 659.9h0M1665.8 662.6h0M1768.4 658.3h0M1705.0 661.4h0M1713.1 661.9h0M1771.5 663.2h0M1767.3 661.0h0M1760.9 660.6h0M1761.9 655.7h0M1773.4 664.7h0M1718.7 659.3h0M1689.3 657.4h0M1728.3 658.6h0M1748.9 659.2h0M1753.8 663.6h0M1769.5 660.7h0M1719.0 662.9h0M1776.3 663.4h0M1717.6 660.7h0M1776.7 661.7h0M1721.4 659.1h0M1793.9 658.3h0M1756.0 661.3h0M1688.9 664.4h0M1743.7 659.2h0M1830.1 663.7h0M1786.4 660.7h0M1732.1 661.0h0M1806.9 663.0h0M1749.5 663.3h0M1745.7 662.1h0M1776.6 659.9h0M1737.3 659.0h0M1752.2 658.5h0M1728.0 660.0h0M1831.8 663.4h0M1713.0 661.8h0M1671.6 661.7h0M1803.8 661.9h0M1702.0 657.8h0M1780.4 664.3h0M1729.6 663.3h0M1730.3 656.8h0M1778.7 661.9h0M1715.2 659.1h0M1759.2 661.3h0M1772.3 663.4h0M1788.3 662.9h0M1727.5 656.6h0M1711.9 662.0h0M1857.5 659.5h0M1714.0 663.6h0M1767.1 661.8h0M1753.2 658.0h0M1740.0 661.3h0M1807.7 663.8h0M1741.3 663.1h0M1789.2 663.0h0M1724.1 663.5h0M1784.4 661.6h0M1703.6 662.9h0M1763.3 661.1h0M1753.6 661.9h0M1735.2 660.4h0M1717.3 662.2h0M1733.6 660.5h0M1707.5 664.3h0M1729.9 659.0h0M1759.8 663.0h0M1779.1 664.6h0M1733.9 658.8h0M1775.5 658.0h0M1791.2 661.8h0M1755.3 660.2h0M1775.5 664.6h0M1774.4 664.5h0M1726.6 660.5h0M1775.3 659.7h0M1740.7 663.1h0M1799.3 661.2h0M1738.9 660.1h0M1792.1 663.8h0M1734.7 657.9h0M1744.6 660.9h0M1740.6 662.8h0M1773.3 659.6h0M1752.8 662.5h0M1723.7 661.2h0M1759.6 664.1h0M1742.7 664.0h0M1758.8 660.8h0M1727.7 663.1h0M1790.2 659.4h0M1721.4 660.5h0M1777.6 664.4h0M1768.2 661.5h0M1813.6 660.3h0M1772.1 664.0h0M1743.9 660.3h0M1779.8 660.5h0M1741.3 663.9h0M1701.9 661.4h0M1748.6 664.2h0M1762.9 657.6h0M1752.5 663.1h0M1811.9 662.6h0M1733.0 659.1h0M1789.0 663.7h0M1767.7 664.2h0M1746.6 661.5h0M1724.1 663.1h0M1755.6 658.3h0M1724.8 662.6h0M1715.8 659.3h0M1708.4 661.7h0M1801.5 664.0h0M1776.6 656.1h0M1737.9 658.0h0M1757.4 664.6h0M1724.6 661.1h0M1763.8 662.5h0M1733.6 658.7h0M1745.0 656.4h0M1726.7 663.1h0M1732.3 661.6h0M1766.8 663.7h0M1689.4 662.6h0M1793.3 663.6h0M1773.4 662.7h0M1686.5 663.1h0M1762.6 662.3h0M1738.6 663.6h0M1730.9 663.4h0M1744.4 655.2h0M1746.5 662.2h0M1722.4 663.2h0M1734.5 662.7h0M1789.6 664.2h0M1697.6 661.7h0M1783.3 663.6h0M1904.2 663.7h0M1909.3 663.7h0M1912.6 663.7h0M1914.3 663.7h0M1921.0 663.7h0M1947.8 663.7h0M1570.8 663.7h0M1577.5 663.7h0M1584.2 663.7h0M1587.6 663.7h0M1746.1 647.0h0M1744.6 639.3h0M1748.5 661.2h0M1746.2 605.8h0M1743.7 661.0h0M1751.6 656.8h0M1748.4 659.3h0M1749.1 614.0h0M1745.9 654.4h0M1746.6 642.4h0M1745.1 661.3h0M1745.2 645.3h0M1750.0 652.6h0M1752.1 618.7h0M1747.6 640.9h0M1742.8 603.5h0M1743.2 658.6h0M1742.9 660.7h0M1746.5 663.8h0M1742.6 629.0h0M1743.1 658.3h0M1742.6 644.7h0M1748.2 662.3h0M1750.0 648.1h0M1748.7 650.5h0M1744.0 635.0h0M1743.6 626.7h0M1744.2 650.4h0M1745.2 626.7h0M1751.1 649.2h0M1743.3 617.4h0M1747.0 656.1h0M1744.5 660.5h0M1750.9 634.0h0M1743.6 654.9h0M1752.4 650.6h0M1748.3 634.3h0M1743.1 660.0h0M1745.3 662.0h0M1746.1 660.2h0M1744.2 653.6h0M1745.3 649.0h0M1743.7 647.0h0M1743.0 650.2h0M1745.0 614.7h0M1747.1 657.4h0M1743.1 647.6h0M1743.0 650.0h0M1746.0 659.1h0M1744.9 636.0h0M1743.0 628.7h0M1747.9 658.1h0M1746.5 634.1h0M1748.7 637.3h0M1747.6 627.2h0M1747.1 625.4h0M1743.3 652.3h0M1744.7 661.3h0M1745.2 656.8h0M1742.9 651.4h0M1751.9 648.6h0M1745.5 640.5h0M1744.0 655.3h0M1758.8 640.3h0M1750.2 655.1h0M1749.6 663.8h0M1743.4 652.7h0M1749.0 661.5h0M1744.0 649.8h0M1746.5 661.0h0M1743.2 652.9h0M1745.5 632.1h0M1743.2 632.8h0M1747.1 663.4h0M1749.4 649.2h0M1745.5 653.4h0M1743.7 657.5h0M1745.5 635.6h0M1745.5 645.7h0M1754.2 617.8h0M1742.7 660.9h0M1746.6 653.4h0M1753.2 659.3h0M1747.3 655.9h0M1748.5 661.7h0M1744.8 660.2h0M1746.1 596.5h0M1744.6 664.1h0M1743.0 663.6h0M1745.1 649.7h0M1743.3 659.2h0M1742.9 636.8h0M1749.8 662.4h0M1745.7 629.6h0M1747.7 645.9h0M1751.2 618.1h0M1748.0 652.5h0M1752.1 660.3h0M1748.0 648.7h0M1748.2 662.4h0M1743.5 662.4h0M1751.7 640.4h0M1748.1 651.2h0M1746.1 635.7h0M1745.1 637.6h0M1745.2 643.6h0M1745.3 658.9h0M1743.6 663.5h0M1745.2 663.1h0M1743.9 634.4h0M1742.9 656.5h0M1742.8 623.3h0M1747.1 637.5h0M1750.7 642.0h0M1748.6 631.0h0M1743.4 647.1h0M1745.3 657.7h0M1748.4 654.8h0M1744.5 621.7h0M1744.5 661.1h0M1750.4 619.8h0M1744.7 622.7h0M1742.7 638.5h0M1745.9 631.4h0M1744.8 639.1h0M1743.5 646.6h0M1747.2 640.7h0M1743.8 623.3h0M1744.9 639.7h0M1744.4 654.3h0M1747.5 657.6h0M1746.3 654.7h0M1746.9 619.3h0M1746.4 653.2h0M1742.9 663.0h0M1745.3 640.7h0M1748.5 659.9h0M1742.9 662.4h0M1749.0 634.6h0M1747.1 659.5h0M1745.5 608.8h0M1748.6 661.2h0M1743.9 651.0h0M1742.6 642.6h0M1746.8 600.1h0M1746.0 638.0h0M1746.0 630.6h0M1748.9 592.7h0M1747.1 648.2h0M1747.1 636.5h0M1743.5 635.4h0M1749.3 633.6h0M1744.1 635.6h0M1746.6 653.4h0M1743.6 621.9h0M1744.0 658.9h0M1743.4 656.2h0M1743.6 650.0h0M1742.8 643.0h0M1745.1 652.1h0M1744.2 659.6h0M1743.5 656.7h0M1743.7 656.9h0M1747.1 657.9h0M1746.1 656.2h0M1744.3 607.3h0M1747.7 660.9h0M1748.3 646.4h0M1744.3 658.3h0M1747.8 656.0h0M1745.8 649.7h0M1743.8 635.0h0M1748.5 631.5h0M1746.2 631.5h0M1743.1 640.6h0M1748.2 663.3h0M1744.1 663.8h0M1745.2 663.2h0M1749.0 656.2h0M1743.3 637.8h0M1753.2 657.3h0M1744.8 663.6h0M1745.7 640.6h0M1743.3 654.0h0M1746.3 656.4h0M1744.6 658.5h0M1751.6 660.3h0M1747.8 661.8h0M1743.5 659.9h0M1746.0 616.3h0M1748.0 661.9h0M1752.5 606.2h0M1748.0 659.1h0M1748.1 641.4h0M1744.0 661.1h0M1744.0 660.8h0M1749.0 659.2h0M1743.3 652.3h0M1744.5 655.3h0M1747.0 612.4h0M1746.5 657.3h0M1743.5 645.1h0M1747.8 648.4h0M1745.6 637.0h0M1746.4 590.3h0M1742.9 650.2h0M1745.2 652.1h0M1742.7 657.4h0M1743.8 649.2h0M1742.8 628.7h0M1744.9 637.0h0M1747.3 660.2h0M1749.4 627.4h0M1743.1 606.1h0M1743.5 649.8h0M1748.9 621.9h0M1746.9 659.8h0M1748.3 640.9h0M1745.1 635.7h0M1750.5 662.9h0M1744.2 659.5h0M1743.6 625.5h0M1743.9 614.7h0M1749.7 644.9h0M1743.1 580.9h0M1743.1 657.6h0M1750.2 662.5h0M1745.1 628.2h0M1742.7 660.8h0M1753.6 635.3h0M1742.7 652.9h0M1745.7 627.0h0M1747.6 661.9h0M1742.8 656.2h0M1744.7 656.8h0M1744.2 653.3h0M1742.7 652.3h0M1743.8 622.2h0M1751.6 644.0h0M1745.1 660.9h0M1747.6 658.8h0M1746.9 638.9h0M1743.8 664.3h0M1744.2 654.0h0M1746.3 659.9h0M1744.4 625.8h0M1747.0 656.1h0M1745.9 639.0h0M1748.1 656.6h0M1747.4 636.5h0M1746.4 642.4h0M1744.0 660.4h0M1745.7 660.8h0M1748.6 630.6h0M1742.7 658.1h0M1743.8 640.9h0M1753.3 663.5h0M1743.7 647.3h0M1744.8 624.0h0M1748.5 650.7h0M1775.9 664.3h0M1768.7 663.2h0M1774.6 639.5h0M1769.9 637.3h0M1773.4 651.9h0M1765.8 659.7h0M1773.6 647.9h0M1773.9 662.9h0M1765.1 657.0h0M1772.7 648.0h0M1776.3 652.9h0M1770.6 628.6h0M1775.6 661.5h0M1767.2 663.7h0M1766.8 664.4h0M1765.7 626.6h0M1774.5 658.1h0M1762.4 647.1h0M1773.7 659.0h0M1770.4 657.0h0M1771.9 660.7h0M1769.1 633.7h0M1773.7 624.2h0M1774.8 656.3h0M1775.5 648.3h0M1775.2 649.7h0M1774.1 660.0h0M1768.7 653.7h0M1770.2 662.2h0M1764.6 663.9h0M1769.9 662.2h0M1770.1 619.8h0M1776.2 660.7h0M1778.1 663.7h0M1766.3 658.7h0M1764.4 664.1h0M1768.1 659.6h0M1771.8 660.0h0M1778.0 663.4h0M1765.8 655.1h0M1765.6 663.4h0M1766.0 660.5h0M1775.9 663.8h0M1768.3 655.5h0M1769.6 661.3h0M1766.3 655.0h0M1773.1 620.8h0M1769.4 658.0h0M1770.8 645.1h0M1768.1 650.9h0M1768.5 659.8h0M1775.6 658.4h0M1768.6 632.4h0M1773.5 644.8h0M1769.1 652.4h0M1766.5 660.7h0M1772.1 645.0h0M1767.2 659.9h0M1771.1 658.7h0M1775.0 661.0h0M1769.7 631.8h0M1768.1 660.8h0M1775.2 658.7h0M1770.3 650.4h0M1768.0 653.8h0M1770.8 660.8h0M1773.6 656.2h0M1772.3 646.8h0M1772.9 640.8h0M1770.6 662.2h0M1766.2 655.8h0M1770.8 663.2h0M1763.9 658.4h0M1772.6 650.8h0M1766.8 663.6h0M1776.8 654.6h0M1771.6 657.7h0M1771.5 655.0h0M1769.4 650.7h0M1771.1 638.6h0M1768.1 624.0h0M1768.8 662.3h0M1770.8 660.0h0M1770.9 658.4h0M1760.1 664.5h0M1776.1 661.8h0M1768.0 652.4h0M1774.2 664.5h0M1775.5 626.3h0M1772.2 656.2h0M1768.9 661.8h0M1773.0 657.1h0M1769.1 657.0h0M1766.5 643.6h0M1760.5 655.9h0M1773.4 648.8h0M1771.2 621.3h0M1776.5 635.3h0M1770.5 655.3h0M1771.8 661.6h0M1771.4 633.1h0M1769.6 661.8h0M1772.7 660.6h0M1772.9 652.8h0M1772.9 633.2h0M1767.1 663.9h0M1769.7 664.4h0M1778.1 652.6h0M1771.5 649.4h0M1768.2 645.7h0M1765.0 662.7h0M1775.8 647.1h0M1774.9 651.3h0M1772.3 655.1h0M1769.1 661.1h0M1773.3 646.3h0M1775.2 663.9h0M1771.3 656.7h0M1770.9 655.6h0M1770.8 660.5h0M1767.3 654.5h0M1771.9 616.1h0M1767.3 661.7h0M1768.2 654.7h0M1766.3 630.3h0M1769.2 659.0h0M1769.9 649.5h0M1768.9 662.5h0M1771.0 644.7h0M1771.2 637.0h0M1774.9 642.2h0M1770.4 660.9h0M1772.4 661.2h0M1775.7 662.0h0M1765.9 633.5h0M1767.1 664.3h0M1766.4 647.3h0M1769.7 651.9h0M1772.1 627.3h0M1768.6 658.6h0M1770.3 658.1h0M1771.2 637.9h0M1762.0 639.6h0M1775.9 631.9h0M1772.9 654.2h0M1768.8 657.7h0M1773.6 651.0h0M1772.7 654.2h0M1772.1 657.1h0M1771.6 640.3h0M1771.8 654.6h0M1768.2 639.7h0M1769.3 639.7h0M1771.0 652.3h0M1777.8 645.4h0M1773.1 644.3h0M1766.3 659.3h0M1770.7 654.3h0M1771.2 643.9h0M1772.8 619.1h0M1762.4 664.5h0M1768.1 644.5h0M1776.8 664.1h0M1771.7 656.1h0M1776.8 664.2h0M1771.6 648.1h0M1770.5 652.2h0M1767.8 650.4h0M1768.3 664.2h0M1769.4 656.0h0M1775.2 658.0h0M1774.7 660.8h0M1775.8 655.4h0M1770.5 660.2h0M1768.6 658.4h0M1772.1 656.0h0M1772.1 661.4h0M1772.7 633.1h0M1772.4 642.9h0M1768.6 658.6h0M1769.8 659.7h0M1767.9 659.6h0M1768.9 660.0h0M1767.2 658.4h0M1769.3 651.5h0M1769.6 651.8h0M1772.4 663.1h0M1767.2 643.5h0M1763.8 663.1h0M1769.3 661.5h0M1771.7 658.0h0M1768.6 647.8h0M1773.7 662.4h0M1770.6 652.0h0M1767.3 663.2h0M1773.3 655.8h0M1771.9 660.5h0M1769.7 625.3h0M1769.4 655.2h0M1763.2 654.1h0M1772.5 630.0h0M1779.5 650.8h0M1773.7 633.5h0M1772.7 663.6h0M1771.0 658.7h0M1769.1 660.4h0M1776.9 660.0h0M1771.7 625.3h0M1774.8 645.7h0M1769.1 661.5h0M1767.9 656.8h0M1766.9 658.2h0M1771.0 663.4h0M1770.9 664.5h0M1766.1 659.7h0M1768.8 664.3h0M1769.2 657.9h0M1764.6 614.7h0M1768.1 662.6h0M1774.7 615.4h0M1769.9 660.9h0M1752.5 658.7h0M1769.7 659.9h0M1754.1 660.7h0M1743.7 662.6h0M1757.0 660.9h0M1745.8 663.8h0M1771.0 662.3h0M1745.6 663.5h0M1760.7 663.2h0M1775.2 662.5h0M1756.1 663.8h0M1745.4 655.1h0M1771.9 643.7h0M1764.4 664.2h0M1775.0 664.5h0M1755.6 660.9h0M1763.8 664.3h0M1755.0 663.9h0M1765.7 648.1h0M1758.2 652.3h0M1751.1 659.7h0M1739.3 663.9h0M1745.8 657.0h0M1751.4 660.2h0M1764.8 659.0h0M1754.5 664.7h0M1770.1 663.7h0M1760.8 664.5h0M1750.9 660.0h0M1781.7 664.3h0M1749.8 651.6h0M1762.0 663.0h0M1747.4 657.9h0M1750.4 662.9h0M1761.3 664.4h0M1758.3 661.9h0M1787.3 655.7h0M1740.6 664.0h0M1746.8 663.0h0M1758.6 648.0h0M1768.0 654.5h0M1777.8 661.6h0M1743.2 651.9h0M1781.9 660.3h0M1739.9 661.2h0M1760.7 664.4h0M1757.0 660.6h0M1779.2 652.8h0M1731.3 661.8h0M1771.1 644.3h0M1753.0 664.0h0M1758.9 664.6h0M1761.7 661.5h0M1746.5 660.1h0M1756.8 656.7h0M1746.4 657.4h0M1759.0 660.8h0M1778.2 663.5h0M1745.2 664.4h0M1773.1 662.2h0M1778.4 662.4h0M1754.2 659.5h0M1783.8 656.1h0M1785.3 661.4h0M1744.7 664.6h0M1755.1 658.5h0M1736.3 660.4h0M1759.5 662.6h0M1778.9 664.5h0M1757.4 664.2h0M1751.9 663.5h0M1769.5 662.3h0M1777.8 650.7h0M1761.2 654.9h0M1756.5 663.4h0M1778.3 663.6h0M1765.7 658.2h0M1779.5 654.9h0M1748.1 644.3h0M1757.8 648.9h0M1748.7 661.1h0M1733.9 660.3h0M1741.4 655.8h0M1734.2 664.3h0M1772.1 663.0h0M1742.3 664.6h0M1730.9 663.9h0M1759.0 656.4h0M1744.8 661.3h0M1780.5 662.9h0M1749.7 657.4h0M1760.6 662.7h0M1756.4 663.7h0M1747.7 664.4h0M1734.1 659.2h0M1761.9 662.1h0M1744.9 651.6h0M1785.8 655.9h0M1766.1 663.5h0M1749.0 657.9h0M1740.1 663.0h0M1757.0 648.3h0M1747.3 661.2h0M1738.3 660.8h0M1767.8 662.8h0M1745.6 659.4h0M1766.6 660.0h0M1748.9 662.8h0M1763.7 661.4h0M1761.8 663.2h0M1774.8 664.1h0M1771.4 659.9h0M1743.2 661.6h0M1771.8 657.6h0M1787.8 659.1h0M1744.5 650.4h0M1769.7 653.3h0M1756.8 663.9h0M1764.3 655.5h0M1800.4 663.5h0M1719.7 656.0h0M1742.1 661.2h0M1759.7 662.4h0M1740.9 657.5h0M1755.3 660.3h0M1772.9 662.2h0M1758.1 664.4h0M1742.8 652.1h0M1773.9 664.6h0M1765.2 664.3h0M1745.8 664.1h0M1766.2 660.2h0M1725.3 655.2h0M1777.2 663.4h0M1746.9 662.5h0M1797.8 661.5h0M1737.7 659.7h0M1739.5 660.4h0M1795.2 663.6h0M1758.9 658.6h0M1761.3 660.1h0M1735.8 655.8h0M1787.1 663.6h0M1782.9 655.3h0M1781.0 655.9h0M1765.9 663.9h0M1774.0 661.8h0M1772.0 663.6h0M1736.2 663.8h0M1779.9 664.6h0M1738.8 663.0h0M1768.7 661.3h0M1719.7 662.9h0M1772.0 657.8h0M1731.4 663.3h0M1773.9 664.6h0M1765.9 663.0h0M1764.4 648.2h0M1753.4 660.5h0M1762.2 660.9h0M1773.0 663.7h0M1745.6 656.4h0M1740.8 661.0h0M1775.1 660.6h0M1723.8 662.3h0M1777.3 663.9h0M1723.5 654.3h0M1756.7 661.3h0M1779.2 663.9h0M1777.4 660.9h0M1735.5 664.3h0M1759.7 659.8h0M1755.4 656.4h0M1733.6 664.5h0M1765.4 663.1h0M1742.4 661.7h0M1788.5 664.7h0M1746.9 663.1h0M1789.0 660.6h0M1767.8 664.0h0M1775.1 657.9h0M1773.2 662.3h0M1765.9 661.6h0M1749.4 664.7h0M1750.0 664.4h0M1748.0 664.3h0M1741.1 658.1h0M1756.4 661.3h0M1755.4 663.0h0M1725.8 659.7h0M1748.5 661.7h0M1745.3 664.3h0M1744.1 650.7h0M1776.7 660.5h0M1776.8 661.2h0M1739.5 664.1h0M1770.8 662.5h0M1750.2 658.3h0M1778.2 662.3h0M1772.6 664.4h0M1772.2 663.3h0M1775.7 664.1h0M1772.2 654.0h0M1771.3 662.4h0M1740.9 663.0h0M1737.1 663.6h0M1784.9 661.8h0M1772.8 663.7h0M1737.5 664.3h0M1760.6 664.1h0M1758.7 663.4h0M1762.8 659.9h0M1779.9 657.5h0M1774.1 660.2h0M1766.7 661.4h0M1770.7 663.7h0M1757.4 664.5h0M1765.3 664.0h0M1764.2 664.2h0M1751.2 659.2h0M1761.9 663.6h0M1788.0 663.2h0M1758.7 662.7h0M1762.6 661.6h0M1744.9 662.0h0M1746.3 664.5h0M1740.8 662.0h0M1748.2 657.7h0M1784.4 656.7h0M1737.1 657.4h0M1793.6 658.0h0M1737.7 664.6h0M1750.4 658.1h0M1744.0 664.2h0M1781.7 657.4h0M1760.9 655.6h0M1789.3 654.4h0M1763.4 662.5h0M1748.9 661.6h0M1749.1 639.0h0M1747.6 664.6h0M1777.4 657.4h0M1756.2 664.0h0M1770.1 658.7h0M1758.0 663.1h0M1753.7 658.8h0M1733.9 657.9h0M1754.7 661.1h0M1780.0 659.8h0M1771.2 658.0h0M1784.0 662.9h0M1782.8 661.0h0M1757.2 662.0h0M1752.7 660.3h0M1723.0 662.2h0M1759.7 662.8h0M1757.8 654.4h0M1764.6 650.3h0M1785.0 664.4h0M1756.4 664.1h0M1755.2 663.5h0M1767.7 648.7h0M1756.8 663.9h0M1752.5 664.7h0M1747.7 663.6h0M1759.4 657.7h0M1765.1 660.0h0M1744.7 664.6h0M1751.4 653.3h0M1760.5 664.5h0M1745.5 662.0h0M1772.5 664.2h0M1773.2 651.6h0M1754.8 661.7h0M1799.3 664.0h0M1774.6 663.7h0M1767.8 658.6h0M1765.2 664.6h0M1777.8 662.3h0M1782.6 662.7h0M1766.3 660.9h0M1798.8 660.7h0M1760.4 660.3h0M1751.3 652.7h0M1746.8 661.8h0M1752.8 664.1h0M1756.8 658.5h0M1754.2 664.6h0M1750.9 650.6h0M1768.9 662.5h0M1740.6 657.3h0M1739.3 664.6h0M1759.4 660.9h0M1754.4 652.4h0M1746.1 647.1h0M1789.7 657.2h0M1755.5 663.3h0M1765.0 660.3h0M1740.1 662.3h0M1741.7 433.5h0M1741.7 508.9h0M1743.4 555.8h0M1744.4 565.2h0M1745.1 575.9h0M1772.9 606.4h0M1768.5 619.5h0M1746.7 582.6h0M1748.4 592.7h0" stroke="#c3c3c3" stroke-width="6.00" stroke-linecap="round" fill="none"/>
<path d="M1704.5 637.8h0M1739.6 653.3h0M1731.0 643.0h0M1739.1 650.8h0M1734.6 642.9h0M1736.9 629.9h0M1715.3 650.0h0M1726.3 643.1h0M1723.5 645.2h0M1735.3 610.8h0M1734.4 653.3h0M1737.1 641.7h0M1739.9 652.1h0M1739.2 647.8h0M1730.3 638.8h0M1733.6 648.8h0M1735.6 625.7h0M1724.0 618.5h0M1741.1 644.8h0M1742.3 638.4h0M1736.0 637.2h0M1738.8 647.8h0M1735.1 648.6h0M1728.9 637.4h0M1737.0 644.7h0M1735.6 632.3h0M1740.9 652.8h0M1739.0 623.6h0M1732.1 650.2h0M1726.3 627.9h0M1733.8 616.6h0M1732.3 626.5h0M1713.0 651.9h0M1731.4 635.9h0M1740.4 652.9h0M1742.4 646.2h0M1717.6 636.5h0M1731.7 606.8h0M1739.4 608.4h0M1741.5 646.7h0M1724.8 653.0h0M1734.9 638.8h0M1741.7 645.3h0M1737.3 644.6h0M1725.9 647.3h0M1734.8 650.4h0M1735.9 604.5h0M1718.8 652.5h0M1722.4 631.3h0M1737.3 644.4h0M1732.3 647.6h0M1735.6 636.5h0M1728.8 630.5h0M1742.0 608.4h0M1729.3 648.8h0M1734.6 610.0h0M1740.1 620.2h0M1733.4 645.4h0M1725.6 642.8h0M1736.9 604.5h0M1716.5 650.5h0M1726.9 652.8h0M1739.1 619.7h0M1738.0 649.2h0M1717.4 651.6h0M1740.9 639.3h0M1731.8 639.8h0M1740.2 619.8h0M1724.4 633.0h0M1731.1 597.9h0M1719.3 651.8h0M1722.8 638.1h0M1730.7 641.2h0M1724.7 644.1h0M1734.4 652.0h0M1739.0 644.6h0M1729.6 611.5h0M1740.8 643.7h0M1735.3 607.5h0M1732.2 644.2h0M1730.0 652.2h0M1725.9 640.6h0M1740.7 622.9h0M1730.5 612.8h0M1740.1 651.1h0M1726.2 650.4h0M1735.4 605.9h0M1735.1 639.9h0M1739.5 611.4h0M1736.1 645.7h0M1724.1 643.4h0M1734.1 629.6h0M1734.2 640.2h0M1737.2 649.6h0M1716.0 632.0h0M1742.4 628.1h0M1728.0 642.4h0M1729.6 642.0h0M1741.7 651.3h0M1732.2 632.7h0M1728.8 609.7h0M1741.4 639.0h0M1740.0 630.0h0M1733.9 638.5h0M1733.7 651.1h0M1736.2 649.7h0M1719.4 646.6h0M1742.6 627.7h0M1737.3 644.2h0M1734.8 631.8h0M1737.6 649.8h0M1722.0 644.6h0M1741.5 648.3h0M1730.8 616.1h0M1730.3 649.3h0M1732.3 644.1h0M1740.4 630.4h0M1723.3 652.6h0M1739.6 648.3h0M1741.1 611.0h0M1734.3 653.2h0M1726.1 621.1h0M1726.7 634.8h0M1740.8 637.8h0M1740.7 646.8h0M1723.8 646.5h0M1735.2 644.0h0M1714.3 636.7h0M1727.6 625.2h0M1725.5 636.9h0M1734.4 640.5h0M1729.5 639.4h0M1735.9 632.7h0M1733.6 629.7h0M1731.9 652.5h0M1723.8 613.7h0M1726.3 604.7h0M1722.9 639.3h0M1740.0 631.5h0M1721.9 651.6h0M1734.8 643.9h0M1738.9 620.9h0M1742.2 645.4h0M1727.1 647.7h0M1733.1 625.4h0M1737.8 651.1h0M1739.5 653.0h0M1734.7 637.2h0M1723.2 603.3h0M1731.8 644.0h0M1737.2 602.6h0M1719.7 625.5h0M1727.7 627.3h0M1734.6 626.2h0M1733.9 640.3h0M1740.5 643.7h0M1738.2 645.7h0M1741.5 652.8h0M1720.6 649.3h0M1734.1 640.9h0M1741.0 648.9h0M1739.3 649.7h0M1740.5 651.4h0M1740.6 653.1h0M1736.9 645.0h0M1739.9 649.0h0M1733.6 653.1h0M1736.0 649.6h0M1740.8 650.3h0M1742.4 636.3h0M1725.0 634.7h0M1735.9 653.2h0M1738.7 646.4h0M1739.7 639.2h0M1727.0 641.5h0M1740.5 625.5h0M1732.2 637.8h0M1738.0 628.9h0M1733.3 649.7h0M1741.1 628.7h0M1740.3 647.0h0M1714.3 617.8h0M1742.0 653.3h0M1737.6 633.9h0M1737.3 641.5h0M1717.7 640.7h0M1736.8 649.0h0M1739.2 647.4h0M1734.4 647.4h0M1720.9 651.2h0M1724.3 309.2h0M1723.3 417.4h0M1721.6 429.8h0M1730.7 438.9h0M1719.3 459.0h0M1737.4 476.4h0M1738.4 477.1h0M1739.4 484.8h0M1708.9 507.2h0M1708.9 517.9h0M1721.6 519.6h0M1733.3 513.9h0M1716.6 523.3h0M1716.6 528.3h0M1740.0 527.0h0M1727.6 531.4h0M1704.9 540.1h0M1736.7 548.4h0M1740.7 548.4h0M1741.7 540.7h0M1708.9 559.8h0M1725.0 561.8h0M1725.6 566.9h0M1740.0 563.5h0M1699.2 573.2h0M1715.9 574.9h0M1736.0 573.2h0M1741.7 573.2h0M1714.2 582.6h0M1723.3 579.9h0M1726.0 583.3h0M1734.0 584.3h0M1735.7 584.3h0M1719.9 589.3h0M1728.3 588.7h0M1709.9 597.7h0M1709.9 604.4h0M1723.3 604.4h0M1731.7 602.7h0M1696.8 608.8h0M1702.5 617.1h0M1697.5 619.5h0M1706.5 622.8h0M1639.5 647.0h0M1649.6 650.7h0M1678.0 649.7h0M1681.4 649.0h0M1686.4 647.3h0M1696.5 643.6h0M1699.8 639.6h0M1704.9 651.3h0M1694.8 626.2h0M1701.5 632.9h0M1711.6 612.8h0M1714.9 626.2h0" stroke="#4aa6d0" stroke-width="6.00" stroke-linecap="round" fill="none"/>
<path d="M1782.9 584.3h0M1781.9 636.2h0M1787.6 635.2h0M1797.7 636.2h0M1781.9 642.9h0M1787.0 641.3h0M1795.3 646.3h0M1797.7 649.0h0M1783.6 648.0h0M1788.0 651.3h0M1817.1 650.7h0M1786.3 656.4h0M1788.6 644.6h0M1792.0 639.6h0" stroke="#ee5a66" stroke-width="6.00" stroke-linecap="round" fill="none"/>
<line x1="1742.6" y1="263.2" x2="1742.6" y2="664" stroke="#111" stroke-width="1.6" stroke-dasharray="4.5 3"/>
<line x1="1781.7" y1="263.2" x2="1781.7" y2="664" stroke="#111" stroke-width="1.6" stroke-dasharray="4.5 3"/>
<line x1="1563.7" y1="654.2" x2="1958.9" y2="654.2" stroke="#111" stroke-width="1.6" stroke-dasharray="4.5 3"/>
<rect x="1555.7" y="259.2" width="411.20000000000005" height="408.8" fill="none" stroke="#222" stroke-width="1.8"/>
<line x1="1566.5" y1="668" x2="1566.5" y2="673" stroke="#222" stroke-width="1.5"/>
<text x="1566.5" y="687.8" font-size="16.2" text-anchor="middle" fill="#111" font-weight="normal" font-family="'Liberation Sans', Arial, sans-serif" >-10</text>
<line x1="1664.3" y1="668" x2="1664.3" y2="673" stroke="#222" stroke-width="1.5"/>
<text x="1664.3" y="687.8" font-size="16.2" text-anchor="middle" fill="#111" font-weight="normal" font-family="'Liberation Sans', Arial, sans-serif" >-5</text>
<line x1="1762.2" y1="668" x2="1762.2" y2="673" stroke="#222" stroke-width="1.5"/>
<text x="1762.2" y="687.8" font-size="16.2" text-anchor="middle" fill="#111" font-weight="normal" font-family="'Liberation Sans', Arial, sans-serif" >0</text>
<line x1="1860.0" y1="668" x2="1860.0" y2="673" stroke="#222" stroke-width="1.5"/>
<text x="1860.0" y="687.8" font-size="16.2" text-anchor="middle" fill="#111" font-weight="normal" font-family="'Liberation Sans', Arial, sans-serif" >5</text>
<line x1="1957.9" y1="668" x2="1957.9" y2="673" stroke="#222" stroke-width="1.5"/>
<text x="1957.9" y="687.8" font-size="16.2" text-anchor="middle" fill="#111" font-weight="normal" font-family="'Liberation Sans', Arial, sans-serif" >10</text>
<line x1="1550.7" y1="664.7" x2="1555.7" y2="664.7" stroke="#222" stroke-width="1.5"/>
<text x="1546.7" y="670.2" font-size="16.2" text-anchor="end" fill="#111" font-weight="normal" font-family="'Liberation Sans', Arial, sans-serif" >0</text>
<line x1="1550.7" y1="584.3" x2="1555.7" y2="584.3" stroke="#222" stroke-width="1.5"/>
<text x="1546.7" y="589.8" font-size="16.2" text-anchor="end" fill="#111" font-weight="normal" font-family="'Liberation Sans', Arial, sans-serif" >10</text>
<line x1="1550.7" y1="503.9" x2="1555.7" y2="503.9" stroke="#222" stroke-width="1.5"/>
<text x="1546.7" y="509.4" font-size="16.2" text-anchor="end" fill="#111" font-weight="normal" font-family="'Liberation Sans', Arial, sans-serif" >20</text>
<line x1="1550.7" y1="423.5" x2="1555.7" y2="423.5" stroke="#222" stroke-width="1.5"/>
<text x="1546.7" y="429.0" font-size="16.2" text-anchor="end" fill="#111" font-weight="normal" font-family="'Liberation Sans', Arial, sans-serif" >30</text>
<line x1="1550.7" y1="343.1" x2="1555.7" y2="343.1" stroke="#222" stroke-width="1.5"/>
<text x="1546.7" y="348.6" font-size="16.2" text-anchor="end" fill="#111" font-weight="normal" font-family="'Liberation Sans', Arial, sans-serif" >40</text>
<line x1="1550.7" y1="262.7" x2="1555.7" y2="262.7" stroke="#222" stroke-width="1.5"/>
<text x="1546.7" y="268.2" font-size="16.2" text-anchor="end" fill="#111" font-weight="normal" font-family="'Liberation Sans', Arial, sans-serif" >50</text>
<text x="1768.3" y="228.0" font-size="32.5" text-anchor="middle" fill="#111" font-weight="normal" font-family="'Liberation Sans', Arial, sans-serif" textLength="192.7" lengthAdjust="spacingAndGlyphs" >Large tumors</text>
<text x="1652.9" y="307.8" font-size="32.5" text-anchor="middle" fill="#111" font-weight="normal" font-family="'Liberation Sans', Arial, sans-serif" >222</text>
<text x="1847.3" y="307.8" font-size="32.5" text-anchor="middle" fill="#111" font-weight="normal" font-family="'Liberation Sans', Arial, sans-serif" >15</text>
<text x="0" y="0" font-size="33" fill="#111" font-family="'Liberation Sans', Arial, sans-serif" text-anchor="middle" transform="translate(1501.7,476) rotate(-90)" textLength="180" lengthAdjust="spacingAndGlyphs">-log10(FDR)</text>
<text x="1770.7" y="729.7" font-size="33" text-anchor="middle" fill="#111" font-weight="normal" font-family="'Liberation Sans', Arial, sans-serif" textLength="108.20000000000005" lengthAdjust="spacingAndGlyphs" >log2(fc)</text>
<text x="1.3" y="944.3" font-size="51" text-anchor="start" fill="#000" font-weight="bold" font-family="'Liberation Sans', Arial, sans-serif" >C</text>
<text x="535.0" y="998.6" font-size="35" text-anchor="middle" fill="#111" font-weight="normal" font-family="'Liberation Sans', Arial, sans-serif" textLength="356" lengthAdjust="spacingAndGlyphs" >Top 5 of GO Enrichment</text>
<rect x="365.8" y="1036.8" width="302.90000000000003" height="444.9000000000001" fill="#fff" stroke="#111" stroke-width="1.6"/>
<line x1="419.7" y1="1037.8" x2="419.7" y2="1480.7" stroke="#d4d4d4" stroke-width="1.5" stroke-dasharray="7 6"/>
<line x1="528.2" y1="1037.8" x2="528.2" y2="1480.7" stroke="#d4d4d4" stroke-width="1.5" stroke-dasharray="7 6"/>
<line x1="637.0" y1="1037.8" x2="637.0" y2="1480.7" stroke="#d4d4d4" stroke-width="1.5" stroke-dasharray="7 6"/>
<line x1="366.8" y1="1081.5" x2="667.7" y2="1081.5" stroke="#d4d4d4" stroke-width="1.5" stroke-dasharray="7 6"/>
<line x1="366.8" y1="1170.8" x2="667.7" y2="1170.8" stroke="#d4d4d4" stroke-width="1.5" stroke-dasharray="7 6"/>
<line x1="366.8" y1="1259.7" x2="667.7" y2="1259.7" stroke="#d4d4d4" stroke-width="1.5" stroke-dasharray="7 6"/>
<line x1="366.8" y1="1349.0" x2="667.7" y2="1349.0" stroke="#d4d4d4" stroke-width="1.5" stroke-dasharray="7 6"/>
<line x1="366.8" y1="1437.5" x2="667.7" y2="1437.5" stroke="#d4d4d4" stroke-width="1.5" stroke-dasharray="7 6"/>
<circle cx="542" cy="1081.5" r="19.5" fill="#d04e4c" stroke="#333" stroke-width="1.2"/>
<circle cx="616" cy="1170.8" r="16.3" fill="#b5636a" stroke="#333" stroke-width="1.2"/>
<circle cx="607" cy="1259.7" r="15.8" fill="#a87268" stroke="#333" stroke-width="1.2"/>
<circle cx="612" cy="1349.0" r="14.9" fill="#6f87b5" stroke="#333" stroke-width="1.2"/>
<circle cx="438" cy="1437.5" r="21" fill="#57a0e3" stroke="#333" stroke-width="1.2"/>
<text x="419.7" y="1510.5" font-size="20" text-anchor="middle" fill="#111" font-weight="normal" font-family="'Liberation Sans', Arial, sans-serif" >0.15</text>
<text x="528.2" y="1510.5" font-size="20" text-anchor="middle" fill="#111" font-weight="normal" font-family="'Liberation Sans', Arial, sans-serif" >0.20</text>
<text x="637.0" y="1510.5" font-size="20" text-anchor="middle" fill="#111" font-weight="normal" font-family="'Liberation Sans', Arial, sans-serif" >0.25</text>
<text x="507.0" y="1553.0" font-size="32.5" text-anchor="middle" fill="#111" font-weight="normal" font-family="'Liberation Sans', Arial, sans-serif" textLength="165" lengthAdjust="spacingAndGlyphs" >Gene Ratio</text>
<text x="2.5" y="1083.0" font-size="33.5" text-anchor="start" fill="#111" font-weight="normal" font-family="'Liberation Sans', Arial, sans-serif" textLength="356" lengthAdjust="spacingAndGlyphs" >Immune system process</text>
<text x="2.5" y="1169.0" font-size="33.5" text-anchor="start" fill="#111" font-weight="normal" font-family="'Liberation Sans', Arial, sans-serif" textLength="263" lengthAdjust="spacingAndGlyphs" >Immune response</text>
<text x="2.5" y="1259.0" font-size="33.5" text-anchor="start" fill="#111" font-weight="normal" font-family="'Liberation Sans', Arial, sans-serif" textLength="268" lengthAdjust="spacingAndGlyphs" >Defense response</text>
<text x="163.0" y="1324.4" font-size="33.5" text-anchor="middle" fill="#111" font-weight="normal" font-family="'Liberation Sans', Arial, sans-serif" textLength="320" lengthAdjust="spacingAndGlyphs" >Regulation of immune</text>
<text x="163.0" y="1364.0" font-size="33.5" text-anchor="middle" fill="#111" font-weight="normal" font-family="'Liberation Sans', Arial, sans-serif" textLength="227" lengthAdjust="spacingAndGlyphs" >system process</text>
<text x="2.5" y="1445.6" font-size="33.5" text-anchor="start" fill="#111" font-weight="normal" font-family="'Liberation Sans', Arial, sans-serif" textLength="280" lengthAdjust="spacingAndGlyphs" >Response to stress</text>
<text x="692.0" y="1059.0" font-size="25" text-anchor="start" fill="#222" font-weight="normal" font-family="'Liberation Sans', Arial, sans-serif" textLength="153" lengthAdjust="spacingAndGlyphs" >Gene number</text>
<circle cx="709.6" cy="1091.7" r="14.4" fill="#666666"/>
<text x="736.0" y="1093.2" font-size="24.5" text-anchor="start" fill="#222" font-weight="normal" font-family="'Liberation Sans', Arial, sans-serif" >373</text>
<circle cx="709.6" cy="1129" r="15.8" fill="#666666"/>
<text x="736.0" y="1130.5" font-size="24.5" text-anchor="start" fill="#222" font-weight="normal" font-family="'Liberation Sans', Arial, sans-serif" >439.5</text>
<circle cx="709.6" cy="1166" r="17.3" fill="#666666"/>
<text x="736.0" y="1167.5" font-size="24.5" text-anchor="start" fill="#222" font-weight="normal" font-family="'Liberation Sans', Arial, sans-serif" >506</text>
<circle cx="709.6" cy="1203" r="18.8" fill="#666666"/>
<text x="736.0" y="1204.5" font-size="24.5" text-anchor="start" fill="#222" font-weight="normal" font-family="'Liberation Sans', Arial, sans-serif" >572.5</text>
<circle cx="709.6" cy="1240.6" r="20.3" fill="#666666"/>
<text x="736.0" y="1242.1" font-size="24.5" text-anchor="start" fill="#222" font-weight="normal" font-family="'Liberation Sans', Arial, sans-serif" >639</text>
<text x="692" y="1304" font-size="25" fill="#222" font-family="'Liberation Sans', Arial, sans-serif">-log<tspan font-size="16" dy="6">10</tspan><tspan dy="-6">(Qvalue)</tspan></text>
<linearGradient id="cbq" x1="0" y1="0" x2="0" y2="1"><stop offset="0" stop-color="#d44848"/><stop offset="0.3" stop-color="#b06070"/><stop offset="0.5" stop-color="#a07880"/><stop offset="0.7" stop-color="#7080b0"/><stop offset="1" stop-color="#50a0e8"/></linearGradient>
<rect x="692" y="1329" width="21" height="148" fill="url(#cbq)"/>
<line x1="692" y1="1352.9" x2="696" y2="1352.9" stroke="#fff" stroke-width="1.5"/>
<line x1="709" y1="1352.9" x2="713" y2="1352.9" stroke="#fff" stroke-width="1.5"/>
<text x="717.0" y="1356.3" font-size="25" text-anchor="start" fill="#222" font-weight="normal" font-family="'Liberation Sans', Arial, sans-serif" >110</text>
<line x1="692" y1="1391.4" x2="696" y2="1391.4" stroke="#fff" stroke-width="1.5"/>
<line x1="709" y1="1391.4" x2="713" y2="1391.4" stroke="#fff" stroke-width="1.5"/>
<text x="717.0" y="1393.6" font-size="25" text-anchor="start" fill="#222" font-weight="normal" font-family="'Liberation Sans', Arial, sans-serif" >100</text>
<line x1="692" y1="1428.9" x2="696" y2="1428.9" stroke="#fff" stroke-width="1.5"/>
<line x1="709" y1="1428.9" x2="713" y2="1428.9" stroke="#fff" stroke-width="1.5"/>
<text x="717.0" y="1431.0" font-size="25" text-anchor="start" fill="#222" font-weight="normal" font-family="'Liberation Sans', Arial, sans-serif" >90</text>
<line x1="692" y1="1466.9" x2="696" y2="1466.9" stroke="#fff" stroke-width="1.5"/>
<line x1="709" y1="1466.9" x2="713" y2="1466.9" stroke="#fff" stroke-width="1.5"/>
<text x="717.0" y="1468.0" font-size="25" text-anchor="start" fill="#222" font-weight="normal" font-family="'Liberation Sans', Arial, sans-serif" >80</text>
<text x="1.1" y="1638.7" font-size="51" text-anchor="start" fill="#000" font-weight="bold" font-family="'Liberation Sans', Arial, sans-serif" >D</text>
<text x="439.0" y="1619.0" font-size="33" text-anchor="middle" fill="#111" font-weight="normal" font-family="'Liberation Sans', Arial, sans-serif" textLength="689" lengthAdjust="spacingAndGlyphs" >Negative regulation of immune effector process</text>
<line x1="200.1" y1="1704.2" x2="653.4" y2="1704.2" stroke="#e4e4e4" stroke-width="1" stroke-dasharray="3 3"/>
<line x1="200.1" y1="1727.4" x2="653.4" y2="1727.4" stroke="#e4e4e4" stroke-width="1" stroke-dasharray="3 3"/>
<line x1="200.1" y1="1750.6" x2="653.4" y2="1750.6" stroke="#e4e4e4" stroke-width="1" stroke-dasharray="3 3"/>
<line x1="200.1" y1="1773.8" x2="653.4" y2="1773.8" stroke="#e4e4e4" stroke-width="1" stroke-dasharray="3 3"/>
<line x1="200.1" y1="1797.0" x2="653.4" y2="1797.0" stroke="#e4e4e4" stroke-width="1" stroke-dasharray="3 3"/>
<line x1="200.1" y1="1820.2" x2="653.4" y2="1820.2" stroke="#e4e4e4" stroke-width="1" stroke-dasharray="3 3"/>
<line x1="200.1" y1="1843.4" x2="653.4" y2="1843.4" stroke="#e4e4e4" stroke-width="1" stroke-dasharray="3 3"/>
<line x1="200.1" y1="1681.0" x2="653.4" y2="1681.0" stroke="#999" stroke-width="1.2" stroke-dasharray="4 3"/>
<path d="M198.1,1681.4 L204.1,1677.3 L214.7,1677.0 L256.9,1696.8 L274.7,1704.9 L279.6,1704.9 L302.3,1715.5 L331.6,1727.7 L367.3,1743.9 L400.0,1760.1 L432.5,1778.8 L481.2,1804.0 L534.7,1828.3 L546.0,1831.5 L553.0,1833.5 L560.0,1835.5 L572.0,1837.2 L582.0,1836.4 L591.6,1836.4 L600.0,1834.8 L605.0,1833.8 L614.3,1833.2 L620.0,1830.5 L623.2,1828.3 L624.8,1816.1 L628.0,1814.8 L633.0,1814.5 L633.8,1807.2 L637.8,1792.6 L638.8,1765.0 L640.3,1729.3 L641.5,1712.0 L643.5,1688.7 L646.8,1680.6" fill="none" stroke="#44ee1c" stroke-width="3.9" stroke-linejoin="round" stroke-linecap="round"/>
<text x="202.5" y="1812.3" font-size="12.4" text-anchor="start" fill="#111" font-weight="normal" font-family="'Liberation Sans', Arial, sans-serif" >Nominal p−value: 0</text>
<text x="202.5" y="1827.0" font-size="12.4" text-anchor="start" fill="#111" font-weight="normal" font-family="'Liberation Sans', Arial, sans-serif" >FDR: 3e−04</text>
<text x="202.5" y="1841.7" font-size="12.4" text-anchor="start" fill="#111" font-weight="normal" font-family="'Liberation Sans', Arial, sans-serif" >ES: −0.6748</text>
<text x="202.5" y="1856.4" font-size="12.4" text-anchor="start" fill="#111" font-weight="normal" font-family="'Liberation Sans', Arial, sans-serif" >Normalized ES: −1.8558</text>
<path d="M201.3 1860.3V1929.4M203.5 1860.3V1929.4M212.1 1860.3V1929.4M214.3 1860.3V1929.4M233.8 1860.3V1929.4M257.6 1860.3V1929.4M266.2 1860.3V1929.4M272.7 1860.3V1929.4M274.5 1860.3V1929.4M276.2 1860.3V1929.4M277.9 1860.3V1929.4M281.4 1860.3V1929.4M283.5 1860.3V1929.4M298.7 1860.3V1929.4M303.0 1860.3V1929.4M305.2 1860.3V1929.4M308.2 1860.3V1929.4M310.0 1860.3V1929.4M311.7 1860.3V1929.4M313.9 1860.3V1929.4M317.3 1860.3V1929.4M320.3 1860.3V1929.4M331.2 1860.3V1929.4M332.5 1860.3V1929.4M334.2 1860.3V1929.4M336.8 1860.3V1929.4M339.0 1860.3V1929.4M342.0 1860.3V1929.4M344.2 1860.3V1929.4M346.3 1860.3V1929.4M359.3 1860.3V1929.4M368.0 1860.3V1929.4M381.0 1860.3V1929.4M391.8 1860.3V1929.4M406.9 1860.3V1929.4M432.9 1860.3V1929.4M482.7 1860.3V1929.4M484.8 1860.3V1929.4M487.0 1860.3V1929.4M489.6 1860.3V1929.4M492.2 1860.3V1929.4M494.8 1860.3V1929.4M497.8 1860.3V1929.4M500.9 1860.3V1929.4M504.3 1860.3V1929.4M517.3 1860.3V1929.4M519.5 1860.3V1929.4M532.5 1860.3V1929.4M534.6 1860.3V1929.4M536.8 1860.3V1929.4M539.0 1860.3V1929.4M541.1 1860.3V1929.4M549.8 1860.3V1929.4M551.9 1860.3V1929.4M555.0 1860.3V1929.4M558.4 1860.3V1929.4M562.8 1860.3V1929.4M571.4 1860.3V1929.4M573.6 1860.3V1929.4M575.8 1860.3V1929.4M578.8 1860.3V1929.4M581.4 1860.3V1929.4M584.4 1860.3V1929.4M587.4 1860.3V1929.4M589.6 1860.3V1929.4M593.1 1860.3V1929.4M597.4 1860.3V1929.4M600.0 1860.3V1929.4M602.6 1860.3V1929.4M606.1 1860.3V1929.4M614.7 1860.3V1929.4M618.2 1860.3V1929.4M621.2 1860.3V1929.4M623.4 1860.3V1929.4M632.0 1860.3V1929.4M634.2 1860.3V1929.4M636.4 1860.3V1929.4M638.5 1860.3V1929.4M639.8 1860.3V1929.4M641.1 1860.3V1929.4M642.4 1860.3V1929.4M643.7 1860.3V1929.4M645.0 1860.3V1929.4M646.8 1860.3V1929.4" stroke="#111" stroke-width="1.3" fill="none"/>
<rect x="198.1" y="1929.4" width="66.9" height="15.0" fill="#fb3a3a"/>
<rect x="265.0" y="1929.4" width="33.7" height="15.0" fill="#ea6a72"/>
<rect x="298.7" y="1929.4" width="32.3" height="15.0" fill="#f0a2aa"/>
<rect x="331.0" y="1929.4" width="145.0" height="15.0" fill="#f6dfe2"/>
<rect x="476.0" y="1929.4" width="34.8" height="15.0" fill="#dedef6"/>
<rect x="510.8" y="1929.4" width="34.7" height="15.0" fill="#a8a8f6"/>
<rect x="545.5" y="1929.4" width="34.5" height="15.0" fill="#7272f2"/>
<rect x="580.0" y="1929.4" width="66.8" height="15.0" fill="#3a2cf2"/>
<path d="M201.3 1929.4V1944.4M203.5 1929.4V1944.4M212.1 1929.4V1944.4M214.3 1929.4V1944.4M233.8 1929.4V1944.4M257.6 1929.4V1944.4M266.2 1929.4V1944.4M272.7 1929.4V1944.4M274.5 1929.4V1944.4M276.2 1929.4V1944.4M277.9 1929.4V1944.4M281.4 1929.4V1944.4M283.5 1929.4V1944.4M298.7 1929.4V1944.4M303.0 1929.4V1944.4M305.2 1929.4V1944.4M308.2 1929.4V1944.4M310.0 1929.4V1944.4M311.7 1929.4V1944.4M313.9 1929.4V1944.4M317.3 1929.4V1944.4M320.3 1929.4V1944.4M331.2 1929.4V1944.4M332.5 1929.4V1944.4M334.2 1929.4V1944.4M336.8 1929.4V1944.4M339.0 1929.4V1944.4M342.0 1929.4V1944.4M344.2 1929.4V1944.4M346.3 1929.4V1944.4M359.3 1929.4V1944.4M368.0 1929.4V1944.4M381.0 1929.4V1944.4M391.8 1929.4V1944.4M406.9 1929.4V1944.4M432.9 1929.4V1944.4M482.7 1929.4V1944.4M484.8 1929.4V1944.4M487.0 1929.4V1944.4M489.6 1929.4V1944.4M492.2 1929.4V1944.4M494.8 1929.4V1944.4M497.8 1929.4V1944.4M500.9 1929.4V1944.4M504.3 1929.4V1944.4M517.3 1929.4V1944.4M519.5 1929.4V1944.4M532.5 1929.4V1944.4M534.6 1929.4V1944.4M536.8 1929.4V1944.4M539.0 1929.4V1944.4M541.1 1929.4V1944.4M549.8 1929.4V1944.4M551.9 1929.4V1944.4M555.0 1929.4V1944.4M558.4 1929.4V1944.4M562.8 1929.4V1944.4M571.4 1929.4V1944.4M573.6 1929.4V1944.4M575.8 1929.4V1944.4M578.8 1929.4V1944.4M581.4 1929.4V1944.4M584.4 1929.4V1944.4M587.4 1929.4V1944.4M589.6 1929.4V1944.4M593.1 1929.4V1944.4M597.4 1929.4V1944.4M600.0 1929.4V1944.4M602.6 1929.4V1944.4M606.1 1929.4V1944.4M614.7 1929.4V1944.4M618.2 1929.4V1944.4M621.2 1929.4V1944.4M623.4 1929.4V1944.4M632.0 1929.4V1944.4M634.2 1929.4V1944.4M636.4 1929.4V1944.4M638.5 1929.4V1944.4M639.8 1929.4V1944.4M641.1 1929.4V1944.4M642.4 1929.4V1944.4M643.7 1929.4V1944.4M645.0 1929.4V1944.4M646.8 1929.4V1944.4" stroke="#888" stroke-opacity="0.45" stroke-width="0.9" fill="none"/>
<text x="202.5" y="1940.5" font-size="8" text-anchor="start" fill="#552222" font-weight="normal" font-family="'Liberation Sans', Arial, sans-serif" >Positive</text>
<text x="643.0" y="1940.5" font-size="8" text-anchor="end" fill="#222255" font-weight="normal" font-family="'Liberation Sans', Arial, sans-serif" >Negative</text>
<path d="M198.6,2016.8 L198.6,1990.1 L201.4,1993.3 L204.2,1995.9 L206.9,1998.2 L209.7,2000.0 L212.5,2001.6 L215.3,2002.9 L218.1,2004.0 L220.8,2004.9 L223.6,2005.8 L226.4,2006.5 L229.2,2007.1 L232.0,2007.6 L234.7,2008.1 L237.5,2008.5 L240.3,2008.9 L243.1,2009.3 L245.9,2009.6 L248.6,2009.9 L251.4,2010.2 L254.2,2010.4 L257.0,2010.7 L259.8,2010.9 L262.5,2011.1 L265.3,2011.4 L268.1,2011.6 L270.9,2011.8 L273.6,2012.0 L276.4,2012.2 L279.2,2012.4 L282.0,2012.6 L284.8,2012.8 L287.5,2013.0 L290.3,2013.1 L293.1,2013.3 L295.9,2013.5 L298.7,2013.7 L301.4,2013.8 L304.2,2014.0 L307.0,2014.2 L309.8,2014.3 L312.6,2014.5 L315.3,2014.6 L318.1,2014.8 L320.9,2015.0 L323.7,2015.1 L326.5,2015.2 L329.2,2015.4 L332.0,2015.5 L334.8,2015.7 L337.6,2015.8 L340.4,2015.9 L343.1,2016.0 L345.9,2016.2 L348.7,2016.3 L351.5,2016.4 L354.3,2016.5 L357.0,2016.6 L359.8,2016.7 L362.6,2016.7 L365.4,2016.8 L365.4,2016.8Z" fill="#d3d3d3"/>
<path d="M476.0,2016.8 L476.0,2017.9 L478.8,2017.9 L481.7,2017.9 L484.5,2017.9 L487.4,2017.9 L490.2,2018.0 L493.1,2018.0 L495.9,2018.0 L498.8,2018.1 L501.6,2018.1 L504.5,2018.2 L507.3,2018.3 L510.2,2018.3 L513.0,2018.4 L515.9,2018.5 L518.7,2018.6 L521.5,2018.7 L524.4,2018.8 L527.2,2018.9 L530.1,2019.0 L532.9,2019.1 L535.8,2019.2 L538.6,2019.4 L541.5,2019.5 L544.3,2019.7 L547.2,2019.8 L550.0,2020.0 L552.9,2020.1 L555.7,2020.3 L558.6,2020.5 L561.4,2020.7 L564.2,2020.9 L567.1,2021.1 L569.9,2021.3 L572.8,2021.5 L575.6,2021.7 L578.5,2021.9 L581.3,2022.2 L584.2,2022.4 L587.0,2022.7 L589.9,2023.0 L592.7,2023.3 L595.6,2023.6 L598.4,2023.9 L601.3,2024.3 L604.1,2024.7 L606.9,2025.1 L609.8,2025.5 L612.6,2026.0 L615.5,2026.5 L618.3,2027.1 L621.2,2027.8 L624.0,2028.6 L626.9,2029.4 L629.7,2030.5 L632.6,2031.7 L635.4,2033.4 L638.3,2035.8 L641.1,2040.1 L644.0,2048.8 L646.8,2069.4 L646.8,2016.8Z" fill="#d3d3d3"/>
<line x1="365.4" y1="1944.4" x2="365.4" y2="2091.6" stroke="#bbb" stroke-width="1" stroke-dasharray="2 2"/>
<text x="384.2" y="2012.4" font-size="17" text-anchor="middle" fill="#111" font-weight="normal" font-family="'Liberation Sans', Arial, sans-serif" textLength="139" lengthAdjust="spacingAndGlyphs" >Zero cross at 8314</text>
<text x="257.5" y="1977.0" font-size="28" text-anchor="middle" fill="#111" font-weight="normal" font-family="'Liberation Sans', Arial, sans-serif" textLength="78" lengthAdjust="spacingAndGlyphs" >PD-L1</text>
<text x="588.0" y="1977.0" font-size="28" text-anchor="middle" fill="#111" font-weight="normal" font-family="'Liberation Sans', Arial, sans-serif" textLength="77" lengthAdjust="spacingAndGlyphs" >pCDH</text>
<rect x="198.1" y="1653.5" width="458.3" height="206.8" fill="none" stroke="#222" stroke-width="1.3"/>
<rect x="198.1" y="1860.3" width="458.3" height="69.1" fill="none" stroke="#222" stroke-width="1.3"/>
<rect x="198.1" y="1929.4" width="458.3" height="15.0" fill="none" stroke="#222" stroke-width="1.3"/>
<rect x="198.1" y="1944.4" width="458.3" height="147.2" fill="none" stroke="#222" stroke-width="1.3"/>
<line x1="193.1" y1="1681.0" x2="198.1" y2="1681.0" stroke="#222" stroke-width="1.2"/>
<text x="0" y="0" font-size="13" text-anchor="middle" fill="#111" font-family="'Liberation Sans', Arial, sans-serif" transform="translate(186,1681.0) rotate(-90)">0.0</text>
<line x1="193.1" y1="1727.4" x2="198.1" y2="1727.4" stroke="#222" stroke-width="1.2"/>
<text x="0" y="0" font-size="13" text-anchor="middle" fill="#111" font-family="'Liberation Sans', Arial, sans-serif" transform="translate(186,1727.4) rotate(-90)">−0.2</text>
<line x1="193.1" y1="1773.8" x2="198.1" y2="1773.8" stroke="#222" stroke-width="1.2"/>
<text x="0" y="0" font-size="13" text-anchor="middle" fill="#111" font-family="'Liberation Sans', Arial, sans-serif" transform="translate(186,1773.8) rotate(-90)">−0.4</text>
<line x1="193.1" y1="1820.2" x2="198.1" y2="1820.2" stroke="#222" stroke-width="1.2"/>
<text x="0" y="0" font-size="13" text-anchor="middle" fill="#111" font-family="'Liberation Sans', Arial, sans-serif" transform="translate(186,1820.2) rotate(-90)">−0.6</text>
<text x="0" y="0" font-size="17" text-anchor="middle" fill="#111" font-family="'Liberation Sans', Arial, sans-serif" transform="translate(166,1756.5) rotate(-90)" textLength="168" lengthAdjust="spacingAndGlyphs">Enrichment score (ES)</text>
<line x1="193.1" y1="1951.1" x2="198.1" y2="1951.1" stroke="#222" stroke-width="1.2"/>
<text x="0" y="0" font-size="13" text-anchor="middle" fill="#111" font-family="'Liberation Sans', Arial, sans-serif" transform="translate(186,1951.1) rotate(-90)">3</text>
<line x1="193.1" y1="1973.0" x2="198.1" y2="1973.0" stroke="#222" stroke-width="1.2"/>
<text x="0" y="0" font-size="13" text-anchor="middle" fill="#111" font-family="'Liberation Sans', Arial, sans-serif" transform="translate(186,1973.0) rotate(-90)">2</text>
<line x1="193.1" y1="1994.9" x2="198.1" y2="1994.9" stroke="#222" stroke-width="1.2"/>
<text x="0" y="0" font-size="13" text-anchor="middle" fill="#111" font-family="'Liberation Sans', Arial, sans-serif" transform="translate(186,1994.9) rotate(-90)">1</text>
<line x1="193.1" y1="2016.8" x2="198.1" y2="2016.8" stroke="#222" stroke-width="1.2"/>
<text x="0" y="0" font-size="13" text-anchor="middle" fill="#111" font-family="'Liberation Sans', Arial, sans-serif" transform="translate(186,2016.8) rotate(-90)">0</text>
<line x1="193.1" y1="2038.7" x2="198.1" y2="2038.7" stroke="#222" stroke-width="1.2"/>
<text x="0" y="0" font-size="13" text-anchor="middle" fill="#111" font-family="'Liberation Sans', Arial, sans-serif" transform="translate(186,2038.7) rotate(-90)">−1</text>
<line x1="193.1" y1="2060.6" x2="198.1" y2="2060.6" stroke="#222" stroke-width="1.2"/>
<line x1="193.1" y1="2082.5" x2="198.1" y2="2082.5" stroke="#222" stroke-width="1.2"/>
<text x="0" y="0" font-size="13" text-anchor="middle" fill="#111" font-family="'Liberation Sans', Arial, sans-serif" transform="translate(186,2082.5) rotate(-90)">−3</text>
<text x="0" y="0" font-size="17" text-anchor="middle" fill="#111" font-family="'Liberation Sans', Arial, sans-serif" transform="translate(166,2017) rotate(-90)" textLength="98" lengthAdjust="spacingAndGlyphs">Signal2Noise</text>
<line x1="298.7" y1="2091.6" x2="298.7" y2="2096.6" stroke="#222" stroke-width="1.2"/>
<text x="298.7" y="2110.0" font-size="13" text-anchor="middle" fill="#111" font-weight="normal" font-family="'Liberation Sans', Arial, sans-serif" >5000</text>
<line x1="399.3" y1="2091.6" x2="399.3" y2="2096.6" stroke="#222" stroke-width="1.2"/>
<text x="399.3" y="2110.0" font-size="13" text-anchor="middle" fill="#111" font-weight="normal" font-family="'Liberation Sans', Arial, sans-serif" >10000</text>
<line x1="499.9" y1="2091.6" x2="499.9" y2="2096.6" stroke="#222" stroke-width="1.2"/>
<text x="499.9" y="2110.0" font-size="13" text-anchor="middle" fill="#111" font-weight="normal" font-family="'Liberation Sans', Arial, sans-serif" >15000</text>
<line x1="600.5" y1="2091.6" x2="600.5" y2="2096.6" stroke="#222" stroke-width="1.2"/>
<text x="600.5" y="2110.0" font-size="13" text-anchor="middle" fill="#111" font-weight="normal" font-family="'Liberation Sans', Arial, sans-serif" >20000</text>
<text x="426.4" y="2129.8" font-size="17" text-anchor="middle" fill="#111" font-weight="normal" font-family="'Liberation Sans', Arial, sans-serif" textLength="184" lengthAdjust="spacingAndGlyphs" >Rank in ordered gene list</text>
<text x="827.2" y="945.8" font-size="51" text-anchor="start" fill="#000" font-weight="bold" font-family="'Liberation Sans', Arial, sans-serif" >E</text>
<path d="M965.9 1046.8V1068.0M967.9 1046.8V1068.0M978.9 1046.8V1068.0M981.0 1046.8V1068.0M908.1 1046.8V1068.0M950.0 1074.7V1096.0M964.1 1074.7V1096.0M954.2 1102.7V1124.0M955.3 1102.7V1124.0M944.0 1130.7V1152.0M956.9 1130.7V1152.0M958.4 1130.7V1152.0M960.4 1130.7V1152.0M936.8 1158.7V1179.9M905.0 1158.7V1179.9M944.9 1186.7V1207.9M956.2 1186.7V1207.9M958.0 1186.7V1207.9M977.1 1214.6V1235.9M937.7 1214.6V1235.9M937.6 1214.6V1235.9M902.9 1242.6V1263.9M929.8 1242.6V1263.9M947.0 1242.6V1263.9M950.2 1242.6V1263.9M925.6 1270.6V1291.9M931.1 1270.6V1291.9M917.6 1270.6V1291.9M932.8 1270.6V1291.9M910.9 1298.6V1319.8M941.1 1298.6V1319.8M923.3 1298.6V1319.8M898.0 1326.6V1347.8M908.9 1326.6V1347.8M937.0 1354.5V1375.8M939.4 1354.5V1375.8M928.8 1354.5V1375.8M921.4 1354.5V1375.8M914.1 1382.5V1403.8M929.1 1382.5V1403.8M920.5 1382.5V1403.8M948.0 1410.5V1431.8M913.1 1410.5V1431.8M941.0 1410.5V1431.8M903.7 1410.5V1431.8M912.7 1438.5V1459.7M915.4 1438.5V1459.7M893.6 1466.5V1487.7M904.3 1466.5V1487.7M901.7 1494.4V1515.7M908.3 1494.4V1515.7M905.4 1494.4V1515.7M907.7 1494.4V1515.7M897.3 1522.4V1543.7M964.6 1522.4V1543.7M908.6 1522.4V1543.7M930.1 1550.4V1571.7M901.9 1550.4V1571.7M925.7 1550.4V1571.7M959.5 1578.4V1599.6M896.8 1578.4V1599.6M908.9 1606.4V1627.6M909.1 1606.4V1627.6M901.6 1634.3V1655.6M913.4 1634.3V1655.6M908.6 1634.3V1655.6M917.6 1662.3V1683.6M917.8 1662.3V1683.6M916.8 1690.3V1711.6M912.7 1690.3V1711.6M969.4 1718.3V1739.5M926.6 1718.3V1739.5M893.6 1718.3V1739.5M926.5 1718.3V1739.5M907.5 1746.3V1767.5M927.4 1746.3V1767.5M932.4 1746.3V1767.5M935.4 1774.2V1795.5M937.4 1774.2V1795.5M918.3 1774.2V1795.5M916.7 1774.2V1795.5M922.8 1802.2V1823.5M893.6 1802.2V1823.5M903.6 1830.2V1851.5M938.9 1830.2V1851.5M919.3 1830.2V1851.5M912.0 1830.2V1851.5M922.4 1858.2V1879.4M911.4 1858.2V1879.4M914.6 1886.2V1907.4M916.5 1886.2V1907.4M918.5 1886.2V1907.4M900.7 1886.2V1907.4M902.7 1886.2V1907.4M927.2 1886.2V1907.4M916.1 1914.1V1935.4M920.6 1914.1V1935.4M908.7 1914.1V1935.4M926.7 1942.1V1963.4M925.0 1942.1V1963.4M914.1 1942.1V1963.4M903.2 1970.1V1991.4M909.6 1970.1V1991.4M912.5 1970.1V1991.4" stroke="#1f4a8e" stroke-width="2.5" fill="none"/>
<path d="M916.5 1046.8V1068.0M902.7 1046.8V1068.0M923.4 1046.8V1068.0M925.4 1046.8V1068.0M945.9 1074.7V1096.0M900.0 1074.7V1096.0M921.3 1102.7V1124.0M904.1 1102.7V1124.0M910.2 1102.7V1124.0M912.2 1102.7V1124.0M965.4 1130.7V1152.0M904.8 1130.7V1152.0M941.0 1130.7V1152.0M943.9 1158.7V1179.9M945.9 1158.7V1179.9M936.6 1158.7V1179.9M924.8 1158.7V1179.9M953.2 1186.7V1207.9M957.5 1186.7V1207.9M957.5 1186.7V1207.9M939.7 1186.7V1207.9M938.7 1214.6V1235.9M970.6 1214.6V1235.9M977.6 1214.6V1235.9M966.6 1214.6V1235.9M918.6 1242.6V1263.9M920.6 1242.6V1263.9M966.1 1242.6V1263.9M928.0 1270.6V1291.9M930.0 1270.6V1291.9M965.1 1270.6V1291.9M949.5 1270.6V1291.9M956.2 1270.6V1291.9M983.2 1298.6V1319.8M945.1 1298.6V1319.8M966.4 1298.6V1319.8M963.0 1326.6V1347.8M937.3 1326.6V1347.8M937.6 1326.6V1347.8M961.4 1326.6V1347.8M961.4 1354.5V1375.8M951.0 1354.5V1375.8M949.3 1354.5V1375.8M958.1 1382.5V1403.8M966.1 1382.5V1403.8M952.2 1382.5V1403.8M954.2 1382.5V1403.8M944.0 1410.5V1431.8M952.6 1410.5V1431.8M970.9 1410.5V1431.8M953.2 1410.5V1431.8M955.2 1410.5V1431.8M968.1 1438.5V1459.7M953.5 1438.5V1459.7M939.1 1438.5V1459.7M959.4 1466.5V1487.7M969.2 1466.5V1487.7M956.6 1494.4V1515.7M894.2 1494.4V1515.7M977.6 1522.4V1543.7M979.6 1522.4V1543.7M953.5 1522.4V1543.7M950.3 1522.4V1543.7M939.7 1522.4V1543.7M955.2 1550.4V1571.7M969.2 1550.4V1571.7M973.7 1550.4V1571.7M985.0 1578.4V1599.6M970.5 1578.4V1599.6M961.1 1578.4V1599.6M928.3 1606.4V1627.6M930.1 1606.4V1627.6M933.1 1606.4V1627.6M956.6 1606.4V1627.6M955.2 1634.3V1655.6M955.5 1634.3V1655.6M955.6 1634.3V1655.6M962.0 1634.3V1655.6M948.1 1662.3V1683.6M962.1 1662.3V1683.6M976.6 1690.3V1711.6M941.4 1690.3V1711.6M958.8 1690.3V1711.6M950.4 1690.3V1711.6M910.8 1718.3V1739.5M974.6 1718.3V1739.5M956.2 1718.3V1739.5M952.2 1718.3V1739.5M968.2 1746.3V1767.5M970.2 1746.3V1767.5M962.3 1746.3V1767.5M974.0 1746.3V1767.5M976.0 1746.3V1767.5M953.0 1774.2V1795.5M965.4 1774.2V1795.5M967.4 1774.2V1795.5M956.9 1774.2V1795.5M969.1 1802.2V1823.5M963.0 1802.2V1823.5M916.0 1830.2V1851.5M969.6 1830.2V1851.5M964.9 1830.2V1851.5M943.1 1858.2V1879.4M970.4 1858.2V1879.4M972.4 1858.2V1879.4M957.7 1886.2V1907.4M959.7 1886.2V1907.4M962.1 1886.2V1907.4M964.1 1886.2V1907.4M955.3 1914.1V1935.4M957.3 1914.1V1935.4M932.1 1914.1V1935.4M972.5 1942.1V1963.4M932.7 1942.1V1963.4M905.0 1970.1V1991.4M971.1 1970.1V1991.4M941.8 1970.1V1991.4M947.0 1970.1V1991.4M949.0 1970.1V1991.4" stroke="#ff1e12" stroke-width="2.5" fill="none"/>
<line x1="939.3" y1="1047.5" x2="939.3" y2="1991.3" stroke="#111" stroke-width="1.2" stroke-dasharray="3.5 2.5"/>
<rect x="891.6" y="1047.5" width="95.4" height="943.8" fill="none" stroke="#111" stroke-width="1.6"/>
<line x1="913" y1="1038.5" x2="913" y2="1047.5" stroke="#111" stroke-width="1.5"/>
<text x="910.0" y="1025.5" font-size="29" text-anchor="middle" fill="#111" font-weight="normal" font-family="'Liberation Sans', Arial, sans-serif" >-1</text>
<line x1="939.3" y1="1038.5" x2="939.3" y2="1047.5" stroke="#111" stroke-width="1.5"/>
<text x="939.3" y="1025.5" font-size="29" text-anchor="middle" fill="#111" font-weight="normal" font-family="'Liberation Sans', Arial, sans-serif" >0</text>
<line x1="966" y1="1038.5" x2="966" y2="1047.5" stroke="#111" stroke-width="1.5"/>
<text x="966.0" y="1025.5" font-size="29" text-anchor="middle" fill="#111" font-weight="normal" font-family="'Liberation Sans', Arial, sans-serif" >1</text>
<text x="881.0" y="982.0" font-size="28" text-anchor="start" fill="#111" font-weight="normal" font-family="'Liberation Sans', Arial, sans-serif" textLength="110" lengthAdjust="spacingAndGlyphs" >Samples</text>
<text x="1001.4" y="1002.6" font-size="32" text-anchor="start" fill="#111" font-weight="normal" font-family="'Liberation Sans', Arial, sans-serif" textLength="125.6" lengthAdjust="spacingAndGlyphs" >HIS-high</text>
<text x="1143.0" y="1001.0" font-size="32" text-anchor="start" fill="#111" font-weight="normal" font-family="'Liberation Sans', Arial, sans-serif" textLength="113" lengthAdjust="spacingAndGlyphs" >HIS-low</text>
<rect x="1001.4" y="1018.3" width="127.6" height="11.3" fill="#fa2012"/>
<rect x="1139" y="1019.3" width="127" height="11.6" fill="#a4c8e6"/>
<rect x="1001.4" y="1043.40" width="133.4" height="28.58" fill="#4574b0"/>
<rect x="1134.8" y="1043.40" width="130.9" height="28.58" fill="#b5253a"/>
<rect x="1001.4" y="1071.38" width="133.4" height="28.58" fill="#7ab3d2"/>
<rect x="1134.8" y="1071.38" width="130.9" height="28.58" fill="#cd5048"/>
<rect x="1001.4" y="1099.36" width="133.4" height="28.58" fill="#5a9bc8"/>
<rect x="1134.8" y="1099.36" width="130.9" height="28.58" fill="#c43c40"/>
<rect x="1001.4" y="1127.34" width="133.4" height="28.58" fill="#c8e2ee"/>
<rect x="1134.8" y="1127.34" width="130.9" height="28.58" fill="#e0846a"/>
<rect x="1001.4" y="1155.32" width="133.4" height="28.58" fill="#f3d5c4"/>
<rect x="1134.8" y="1155.32" width="130.9" height="28.58" fill="#f5e8e0"/>
<rect x="1001.4" y="1183.30" width="133.4" height="28.58" fill="#f3d5c4"/>
<rect x="1134.8" y="1183.30" width="130.9" height="28.58" fill="#f5e8e0"/>
<rect x="1001.4" y="1211.28" width="133.4" height="28.58" fill="#f3d5c4"/>
<rect x="1134.8" y="1211.28" width="130.9" height="28.58" fill="#f5e8e0"/>
<rect x="1001.4" y="1239.26" width="133.4" height="28.58" fill="#f0c3ac"/>
<rect x="1134.8" y="1239.26" width="130.9" height="28.58" fill="#f5f0ee"/>
<rect x="1001.4" y="1267.24" width="133.4" height="28.58" fill="#ecb79c"/>
<rect x="1134.8" y="1267.24" width="130.9" height="28.58" fill="#f6f6f6"/>
<rect x="1001.4" y="1295.22" width="133.4" height="28.58" fill="#e8aa8c"/>
<rect x="1134.8" y="1295.22" width="130.9" height="28.58" fill="#e8f0f3"/>
<rect x="1001.4" y="1323.20" width="133.4" height="28.58" fill="#e3937a"/>
<rect x="1134.8" y="1323.20" width="130.9" height="28.58" fill="#d8e8f0"/>
<rect x="1001.4" y="1351.18" width="133.4" height="28.58" fill="#e3937a"/>
<rect x="1134.8" y="1351.18" width="130.9" height="28.58" fill="#d5e8f0"/>
<rect x="1001.4" y="1379.16" width="133.4" height="28.58" fill="#e08b70"/>
<rect x="1134.8" y="1379.16" width="130.9" height="28.58" fill="#d5e8f0"/>
<rect x="1001.4" y="1407.14" width="133.4" height="28.58" fill="#d87a62"/>
<rect x="1134.8" y="1407.14" width="130.9" height="28.58" fill="#b5dae8"/>
<rect x="1001.4" y="1435.12" width="133.4" height="28.58" fill="#d46a58"/>
<rect x="1134.8" y="1435.12" width="130.9" height="28.58" fill="#a8d4e6"/>
<rect x="1001.4" y="1463.10" width="133.4" height="28.58" fill="#d06454"/>
<rect x="1134.8" y="1463.10" width="130.9" height="28.58" fill="#9ccde2"/>
<rect x="1001.4" y="1491.08" width="133.4" height="28.58" fill="#cd5c50"/>
<rect x="1134.8" y="1491.08" width="130.9" height="28.58" fill="#94c6de"/>
<rect x="1001.4" y="1519.06" width="133.4" height="28.58" fill="#cd5c50"/>
<rect x="1134.8" y="1519.06" width="130.9" height="28.58" fill="#8cc0da"/>
<rect x="1001.4" y="1547.04" width="133.4" height="28.58" fill="#cc5a4e"/>
<rect x="1134.8" y="1547.04" width="130.9" height="28.58" fill="#80b8d6"/>
<rect x="1001.4" y="1575.02" width="133.4" height="28.58" fill="#b52c38"/>
<rect x="1134.8" y="1575.02" width="130.9" height="28.58" fill="#4a80b8"/>
<rect x="1001.4" y="1603.00" width="133.4" height="28.58" fill="#ad2232"/>
<rect x="1134.8" y="1603.00" width="130.9" height="28.58" fill="#3a6ca8"/>
<rect x="1001.4" y="1630.98" width="133.4" height="28.58" fill="#ad2232"/>
<rect x="1134.8" y="1630.98" width="130.9" height="28.58" fill="#3a6ca8"/>
<rect x="1001.4" y="1658.96" width="133.4" height="28.58" fill="#ad2232"/>
<rect x="1134.8" y="1658.96" width="130.9" height="28.58" fill="#3866a2"/>
<rect x="1001.4" y="1686.94" width="133.4" height="28.58" fill="#a81f30"/>
<rect x="1134.8" y="1686.94" width="130.9" height="28.58" fill="#2a4e82"/>
<rect x="1001.4" y="1714.92" width="133.4" height="28.58" fill="#a41e30"/>
<rect x="1134.8" y="1714.92" width="130.9" height="28.58" fill="#2a4e82"/>
<rect x="1001.4" y="1742.90" width="133.4" height="28.58" fill="#9c1a2e"/>
<rect x="1134.8" y="1742.90" width="130.9" height="28.58" fill="#1b3461"/>
<rect x="1001.4" y="1770.88" width="133.4" height="28.58" fill="#9c1a2e"/>
<rect x="1134.8" y="1770.88" width="130.9" height="28.58" fill="#1b3461"/>
<rect x="1001.4" y="1798.86" width="133.4" height="28.58" fill="#961a2c"/>
<rect x="1134.8" y="1798.86" width="130.9" height="28.58" fill="#1b3461"/>
<rect x="1001.4" y="1826.84" width="133.4" height="28.58" fill="#961a2c"/>
<rect x="1134.8" y="1826.84" width="130.9" height="28.58" fill="#1b3461"/>
<rect x="1001.4" y="1854.82" width="133.4" height="28.58" fill="#921a2c"/>
<rect x="1134.8" y="1854.82" width="130.9" height="28.58" fill="#1b3461"/>
<rect x="1001.4" y="1882.80" width="133.4" height="28.58" fill="#921a2c"/>
<rect x="1134.8" y="1882.80" width="130.9" height="28.58" fill="#1b3461"/>
<rect x="1001.4" y="1910.78" width="133.4" height="28.58" fill="#881228"/>
<rect x="1134.8" y="1910.78" width="130.9" height="28.58" fill="#1b3461"/>
<rect x="1001.4" y="1938.76" width="133.4" height="28.58" fill="#861228"/>
<rect x="1134.8" y="1938.76" width="130.9" height="28.58" fill="#1b3461"/>
<rect x="1001.4" y="1966.74" width="133.4" height="28.58" fill="#6b0c24"/>
<rect x="1134.8" y="1966.74" width="130.9" height="28.58" fill="#1b3461"/>
<text x="1277.6" y="1065.1" font-size="21.5" text-anchor="start" fill="#111" font-weight="normal" font-family="'Liberation Sans', Arial, sans-serif" >Cd274</text>
<text x="1277.6" y="1093.1" font-size="21.5" text-anchor="start" fill="#111" font-weight="normal" font-family="'Liberation Sans', Arial, sans-serif" >Nt5e</text>
<text x="1277.6" y="1121.1" font-size="21.5" text-anchor="start" fill="#111" font-weight="normal" font-family="'Liberation Sans', Arial, sans-serif" >Tdo2</text>
<text x="1277.6" y="1149.1" font-size="21.5" text-anchor="start" fill="#111" font-weight="normal" font-family="'Liberation Sans', Arial, sans-serif" >Cd33</text>
<text x="1277.6" y="1177.1" font-size="21.5" text-anchor="start" fill="#111" font-weight="normal" font-family="'Liberation Sans', Arial, sans-serif" >Cd47</text>
<text x="1277.6" y="1205.0" font-size="21.5" text-anchor="start" fill="#111" font-weight="normal" font-family="'Liberation Sans', Arial, sans-serif" >Cd276</text>
<text x="1277.6" y="1233.0" font-size="21.5" text-anchor="start" fill="#111" font-weight="normal" font-family="'Liberation Sans', Arial, sans-serif" >Lair1</text>
<text x="1277.6" y="1261.0" font-size="21.5" text-anchor="start" fill="#111" font-weight="normal" font-family="'Liberation Sans', Arial, sans-serif" >Cd160</text>
<text x="1277.6" y="1289.0" font-size="21.5" text-anchor="start" fill="#111" font-weight="normal" font-family="'Liberation Sans', Arial, sans-serif" >Cd200</text>
<text x="1277.6" y="1317.0" font-size="21.5" text-anchor="start" fill="#111" font-weight="normal" font-family="'Liberation Sans', Arial, sans-serif" >Socs3</text>
<text x="1277.6" y="1344.9" font-size="21.5" text-anchor="start" fill="#111" font-weight="normal" font-family="'Liberation Sans', Arial, sans-serif" >Lgals9</text>
<text x="1277.6" y="1372.9" font-size="21.5" text-anchor="start" fill="#111" font-weight="normal" font-family="'Liberation Sans', Arial, sans-serif" >Entpd1</text>
<text x="1277.6" y="1400.9" font-size="21.5" text-anchor="start" fill="#111" font-weight="normal" font-family="'Liberation Sans', Arial, sans-serif" >Ctla4</text>
<text x="1277.6" y="1428.9" font-size="21.5" text-anchor="start" fill="#111" font-weight="normal" font-family="'Liberation Sans', Arial, sans-serif" >Btla</text>
<text x="1277.6" y="1456.9" font-size="21.5" text-anchor="start" fill="#111" font-weight="normal" font-family="'Liberation Sans', Arial, sans-serif" >Tnfrsf14</text>
<text x="1277.6" y="1484.8" font-size="21.5" text-anchor="start" fill="#111" font-weight="normal" font-family="'Liberation Sans', Arial, sans-serif" >Cd300a</text>
<text x="1277.6" y="1512.8" font-size="21.5" text-anchor="start" fill="#111" font-weight="normal" font-family="'Liberation Sans', Arial, sans-serif" >Havcr2</text>
<text x="1277.6" y="1540.8" font-size="21.5" text-anchor="start" fill="#111" font-weight="normal" font-family="'Liberation Sans', Arial, sans-serif" >Socs1</text>
<text x="1277.6" y="1568.8" font-size="21.5" text-anchor="start" fill="#111" font-weight="normal" font-family="'Liberation Sans', Arial, sans-serif" >Tigit</text>
<text x="1277.6" y="1596.8" font-size="21.5" text-anchor="start" fill="#111" font-weight="normal" font-family="'Liberation Sans', Arial, sans-serif" >Tnfaip3</text>
<text x="1277.6" y="1624.7" font-size="21.5" text-anchor="start" fill="#111" font-weight="normal" font-family="'Liberation Sans', Arial, sans-serif" >Cd244</text>
<text x="1277.6" y="1652.7" font-size="21.5" text-anchor="start" fill="#111" font-weight="normal" font-family="'Liberation Sans', Arial, sans-serif" >Il18bp</text>
<text x="1277.6" y="1680.7" font-size="21.5" text-anchor="start" fill="#111" font-weight="normal" font-family="'Liberation Sans', Arial, sans-serif" >Pdcd1lg2</text>
<text x="1277.6" y="1708.7" font-size="21.5" text-anchor="start" fill="#111" font-weight="normal" font-family="'Liberation Sans', Arial, sans-serif" >Pvrig</text>
<text x="1277.6" y="1736.7" font-size="21.5" text-anchor="start" fill="#111" font-weight="normal" font-family="'Liberation Sans', Arial, sans-serif" >Lag3</text>
<text x="1277.6" y="1764.6" font-size="21.5" text-anchor="start" fill="#111" font-weight="normal" font-family="'Liberation Sans', Arial, sans-serif" >Klrc1</text>
<text x="1277.6" y="1792.6" font-size="21.5" text-anchor="start" fill="#111" font-weight="normal" font-family="'Liberation Sans', Arial, sans-serif" >Klrd1</text>
<text x="1277.6" y="1820.6" font-size="21.5" text-anchor="start" fill="#111" font-weight="normal" font-family="'Liberation Sans', Arial, sans-serif" >Cd96</text>
<text x="1277.6" y="1848.6" font-size="21.5" text-anchor="start" fill="#111" font-weight="normal" font-family="'Liberation Sans', Arial, sans-serif" >Ido2</text>
<text x="1277.6" y="1876.6" font-size="21.5" text-anchor="start" fill="#111" font-weight="normal" font-family="'Liberation Sans', Arial, sans-serif" >Ido1</text>
<text x="1277.6" y="1904.5" font-size="21.5" text-anchor="start" fill="#111" font-weight="normal" font-family="'Liberation Sans', Arial, sans-serif" >Klrg1</text>
<text x="1277.6" y="1932.5" font-size="21.5" text-anchor="start" fill="#111" font-weight="normal" font-family="'Liberation Sans', Arial, sans-serif" >Pdcd1</text>
<text x="1277.6" y="1960.5" font-size="21.5" text-anchor="start" fill="#111" font-weight="normal" font-family="'Liberation Sans', Arial, sans-serif" >Cd27</text>
<text x="1277.6" y="1988.5" font-size="21.5" text-anchor="start" fill="#111" font-weight="normal" font-family="'Liberation Sans', Arial, sans-serif" >Il27</text>
<rect x="1133.2" y="1298.9" width="256.5" height="697.6" fill="none" stroke="#4cc35a" stroke-width="3.2"/>
<text x="1059.3" y="2043.6" font-size="32.5" text-anchor="middle" fill="#ff2020" font-weight="normal" font-family="'Liberation Sans', Arial, sans-serif" textLength="86.7" lengthAdjust="spacingAndGlyphs" >pCDH</text>
<text x="1199.3" y="2043.6" font-size="32.5" text-anchor="middle" fill="#1a2a6c" font-weight="normal" font-family="'Liberation Sans', Arial, sans-serif" textLength="89.4" lengthAdjust="spacingAndGlyphs" >PD-L1</text>
<text x="1131.3" y="2120.3" font-size="41.5" text-anchor="middle" fill="#111" font-weight="normal" font-family="'Liberation Sans', Arial, sans-serif" textLength="133.8" lengthAdjust="spacingAndGlyphs" >MCA38</text>
<text x="1377.4" y="945.8" font-size="51" text-anchor="start" fill="#000" font-weight="bold" font-family="'Liberation Sans', Arial, sans-serif" >F</text>
<path d="M1468.3 1049.4V1072.3M1488.7 1049.4V1072.3M1495.9 1049.4V1072.3M1487.9 1049.4V1072.3M1442.5 1079.5V1102.3M1444.5 1079.5V1102.3M1463.0 1079.5V1102.3M1472.4 1079.5V1102.3M1473.1 1079.5V1102.3M1477.7 1079.5V1102.3M1451.5 1109.5V1132.4M1485.7 1109.5V1132.4M1459.7 1109.5V1132.4M1478.7 1109.5V1132.4M1486.3 1139.6V1162.4M1488.3 1139.6V1162.4M1492.5 1139.6V1162.4M1453.5 1139.6V1162.4M1471.5 1169.6V1192.5M1513.4 1169.6V1192.5M1515.4 1169.6V1192.5M1462.7 1169.6V1192.5M1457.3 1199.7V1222.6M1462.6 1199.7V1222.6M1478.9 1199.7V1222.6M1453.0 1229.8V1252.6M1455.0 1229.8V1252.6M1468.8 1229.8V1252.6M1476.4 1229.8V1252.6M1448.4 1229.8V1252.6M1499.7 1229.8V1252.6M1532.3 1259.8V1282.7M1471.2 1259.8V1282.7M1456.8 1259.8V1282.7M1475.8 1259.8V1282.7M1486.9 1289.9V1312.7M1462.7 1289.9V1312.7M1471.3 1289.9V1312.7M1513.0 1319.9V1342.8M1492.0 1319.9V1342.8M1486.9 1319.9V1342.8M1475.1 1319.9V1342.8M1476.5 1350.0V1372.9M1475.5 1350.0V1372.9M1466.6 1350.0V1372.9M1481.9 1350.0V1372.9M1483.1 1380.1V1402.9M1459.5 1380.1V1402.9M1461.5 1380.1V1402.9M1462.9 1380.1V1402.9M1489.5 1410.1V1433.0M1478.1 1410.1V1433.0M1530.6 1410.1V1433.0M1443.2 1410.1V1433.0M1473.4 1440.2V1463.0M1442.5 1440.2V1463.0M1480.4 1440.2V1463.0M1457.4 1440.2V1463.0M1485.3 1470.2V1493.1M1459.2 1470.2V1493.1M1502.6 1470.2V1493.1M1485.1 1500.3V1523.2M1476.8 1500.3V1523.2M1478.8 1500.3V1523.2M1498.8 1500.3V1523.2M1464.3 1500.3V1523.2M1483.9 1500.3V1523.2M1485.9 1500.3V1523.2M1442.5 1530.4V1553.2M1460.2 1530.4V1553.2M1493.8 1530.4V1553.2M1467.5 1560.4V1583.3M1476.6 1560.4V1583.3M1495.1 1560.4V1583.3M1475.2 1560.4V1583.3M1477.2 1560.4V1583.3M1492.1 1590.5V1613.3M1481.4 1590.5V1613.3M1485.7 1590.5V1613.3M1529.9 1590.5V1613.3M1531.9 1590.5V1613.3M1520.5 1590.5V1613.3M1481.3 1620.5V1643.4M1445.8 1620.5V1643.4M1447.8 1620.5V1643.4M1497.9 1620.5V1643.4M1499.9 1620.5V1643.4M1473.3 1620.5V1643.4M1498.7 1620.5V1643.4M1487.0 1650.6V1673.5M1471.1 1650.6V1673.5M1488.0 1650.6V1673.5M1503.5 1650.6V1673.5M1505.5 1650.6V1673.5M1498.5 1680.7V1703.5M1496.3 1680.7V1703.5M1508.1 1680.7V1703.5M1503.9 1680.7V1703.5M1494.7 1710.7V1733.6M1510.2 1710.7V1733.6M1494.4 1710.7V1733.6M1509.3 1740.8V1763.6M1522.6 1740.8V1763.6M1451.1 1740.8V1763.6M1480.0 1740.8V1763.6M1471.1 1770.8V1793.7M1483.8 1770.8V1793.7M1485.8 1770.8V1793.7M1475.1 1770.8V1793.7M1498.2 1800.9V1823.8M1487.7 1800.9V1823.8M1508.4 1800.9V1823.8M1510.4 1831.0V1853.8M1477.1 1831.0V1853.8M1446.4 1831.0V1853.8M1467.0 1831.0V1853.8M1501.4 1861.0V1883.9M1508.8 1861.0V1883.9M1510.0 1861.0V1883.9M1505.0 1861.0V1883.9M1502.5 1861.0V1883.9M1485.5 1891.1V1913.9M1494.3 1891.1V1913.9M1496.3 1891.1V1913.9M1516.5 1891.1V1913.9M1510.5 1921.1V1944.0M1493.9 1921.1V1944.0M1503.5 1921.1V1944.0M1479.6 1951.2V1974.1M1495.0 1951.2V1974.1M1508.7 1951.2V1974.1M1504.0 1981.3V2004.1M1524.4 1981.3V2004.1M1476.5 1981.3V2004.1M1483.1 1981.3V2004.1M1485.1 1981.3V2004.1M1494.1 1981.3V2004.1M1496.1 1981.3V2004.1" stroke="#1f4a8e" stroke-width="2.5" fill="none"/>
<path d="M1534.0 1049.4V1072.3M1485.9 1049.4V1072.3M1521.2 1049.4V1072.3M1523.3 1049.4V1072.3M1507.4 1049.4V1072.3M1524.7 1079.5V1102.3M1510.4 1079.5V1102.3M1523.3 1079.5V1102.3M1527.5 1109.5V1132.4M1513.1 1109.5V1132.4M1506.5 1109.5V1132.4M1501.8 1109.5V1132.4M1534.0 1109.5V1132.4M1491.0 1139.6V1162.4M1462.2 1139.6V1162.4M1528.1 1139.6V1162.4M1492.6 1139.6V1162.4M1516.0 1139.6V1162.4M1518.0 1139.6V1162.4M1501.6 1169.6V1192.5M1516.8 1169.6V1192.5M1518.8 1169.6V1192.5M1497.2 1169.6V1192.5M1495.9 1169.6V1192.5M1527.5 1169.6V1192.5M1529.5 1169.6V1192.5M1500.0 1199.7V1222.6M1501.8 1199.7V1222.6M1481.4 1199.7V1222.6M1518.2 1229.8V1252.6M1505.3 1229.8V1252.6M1492.8 1229.8V1252.6M1506.2 1259.8V1282.7M1523.0 1259.8V1282.7M1518.1 1259.8V1282.7M1460.9 1289.9V1312.7M1482.4 1289.9V1312.7M1511.2 1289.9V1312.7M1494.7 1319.9V1342.8M1450.8 1319.9V1342.8M1495.8 1319.9V1342.8M1500.1 1319.9V1342.8M1503.6 1350.0V1372.9M1468.5 1350.0V1372.9M1460.7 1350.0V1372.9M1510.5 1350.0V1372.9M1514.7 1380.1V1402.9M1509.1 1380.1V1402.9M1509.0 1380.1V1402.9M1480.1 1410.1V1433.0M1482.1 1410.1V1433.0M1501.0 1410.1V1433.0M1505.3 1410.1V1433.0M1531.0 1440.2V1463.0M1523.2 1440.2V1463.0M1505.4 1440.2V1463.0M1493.7 1440.2V1463.0M1499.3 1440.2V1463.0M1528.9 1470.2V1493.1M1491.3 1470.2V1493.1M1501.1 1470.2V1493.1M1495.5 1470.2V1493.1M1517.0 1500.3V1523.2M1534.0 1500.3V1523.2M1455.0 1500.3V1523.2M1531.6 1500.3V1523.2M1515.3 1500.3V1523.2M1502.9 1530.4V1553.2M1483.3 1530.4V1553.2M1465.8 1530.4V1553.2M1494.9 1530.4V1553.2M1499.1 1530.4V1553.2M1518.5 1560.4V1583.3M1497.1 1560.4V1583.3M1481.1 1560.4V1583.3M1516.9 1560.4V1583.3M1518.9 1560.4V1583.3M1493.0 1560.4V1583.3M1463.3 1590.5V1613.3M1453.4 1590.5V1613.3M1454.5 1590.5V1613.3M1472.2 1590.5V1613.3M1501.2 1620.5V1643.4M1460.8 1620.5V1643.4M1490.4 1620.5V1643.4M1501.0 1650.6V1673.5M1492.1 1650.6V1673.5M1476.4 1650.6V1673.5M1478.4 1650.6V1673.5M1492.3 1680.7V1703.5M1492.2 1680.7V1703.5M1493.7 1680.7V1703.5M1480.7 1680.7V1703.5M1485.2 1680.7V1703.5M1505.8 1710.7V1733.6M1507.6 1710.7V1733.6M1486.0 1710.7V1733.6M1511.0 1710.7V1733.6M1513.0 1710.7V1733.6M1459.5 1710.7V1733.6M1460.7 1740.8V1763.6M1472.4 1740.8V1763.6M1483.5 1740.8V1763.6M1519.3 1740.8V1763.6M1534.0 1740.8V1763.6M1523.1 1770.8V1793.7M1525.1 1770.8V1793.7M1479.1 1770.8V1793.7M1503.6 1770.8V1793.7M1505.6 1770.8V1793.7M1495.6 1770.8V1793.7M1501.7 1800.9V1823.8M1503.7 1800.9V1823.8M1513.4 1800.9V1823.8M1497.2 1800.9V1823.8M1511.7 1800.9V1823.8M1502.5 1831.0V1853.8M1487.5 1831.0V1853.8M1489.5 1831.0V1853.8M1497.2 1831.0V1853.8M1498.8 1831.0V1853.8M1469.1 1861.0V1883.9M1459.7 1861.0V1883.9M1472.1 1861.0V1883.9M1480.6 1891.1V1913.9M1483.6 1891.1V1913.9M1470.0 1891.1V1913.9M1453.7 1891.1V1913.9M1488.7 1891.1V1913.9M1450.5 1921.1V1944.0M1477.1 1921.1V1944.0M1479.8 1921.1V1944.0M1489.4 1951.2V1974.1M1459.6 1951.2V1974.1M1461.6 1951.2V1974.1M1490.1 1951.2V1974.1M1472.4 1951.2V1974.1M1484.1 1981.3V2004.1M1466.5 1981.3V2004.1M1473.3 1981.3V2004.1M1484.6 1981.3V2004.1M1489.9 1981.3V2004.1" stroke="#ff1e12" stroke-width="2.5" fill="none"/>
<line x1="1488.5" y1="1050.4" x2="1488.5" y2="2014" stroke="#111" stroke-width="1.2" stroke-dasharray="3.5 2.5"/>
<rect x="1440.5" y="1050.4" width="95.5" height="963.6" fill="none" stroke="#111" stroke-width="1.6"/>
<line x1="1462" y1="1041.4" x2="1462" y2="1050.4" stroke="#111" stroke-width="1.5"/>
<text x="1456.5" y="1026.0" font-size="29" text-anchor="middle" fill="#111" font-weight="normal" font-family="'Liberation Sans', Arial, sans-serif" >-1</text>
<line x1="1488.5" y1="1041.4" x2="1488.5" y2="1050.4" stroke="#111" stroke-width="1.5"/>
<text x="1486.0" y="1026.0" font-size="29" text-anchor="middle" fill="#111" font-weight="normal" font-family="'Liberation Sans', Arial, sans-serif" >0</text>
<line x1="1514.6" y1="1041.4" x2="1514.6" y2="1050.4" stroke="#111" stroke-width="1.5"/>
<text x="1512.1" y="1026.0" font-size="29" text-anchor="middle" fill="#111" font-weight="normal" font-family="'Liberation Sans', Arial, sans-serif" >1</text>
<text x="1423.5" y="982.0" font-size="28" text-anchor="start" fill="#111" font-weight="normal" font-family="'Liberation Sans', Arial, sans-serif" textLength="110" lengthAdjust="spacingAndGlyphs" >Samples</text>
<text x="1551.3" y="1000.5" font-size="32" text-anchor="start" fill="#111" font-weight="normal" font-family="'Liberation Sans', Arial, sans-serif" textLength="125.5" lengthAdjust="spacingAndGlyphs" >HIS-high</text>
<text x="1684.0" y="1000.5" font-size="32" text-anchor="start" fill="#111" font-weight="normal" font-family="'Liberation Sans', Arial, sans-serif" textLength="113.6" lengthAdjust="spacingAndGlyphs" >HIS-low</text>
<rect x="1548" y="1018.5" width="128" height="11.9" fill="#fa2012"/>
<rect x="1681" y="1018.5" width="127" height="11.9" fill="#a4c8e6"/>
<rect x="1547.4" y="1045.80" width="128.8" height="30.66" fill="#b0222f"/>
<rect x="1676.2" y="1045.80" width="133.8" height="30.66" fill="#3a66a2"/>
<rect x="1547.4" y="1075.86" width="128.8" height="30.66" fill="#8c1428"/>
<rect x="1676.2" y="1075.86" width="133.8" height="30.66" fill="#1b3461"/>
<rect x="1547.4" y="1105.92" width="128.8" height="30.66" fill="#8c1428"/>
<rect x="1676.2" y="1105.92" width="133.8" height="30.66" fill="#1b3461"/>
<rect x="1547.4" y="1135.98" width="128.8" height="30.66" fill="#d46a58"/>
<rect x="1676.2" y="1135.98" width="133.8" height="30.66" fill="#a8d4e6"/>
<rect x="1547.4" y="1166.04" width="128.8" height="30.66" fill="#d8735e"/>
<rect x="1676.2" y="1166.04" width="133.8" height="30.66" fill="#b8dcea"/>
<rect x="1547.4" y="1196.10" width="128.8" height="30.66" fill="#e0957a"/>
<rect x="1676.2" y="1196.10" width="133.8" height="30.66" fill="#d5e8f0"/>
<rect x="1547.4" y="1226.16" width="128.8" height="30.66" fill="#e0957a"/>
<rect x="1676.2" y="1226.16" width="133.8" height="30.66" fill="#d5e8f0"/>
<rect x="1547.4" y="1256.22" width="128.8" height="30.66" fill="#dd8a70"/>
<rect x="1676.2" y="1256.22" width="133.8" height="30.66" fill="#cde4ee"/>
<rect x="1547.4" y="1286.28" width="128.8" height="30.66" fill="#df8e74"/>
<rect x="1676.2" y="1286.28" width="133.8" height="30.66" fill="#d2e6f0"/>
<rect x="1547.4" y="1316.34" width="128.8" height="30.66" fill="#df8e74"/>
<rect x="1676.2" y="1316.34" width="133.8" height="30.66" fill="#d5e8f0"/>
<rect x="1547.4" y="1346.40" width="128.8" height="30.66" fill="#cd5048"/>
<rect x="1676.2" y="1346.40" width="133.8" height="30.66" fill="#6fb0d2"/>
<rect x="1547.4" y="1376.46" width="128.8" height="30.66" fill="#c84a46"/>
<rect x="1676.2" y="1376.46" width="133.8" height="30.66" fill="#78b2d2"/>
<rect x="1547.4" y="1406.52" width="128.8" height="30.66" fill="#c84a46"/>
<rect x="1676.2" y="1406.52" width="133.8" height="30.66" fill="#78b2d2"/>
<rect x="1547.4" y="1436.58" width="128.8" height="30.66" fill="#b82c38"/>
<rect x="1676.2" y="1436.58" width="133.8" height="30.66" fill="#4582bb"/>
<rect x="1547.4" y="1466.64" width="128.8" height="30.66" fill="#bc3038"/>
<rect x="1676.2" y="1466.64" width="133.8" height="30.66" fill="#4a88c0"/>
<rect x="1547.4" y="1496.70" width="128.8" height="30.66" fill="#c44444"/>
<rect x="1676.2" y="1496.70" width="133.8" height="30.66" fill="#62a2c8"/>
<rect x="1547.4" y="1526.76" width="128.8" height="30.66" fill="#c03c40"/>
<rect x="1676.2" y="1526.76" width="133.8" height="30.66" fill="#5898c4"/>
<rect x="1547.4" y="1556.82" width="128.8" height="30.66" fill="#c03c40"/>
<rect x="1676.2" y="1556.82" width="133.8" height="30.66" fill="#5898c4"/>
<rect x="1547.4" y="1586.88" width="128.8" height="30.66" fill="#1b3461"/>
<rect x="1676.2" y="1586.88" width="133.8" height="30.66" fill="#7a0c22"/>
<rect x="1547.4" y="1616.94" width="128.8" height="30.66" fill="#ebbba2"/>
<rect x="1676.2" y="1616.94" width="133.8" height="30.66" fill="#f5f4f2"/>
<rect x="1547.4" y="1647.00" width="128.8" height="30.66" fill="#f5e6dc"/>
<rect x="1676.2" y="1647.00" width="133.8" height="30.66" fill="#f3d5c4"/>
<rect x="1547.4" y="1677.06" width="128.8" height="30.66" fill="#f0d2c0"/>
<rect x="1676.2" y="1677.06" width="133.8" height="30.66" fill="#f3e8e0"/>
<rect x="1547.4" y="1707.12" width="128.8" height="30.66" fill="#f3e0d2"/>
<rect x="1676.2" y="1707.12" width="133.8" height="30.66" fill="#f3e0d2"/>
<rect x="1547.4" y="1737.18" width="128.8" height="30.66" fill="#f3e0d2"/>
<rect x="1676.2" y="1737.18" width="133.8" height="30.66" fill="#f3e4da"/>
<rect x="1547.4" y="1767.24" width="128.8" height="30.66" fill="#f3e0d2"/>
<rect x="1676.2" y="1767.24" width="133.8" height="30.66" fill="#f3e4da"/>
<rect x="1547.4" y="1797.30" width="128.8" height="30.66" fill="#f3e0d2"/>
<rect x="1676.2" y="1797.30" width="133.8" height="30.66" fill="#f3e4da"/>
<rect x="1547.4" y="1827.36" width="128.8" height="30.66" fill="#f3e0d2"/>
<rect x="1676.2" y="1827.36" width="133.8" height="30.66" fill="#f3e0d2"/>
<rect x="1547.4" y="1857.42" width="128.8" height="30.66" fill="#c0e0ea"/>
<rect x="1676.2" y="1857.42" width="133.8" height="30.66" fill="#dc7e66"/>
<rect x="1547.4" y="1887.48" width="128.8" height="30.66" fill="#bcdce8"/>
<rect x="1676.2" y="1887.48" width="133.8" height="30.66" fill="#dc7e66"/>
<rect x="1547.4" y="1917.54" width="128.8" height="30.66" fill="#f2f4f5"/>
<rect x="1676.2" y="1917.54" width="133.8" height="30.66" fill="#ebb49a"/>
<rect x="1547.4" y="1947.60" width="128.8" height="30.66" fill="#e6eff3"/>
<rect x="1676.2" y="1947.60" width="133.8" height="30.66" fill="#e8aa8e"/>
<rect x="1547.4" y="1977.66" width="128.8" height="30.66" fill="#e6eff3"/>
<rect x="1676.2" y="1977.66" width="133.8" height="30.66" fill="#e8aa8e"/>
<text x="1824.3" y="1068.5" font-size="21.3" text-anchor="start" fill="#111" font-weight="normal" font-family="'Liberation Sans', Arial, sans-serif" >Tdo2</text>
<text x="1824.3" y="1098.6" font-size="21.3" text-anchor="start" fill="#111" font-weight="normal" font-family="'Liberation Sans', Arial, sans-serif" >Havcr2</text>
<text x="1824.3" y="1128.6" font-size="21.3" text-anchor="start" fill="#111" font-weight="normal" font-family="'Liberation Sans', Arial, sans-serif" >Vtcn1</text>
<text x="1824.3" y="1158.7" font-size="21.3" text-anchor="start" fill="#111" font-weight="normal" font-family="'Liberation Sans', Arial, sans-serif" >Pvrig</text>
<text x="1824.3" y="1188.7" font-size="21.3" text-anchor="start" fill="#111" font-weight="normal" font-family="'Liberation Sans', Arial, sans-serif" >Lgals9</text>
<text x="1824.3" y="1218.8" font-size="21.3" text-anchor="start" fill="#111" font-weight="normal" font-family="'Liberation Sans', Arial, sans-serif" >Vista</text>
<text x="1824.3" y="1248.9" font-size="21.3" text-anchor="start" fill="#111" font-weight="normal" font-family="'Liberation Sans', Arial, sans-serif" >Klrb1b</text>
<text x="1824.3" y="1278.9" font-size="21.3" text-anchor="start" fill="#111" font-weight="normal" font-family="'Liberation Sans', Arial, sans-serif" >Lair1</text>
<text x="1824.3" y="1309.0" font-size="21.3" text-anchor="start" fill="#111" font-weight="normal" font-family="'Liberation Sans', Arial, sans-serif" >Tigit</text>
<text x="1824.3" y="1339.0" font-size="21.3" text-anchor="start" fill="#111" font-weight="normal" font-family="'Liberation Sans', Arial, sans-serif" >Cd200</text>
<text x="1824.3" y="1369.1" font-size="21.3" text-anchor="start" fill="#111" font-weight="normal" font-family="'Liberation Sans', Arial, sans-serif" >Tnfaip3</text>
<text x="1824.3" y="1399.2" font-size="21.3" text-anchor="start" fill="#111" font-weight="normal" font-family="'Liberation Sans', Arial, sans-serif" >Pdcd1lg2</text>
<text x="1824.3" y="1429.2" font-size="21.3" text-anchor="start" fill="#111" font-weight="normal" font-family="'Liberation Sans', Arial, sans-serif" >CD300a</text>
<text x="1824.3" y="1459.3" font-size="21.3" text-anchor="start" fill="#111" font-weight="normal" font-family="'Liberation Sans', Arial, sans-serif" >Nt5e</text>
<text x="1824.3" y="1489.3" font-size="21.3" text-anchor="start" fill="#111" font-weight="normal" font-family="'Liberation Sans', Arial, sans-serif" >Pdcd1</text>
<text x="1824.3" y="1519.4" font-size="21.3" text-anchor="start" fill="#111" font-weight="normal" font-family="'Liberation Sans', Arial, sans-serif" >Cd33</text>
<text x="1824.3" y="1549.5" font-size="21.3" text-anchor="start" fill="#111" font-weight="normal" font-family="'Liberation Sans', Arial, sans-serif" >Lag3</text>
<text x="1824.3" y="1579.5" font-size="21.3" text-anchor="start" fill="#111" font-weight="normal" font-family="'Liberation Sans', Arial, sans-serif" >Ido1</text>
<text x="1824.3" y="1609.6" font-size="21.3" text-anchor="start" fill="#111" font-weight="normal" font-family="'Liberation Sans', Arial, sans-serif" >Cd274</text>
<text x="1824.3" y="1639.6" font-size="21.3" text-anchor="start" fill="#111" font-weight="normal" font-family="'Liberation Sans', Arial, sans-serif" >Btla</text>
<text x="1824.3" y="1669.7" font-size="21.3" text-anchor="start" fill="#111" font-weight="normal" font-family="'Liberation Sans', Arial, sans-serif" >Cd112</text>
<text x="1824.3" y="1699.8" font-size="21.3" text-anchor="start" fill="#111" font-weight="normal" font-family="'Liberation Sans', Arial, sans-serif" >Cd200r</text>
<text x="1824.3" y="1729.8" font-size="21.3" text-anchor="start" fill="#111" font-weight="normal" font-family="'Liberation Sans', Arial, sans-serif" >Klrc1</text>
<text x="1824.3" y="1759.9" font-size="21.3" text-anchor="start" fill="#111" font-weight="normal" font-family="'Liberation Sans', Arial, sans-serif" >Cd155</text>
<text x="1824.3" y="1789.9" font-size="21.3" text-anchor="start" fill="#111" font-weight="normal" font-family="'Liberation Sans', Arial, sans-serif" >Entpd1</text>
<text x="1824.3" y="1820.0" font-size="21.3" text-anchor="start" fill="#111" font-weight="normal" font-family="'Liberation Sans', Arial, sans-serif" >Cd276</text>
<text x="1824.3" y="1850.1" font-size="21.3" text-anchor="start" fill="#111" font-weight="normal" font-family="'Liberation Sans', Arial, sans-serif" >Socs1</text>
<text x="1824.3" y="1880.1" font-size="21.3" text-anchor="start" fill="#111" font-weight="normal" font-family="'Liberation Sans', Arial, sans-serif" >Ido2</text>
<text x="1824.3" y="1910.2" font-size="21.3" text-anchor="start" fill="#111" font-weight="normal" font-family="'Liberation Sans', Arial, sans-serif" >Il18bp</text>
<text x="1824.3" y="1940.2" font-size="21.3" text-anchor="start" fill="#111" font-weight="normal" font-family="'Liberation Sans', Arial, sans-serif" >Ctla4</text>
<text x="1824.3" y="1970.3" font-size="21.3" text-anchor="start" fill="#111" font-weight="normal" font-family="'Liberation Sans', Arial, sans-serif" >Cd160</text>
<text x="1824.3" y="2000.4" font-size="21.3" text-anchor="start" fill="#111" font-weight="normal" font-family="'Liberation Sans', Arial, sans-serif" >Cd96</text>
<rect x="1678.5" y="1043.4" width="237.5" height="538.8" fill="none" stroke="#4cc35a" stroke-width="3.2"/>
<text x="1603.8" y="2047.1" font-size="32.5" text-anchor="middle" fill="#ff2020" font-weight="normal" font-family="'Liberation Sans', Arial, sans-serif" textLength="87.6" lengthAdjust="spacingAndGlyphs" >pCDH</text>
<text x="1746.6" y="2047.1" font-size="32.5" text-anchor="middle" fill="#1a2a6c" font-weight="normal" font-family="'Liberation Sans', Arial, sans-serif" textLength="89.8" lengthAdjust="spacingAndGlyphs" >PD-L1</text>
<text x="1675.5" y="2121.2" font-size="41.5" text-anchor="middle" fill="#111" font-weight="normal" font-family="'Liberation Sans', Arial, sans-serif" textLength="75" lengthAdjust="spacingAndGlyphs" >LAP</text>
<linearGradient id="cbf" x1="0" y1="0" x2="0" y2="1"><stop offset="0" stop-color="#680a1e"/><stop offset="0.143" stop-color="#c2323a"/><stop offset="0.286" stop-color="#e8977a"/><stop offset="0.4" stop-color="#f5d8c8"/><stop offset="0.5" stop-color="#f7f7f7"/><stop offset="0.571" stop-color="#d5e8f0"/><stop offset="0.643" stop-color="#a8d0e4"/><stop offset="0.714" stop-color="#6fa8d0"/><stop offset="0.857" stop-color="#3a70b0"/><stop offset="1" stop-color="#1b3461"/></linearGradient>
<rect x="1925.7" y="1045.8" width="17.7" height="263.7" fill="url(#cbf)"/>
<text x="1950.5" y="1053.0" font-size="15.5" text-anchor="start" fill="#111" font-weight="normal" font-family="'Liberation Sans', Arial, sans-serif" >1</text>
<text x="1950.5" y="1090.5" font-size="15.5" text-anchor="start" fill="#111" font-weight="normal" font-family="'Liberation Sans', Arial, sans-serif" >0.9</text>
<text x="1950.5" y="1128.0" font-size="15.5" text-anchor="start" fill="#111" font-weight="normal" font-family="'Liberation Sans', Arial, sans-serif" >0.8</text>
<text x="1950.5" y="1165.5" font-size="15.5" text-anchor="start" fill="#111" font-weight="normal" font-family="'Liberation Sans', Arial, sans-serif" >0.7</text>
<text x="1950.5" y="1203.0" font-size="15.5" text-anchor="start" fill="#111" font-weight="normal" font-family="'Liberation Sans', Arial, sans-serif" >0.6</text>
<text x="1950.5" y="1240.5" font-size="15.5" text-anchor="start" fill="#111" font-weight="normal" font-family="'Liberation Sans', Arial, sans-serif" >0.5</text>
<text x="1950.5" y="1278.0" font-size="15.5" text-anchor="start" fill="#111" font-weight="normal" font-family="'Liberation Sans', Arial, sans-serif" >0.4</text>
<text x="1950.5" y="1315.5" font-size="15.5" text-anchor="start" fill="#111" font-weight="normal" font-family="'Liberation Sans', Arial, sans-serif" >0.3</text>
</svg>
</body></html>
